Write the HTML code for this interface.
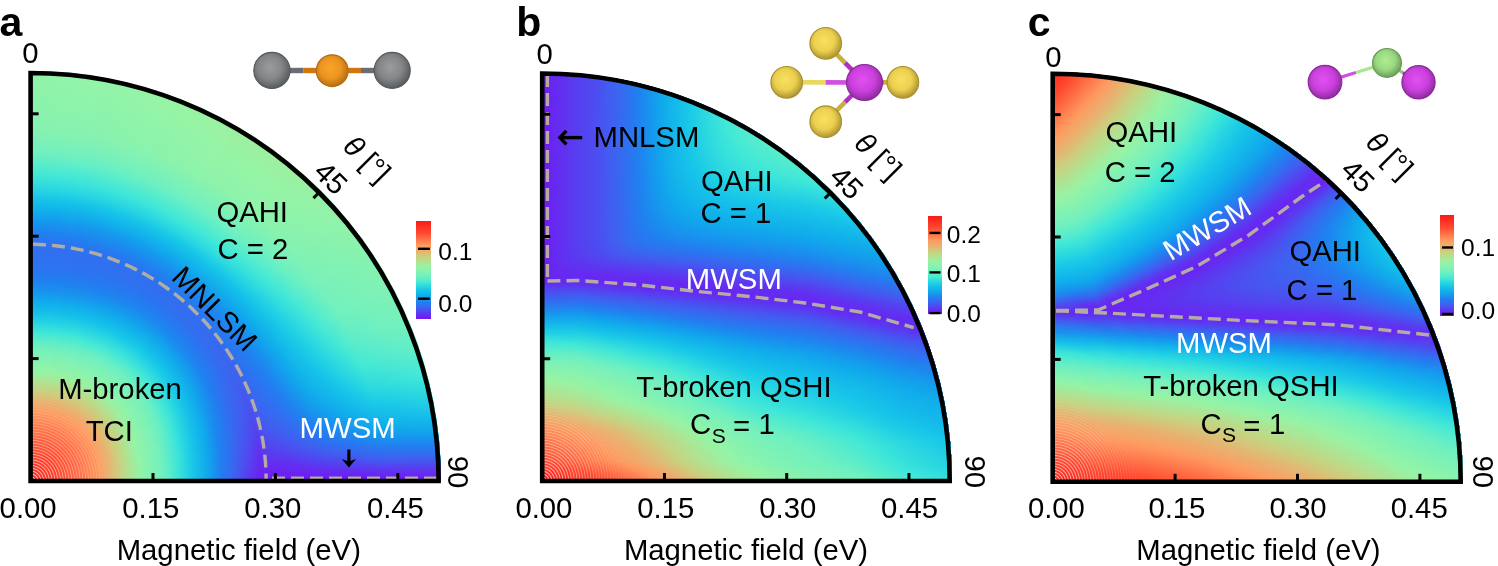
<!DOCTYPE html>
<html><head><meta charset="utf-8"><style>
html,body{margin:0;padding:0;background:#fff;}
body{width:1498px;height:566px;position:relative;overflow:hidden;font-family:"Liberation Sans", sans-serif;}
svg{position:absolute;left:0;top:0;will-change:transform;}
.hm{position:absolute;border-top-right-radius:100%;overflow:hidden;}
.L{position:absolute;left:0;top:0;width:100%;height:100%;}
</style></head><body>
<div class="hm" style="left:30.6px;top:71.0px;width:410.0px;height:410.0px"><div class="L" style="background:radial-gradient(circle 410.0px at 0 100%,#fb261f 0.0px,#fd3326 10.0px,#fe3f2b 20.0px,#ff4b31 30.0px,#ff5f3c 40.0px,#ff7248 50.0px,#ff8855 60.0px,#fc9d62 70.0px,#e7b370 80.0px,#cad07f 90.0px,#afe393 100.0px,#94f4a6 110.0px,#86f2b1 120.0px,#78f1ba 130.0px,#5eedc9 140.0px,#3ce5da 150.0px,#23d1e4 160.0px,#15bde9 170.0px,#11aaec 180.0px,#1991ee 190.0px,#1f81f0 200.0px,#2a76f0 210.0px,#2e72f0 220.0px,#316ff0 230.0px,#2b75f0 240.0px,#1e85ef 250.0px,#1698ee 260.0px,#12aeeb 270.0px,#16c0e9 280.0px,#25d3e3 290.0px,#37e1db 300.0px,#4aead3 310.0px,#60edc8 320.0px,#73f0be 330.0px,#7cf1b7 340.0px,#85f2b1 350.0px,#88f3af 360.0px,#8af3ae 370.0px,#8cf3ac 380.0px,#8ef3ab 390.0px,#90f3a9 400.0px,#92f4a8 410.0px);"></div><div class="L" style="background:radial-gradient(circle 410.0px at 0 100%,#fb261f 0.0px,#fd3326 10.0px,#fe3f2b 20.0px,#ff4b31 30.0px,#ff5e3c 40.0px,#ff7148 50.0px,#ff8755 60.0px,#fd9c62 70.0px,#e8b270 80.0px,#cbcf7f 90.0px,#b0e392 100.0px,#95f4a6 110.0px,#86f2b0 120.0px,#79f1ba 130.0px,#60edc8 140.0px,#3ee6d9 150.0px,#25d2e3 160.0px,#15bee9 170.0px,#11acec 180.0px,#1993ee 190.0px,#1f82f0 200.0px,#2977f0 210.0px,#2e72f0 220.0px,#316ff0 230.0px,#2a76f0 240.0px,#1e86ef 250.0px,#1699ee 260.0px,#12afeb 270.0px,#16c1e9 280.0px,#27d4e2 290.0px,#39e2db 300.0px,#4cead2 310.0px,#63eec7 320.0px,#74f0bd 330.0px,#7df1b6 340.0px,#87f2b0 350.0px,#89f3ae 360.0px,#8bf3ac 370.0px,#8ef3ab 380.0px,#90f3a9 390.0px,#92f4a8 400.0px,#93f4a7 410.0px);-webkit-mask-image:conic-gradient(from 0deg at 0 100%,transparent 0.00deg,#000 10.00deg);mask-image:conic-gradient(from 0deg at 0 100%,transparent 0.00deg,#000 10.00deg);"></div><div class="L" style="background:radial-gradient(circle 410.0px at 0 100%,#fb261f 0.0px,#fd3326 10.0px,#fe3f2b 20.0px,#ff4a30 30.0px,#ff5d3c 40.0px,#ff7047 50.0px,#ff8654 60.0px,#fe9b61 70.0px,#eab06e 80.0px,#cecc7d 90.0px,#b3e090 100.0px,#98f2a3 110.0px,#88f3af 120.0px,#7bf1b8 130.0px,#66eec5 140.0px,#43e9d6 150.0px,#2ad6e1 160.0px,#17c2e9 170.0px,#12b0eb 180.0px,#1699ee 190.0px,#1e85ef 200.0px,#2779f0 210.0px,#2e72f0 220.0px,#316ff0 230.0px,#2977f0 240.0px,#1d88ef 250.0px,#159bed 260.0px,#12b1eb 270.0px,#17c4e9 280.0px,#2ad6e1 290.0px,#3de5d9 300.0px,#52ebcf 310.0px,#69efc4 320.0px,#77f1bb 330.0px,#81f2b4 340.0px,#8af3ad 350.0px,#8df3ab 360.0px,#8ff3aa 370.0px,#91f4a8 380.0px,#94f4a7 390.0px,#96f4a5 400.0px,#98f3a4 410.0px);-webkit-mask-image:conic-gradient(from 0deg at 0 100%,transparent 10.00deg,#000 20.00deg);mask-image:conic-gradient(from 0deg at 0 100%,transparent 10.00deg,#000 20.00deg);"></div><div class="L" style="background:radial-gradient(circle 410.0px at 0 100%,#fb261f 0.0px,#fd3325 10.0px,#fe3f2b 20.0px,#ff4a30 30.0px,#ff5c3b 40.0px,#ff6f46 50.0px,#ff8453 60.0px,#ff9a60 70.0px,#edad6d 80.0px,#d2c87b 90.0px,#b7de8d 100.0px,#9cf0a0 110.0px,#8bf3ad 120.0px,#7ef1b6 130.0px,#6df0c1 140.0px,#4bead3 150.0px,#2fdbdf 160.0px,#18c7e8 170.0px,#13b4ea 180.0px,#13a0ed 190.0px,#1d89ef 200.0px,#247cf0 210.0px,#2e72f0 220.0px,#316ff0 230.0px,#2779f0 240.0px,#1c8aef 250.0px,#149eed 260.0px,#13b3eb 270.0px,#17c6e8 280.0px,#2dd9e0 290.0px,#40e8d8 300.0px,#57eccc 310.0px,#6ff0c1 320.0px,#7af1b9 330.0px,#84f2b2 340.0px,#8ef3ab 350.0px,#91f3a9 360.0px,#93f4a7 370.0px,#95f4a5 380.0px,#98f3a3 390.0px,#9bf1a1 400.0px,#9defa0 410.0px);-webkit-mask-image:conic-gradient(from 0deg at 0 100%,transparent 20.00deg,#000 30.00deg);mask-image:conic-gradient(from 0deg at 0 100%,transparent 20.00deg,#000 30.00deg);"></div><div class="L" style="background:radial-gradient(circle 410.0px at 0 100%,#fb261f 0.0px,#fd3325 10.0px,#fe3e2b 20.0px,#ff4930 30.0px,#ff5c3b 40.0px,#ff6e46 50.0px,#ff8352 60.0px,#ff985f 70.0px,#eeac6c 80.0px,#d4c67a 90.0px,#b9dc8b 100.0px,#9fee9e 110.0px,#8cf3ac 120.0px,#7ff2b5 130.0px,#71f0c0 140.0px,#4febd0 150.0px,#33dddd 160.0px,#1acae7 170.0px,#14b7ea 180.0px,#12a3ec 190.0px,#1c8aef 200.0px,#237df0 210.0px,#2f71f0 220.0px,#336df0 230.0px,#2779f0 240.0px,#1c8aef 250.0px,#149eed 260.0px,#13b3eb 270.0px,#17c5e8 280.0px,#2cd8e0 290.0px,#3fe7d8 300.0px,#56eccd 310.0px,#6ef0c1 320.0px,#7af1b9 330.0px,#84f2b2 340.0px,#8ef3ab 350.0px,#91f3a9 360.0px,#93f4a7 370.0px,#95f4a5 380.0px,#98f2a3 390.0px,#9bf0a1 400.0px,#9eef9f 410.0px);-webkit-mask-image:conic-gradient(from 0deg at 0 100%,transparent 30.00deg,#000 40.00deg);mask-image:conic-gradient(from 0deg at 0 100%,transparent 30.00deg,#000 40.00deg);"></div><div class="L" style="background:radial-gradient(circle 410.0px at 0 100%,#fb261f 0.0px,#fd3325 10.0px,#fe3e2b 20.0px,#ff4a30 30.0px,#ff5c3b 40.0px,#ff6e46 50.0px,#ff8352 60.0px,#ff995f 70.0px,#eeac6c 80.0px,#d4c67a 90.0px,#b9dc8b 100.0px,#9eee9f 110.0px,#8cf3ac 120.0px,#7ff2b6 130.0px,#70f0c0 140.0px,#4eead1 150.0px,#32ddde 160.0px,#1ac9e7 170.0px,#13b6ea 180.0px,#12a2ed 190.0px,#1d88ef 200.0px,#257bf0 210.0px,#316ff0 220.0px,#366af0 230.0px,#2977f0 240.0px,#1e86ef 250.0px,#1797ee 260.0px,#11adeb 270.0px,#15bee9 280.0px,#21cfe4 290.0px,#33dddd 300.0px,#43e9d6 310.0px,#59eccb 320.0px,#6ff0c1 330.0px,#79f1ba 340.0px,#82f2b3 350.0px,#85f2b1 360.0px,#88f2af 370.0px,#8af3ad 380.0px,#8df3ac 390.0px,#8ff3aa 400.0px,#91f3a9 410.0px);-webkit-mask-image:conic-gradient(from 0deg at 0 100%,transparent 40.00deg,#000 50.00deg);mask-image:conic-gradient(from 0deg at 0 100%,transparent 40.00deg,#000 50.00deg);"></div><div class="L" style="background:radial-gradient(circle 410.0px at 0 100%,#fb261f 0.0px,#fd3325 10.0px,#fe3f2b 20.0px,#ff4a30 30.0px,#ff5c3b 40.0px,#ff6f46 50.0px,#ff8453 60.0px,#ff9a60 70.0px,#edad6d 80.0px,#d2c87b 90.0px,#b7de8d 100.0px,#9df0a0 110.0px,#8bf3ad 120.0px,#7ef1b6 130.0px,#6df0c1 140.0px,#4bead2 150.0px,#2fdbdf 160.0px,#18c7e8 170.0px,#13b4eb 180.0px,#149eed 190.0px,#1e86ef 200.0px,#2878f0 210.0px,#346cf0 220.0px,#3a66f0 230.0px,#2c74f0 240.0px,#2081f0 250.0px,#1991ee 260.0px,#10a7ec 270.0px,#14b8ea 280.0px,#18c8e8 290.0px,#28d5e1 300.0px,#37e1dc 310.0px,#49e9d4 320.0px,#5dedca 330.0px,#70f0c0 340.0px,#79f1ba 350.0px,#7cf1b7 360.0px,#7ff2b6 370.0px,#81f2b4 380.0px,#84f2b2 390.0px,#86f2b0 400.0px,#88f3af 410.0px);-webkit-mask-image:conic-gradient(from 0deg at 0 100%,transparent 50.00deg,#000 56.00deg);mask-image:conic-gradient(from 0deg at 0 100%,transparent 50.00deg,#000 56.00deg);"></div><div class="L" style="background:radial-gradient(circle 410.0px at 0 100%,#fb261f 0.0px,#fd3326 10.0px,#fe3f2b 20.0px,#ff4a30 30.0px,#ff5d3b 40.0px,#ff7047 50.0px,#ff8553 60.0px,#fe9b60 70.0px,#ebaf6e 80.0px,#d0ca7c 90.0px,#b4df8e 100.0px,#9af1a2 110.0px,#89f3ae 120.0px,#7cf1b7 130.0px,#69efc4 140.0px,#46e9d5 150.0px,#2cd8e0 160.0px,#17c4e9 170.0px,#12b0eb 180.0px,#1699ee 190.0px,#1f81f0 200.0px,#2c74f0 210.0px,#3868f0 220.0px,#3e62f0 230.0px,#2f71f0 240.0px,#247cf0 250.0px,#1c8aef 260.0px,#149fed 270.0px,#12b0eb 280.0px,#16c0e9 290.0px,#1dcce6 300.0px,#2bd7e0 310.0px,#3ae3db 320.0px,#4bead3 330.0px,#5dedca 340.0px,#70f0c0 350.0px,#73f0be 360.0px,#76f1bc 370.0px,#78f1ba 380.0px,#7bf1b8 390.0px,#7df1b6 400.0px,#80f2b5 410.0px);-webkit-mask-image:conic-gradient(from 0deg at 0 100%,transparent 56.00deg,#000 62.00deg);mask-image:conic-gradient(from 0deg at 0 100%,transparent 56.00deg,#000 62.00deg);"></div><div class="L" style="background:radial-gradient(circle 410.0px at 0 100%,#fb261f 0.0px,#fd3326 10.0px,#fe3f2b 20.0px,#ff4b30 30.0px,#ff5e3c 40.0px,#ff7147 50.0px,#ff8654 60.0px,#fe9b61 70.0px,#eab06f 80.0px,#cdcd7d 90.0px,#b2e190 100.0px,#97f3a4 110.0px,#88f3af 120.0px,#7af1b9 130.0px,#64eec6 140.0px,#41e8d7 150.0px,#28d5e2 160.0px,#16c1e9 170.0px,#11adeb 180.0px,#1893ee 190.0px,#227ef0 200.0px,#316ff0 210.0px,#3c64f0 220.0px,#445af0 230.0px,#346cf0 240.0px,#2977f0 250.0px,#1f82f0 260.0px,#1895ee 270.0px,#10a8ec 280.0px,#14b7ea 290.0px,#17c2e9 300.0px,#1ecde6 310.0px,#2cd8e0 320.0px,#39e2db 330.0px,#48e9d4 340.0px,#5aeccb 350.0px,#60edc8 360.0px,#66eec5 370.0px,#6cefc2 380.0px,#71f0bf 390.0px,#74f0bd 400.0px,#76f1bc 410.0px);-webkit-mask-image:conic-gradient(from 0deg at 0 100%,transparent 62.00deg,#000 67.00deg);mask-image:conic-gradient(from 0deg at 0 100%,transparent 62.00deg,#000 67.00deg);"></div><div class="L" style="background:radial-gradient(circle 410.0px at 0 100%,#fb261f 0.0px,#fd3326 10.0px,#fe3f2b 20.0px,#ff4b31 30.0px,#ff5e3c 40.0px,#ff7148 50.0px,#ff8755 60.0px,#fd9c61 70.0px,#e8b270 80.0px,#cbcf7e 90.0px,#b0e292 100.0px,#95f4a6 110.0px,#87f2b0 120.0px,#79f1ba 130.0px,#61edc8 140.0px,#3ee7d9 150.0px,#25d2e3 160.0px,#16bee9 170.0px,#11abec 180.0px,#1a8eef 190.0px,#257bf0 200.0px,#356bf0 210.0px,#4060f0 220.0px,#4953f0 230.0px,#3967f0 240.0px,#2f71f0 250.0px,#267af0 260.0px,#1c8aef 270.0px,#159ced 280.0px,#11adeb 290.0px,#14b8ea 300.0px,#16c1e9 310.0px,#1ccce6 320.0px,#29d6e1 330.0px,#35dfdc 340.0px,#41e8d7 350.0px,#48e9d4 360.0px,#4eead1 370.0px,#54ebce 380.0px,#5aeccb 390.0px,#60edc8 400.0px,#65eec5 410.0px);-webkit-mask-image:conic-gradient(from 0deg at 0 100%,transparent 67.00deg,#000 71.00deg);mask-image:conic-gradient(from 0deg at 0 100%,transparent 67.00deg,#000 71.00deg);"></div><div class="L" style="background:radial-gradient(circle 410.0px at 0 100%,#fb261f 0.0px,#fd3426 10.0px,#fe3f2b 20.0px,#ff4b31 30.0px,#ff5f3c 40.0px,#ff7248 50.0px,#ff8855 60.0px,#fc9d62 70.0px,#e7b371 80.0px,#c9d17f 90.0px,#aee493 100.0px,#93f4a7 110.0px,#85f2b1 120.0px,#78f1ba 130.0px,#5dedc9 140.0px,#3be4da 150.0px,#22d0e4 160.0px,#15bcea 170.0px,#10a8ec 180.0px,#1c8aef 190.0px,#2977f0 200.0px,#3a66f0 210.0px,#4559f0 220.0px,#5049f0 230.0px,#4060f0 240.0px,#3868f0 250.0px,#2f71f0 260.0px,#237df0 270.0px,#1b8cef 280.0px,#159ced 290.0px,#10a9ec 300.0px,#13b2eb 310.0px,#15bbea 320.0px,#17c4e8 330.0px,#1ecde6 340.0px,#29d6e1 350.0px,#2edadf 360.0px,#32dddd 370.0px,#37e1dc 380.0px,#3be4da 390.0px,#3fe7d8 400.0px,#44e9d6 410.0px);-webkit-mask-image:conic-gradient(from 0deg at 0 100%,transparent 71.00deg,#000 75.00deg);mask-image:conic-gradient(from 0deg at 0 100%,transparent 71.00deg,#000 75.00deg);"></div><div class="L" style="background:radial-gradient(circle 410.0px at 0 100%,#fb261f 0.0px,#fd3426 10.0px,#fe3f2b 20.0px,#ff4c31 30.0px,#ff5f3d 40.0px,#ff7248 50.0px,#ff8956 60.0px,#fc9d62 70.0px,#e6b471 80.0px,#c8d280 90.0px,#ade594 100.0px,#92f4a8 110.0px,#85f2b1 120.0px,#77f1bb 130.0px,#5beccb 140.0px,#3ae3db 150.0px,#20cfe5 160.0px,#14baea 170.0px,#11a5ec 180.0px,#1e86ef 190.0px,#2c74f0 200.0px,#3d63f0 210.0px,#4953f0 220.0px,#5640f0 230.0px,#4756f0 240.0px,#4060f0 250.0px,#3967f0 260.0px,#2e72f0 270.0px,#247cf0 280.0px,#1c8aef 290.0px,#1796ee 300.0px,#13a1ed 310.0px,#11acec 320.0px,#13b3eb 330.0px,#15bbea 340.0px,#17c3e9 350.0px,#18c7e8 360.0px,#1bcae7 370.0px,#1fcde5 380.0px,#23d1e4 390.0px,#27d4e2 400.0px,#2bd7e0 410.0px);-webkit-mask-image:conic-gradient(from 0deg at 0 100%,transparent 75.00deg,#000 78.00deg);mask-image:conic-gradient(from 0deg at 0 100%,transparent 75.00deg,#000 78.00deg);"></div><div class="L" style="background:radial-gradient(circle 410.0px at 0 100%,#fb261f 0.0px,#fd3426 10.0px,#fe402b 20.0px,#ff4c31 30.0px,#ff5f3d 40.0px,#ff7349 50.0px,#ff8956 60.0px,#fb9e63 70.0px,#e5b572 80.0px,#c7d381 90.0px,#ace595 100.0px,#92f4a8 110.0px,#84f2b2 120.0px,#76f1bc 130.0px,#59eccc 140.0px,#38e2db 150.0px,#1fcde5 160.0px,#14b9ea 170.0px,#12a3ed 180.0px,#1f83f0 190.0px,#2e72f0 200.0px,#415ef0 210.0px,#4e4cf0 220.0px,#5d36f0 230.0px,#5049f0 240.0px,#4a51f0 250.0px,#4559f0 260.0px,#3c64f0 270.0px,#346cf0 280.0px,#2a76f0 290.0px,#227ef0 300.0px,#1d87ef 310.0px,#1a90ee 320.0px,#169aed 330.0px,#12a3ec 340.0px,#11acec 350.0px,#12afeb 360.0px,#12b2eb 370.0px,#13b5ea 380.0px,#14b8ea 390.0px,#15bbea 400.0px,#15bee9 410.0px);-webkit-mask-image:conic-gradient(from 0deg at 0 100%,transparent 78.00deg,#000 81.00deg);mask-image:conic-gradient(from 0deg at 0 100%,transparent 78.00deg,#000 81.00deg);"></div><div class="L" style="background:radial-gradient(circle 410.0px at 0 100%,#fb261f 0.0px,#fd3426 10.0px,#fe402b 20.0px,#ff4c31 30.0px,#ff603d 40.0px,#ff7349 50.0px,#ff8a56 60.0px,#fb9e63 70.0px,#e4b672 80.0px,#c7d381 90.0px,#abe695 100.0px,#91f4a8 110.0px,#84f2b2 120.0px,#75f1bc 130.0px,#58eccc 140.0px,#37e1dc 150.0px,#1ecde6 160.0px,#14b8ea 170.0px,#13a1ed 180.0px,#1f82f0 190.0px,#3070f0 200.0px,#445bf0 210.0px,#5247f0 220.0px,#6230f0 230.0px,#583ef0 240.0px,#5345f0 250.0px,#4e4cf0 260.0px,#4855f0 270.0px,#4060f0 280.0px,#3967f0 290.0px,#326ef0 300.0px,#2c74f0 310.0px,#267af0 320.0px,#2081f0 330.0px,#1c89ef 340.0px,#1991ee 350.0px,#1895ee 360.0px,#1699ed 370.0px,#149ded 380.0px,#13a1ed 390.0px,#11a5ec 400.0px,#10a8ec 410.0px);-webkit-mask-image:conic-gradient(from 0deg at 0 100%,transparent 81.00deg,#000 83.00deg);mask-image:conic-gradient(from 0deg at 0 100%,transparent 81.00deg,#000 83.00deg);"></div><div class="L" style="background:radial-gradient(circle 410.0px at 0 100%,#fb261f 0.0px,#fd3426 10.0px,#fe402b 20.0px,#ff4c31 30.0px,#ff603d 40.0px,#ff7349 50.0px,#ff8a56 60.0px,#fb9e63 70.0px,#e4b672 80.0px,#c6d381 90.0px,#aae696 100.0px,#91f3a8 110.0px,#83f2b2 120.0px,#75f1bc 130.0px,#57eccd 140.0px,#37e0dc 150.0px,#1dcce6 160.0px,#14b7ea 170.0px,#13a0ed 180.0px,#2080f0 190.0px,#326ef0 200.0px,#4657f0 210.0px,#5641f0 220.0px,#662af1 230.0px,#6032f0 240.0px,#5d36f0 250.0px,#593cf0 260.0px,#5443f0 270.0px,#4f4af0 280.0px,#4952f0 290.0px,#445af0 300.0px,#4060f0 310.0px,#3b65f0 320.0px,#366af0 330.0px,#316ff0 340.0px,#2c74f0 350.0px,#2a76f0 360.0px,#2779f0 370.0px,#257bf0 380.0px,#227ef0 390.0px,#2080f0 400.0px,#1f83f0 410.0px);-webkit-mask-image:conic-gradient(from 0deg at 0 100%,transparent 83.00deg,#000 85.00deg);mask-image:conic-gradient(from 0deg at 0 100%,transparent 83.00deg,#000 85.00deg);"></div><div class="L" style="background:radial-gradient(circle 410.0px at 0 100%,#fb261f 0.0px,#fd3426 10.0px,#fe402b 20.0px,#ff4c31 30.0px,#ff603d 40.0px,#ff7349 50.0px,#ff8a56 60.0px,#fb9f63 70.0px,#e3b772 80.0px,#c6d382 90.0px,#aae696 100.0px,#91f3a9 110.0px,#83f2b2 120.0px,#75f1bd 130.0px,#56eccd 140.0px,#36e0dc 150.0px,#1dcce6 160.0px,#14b7ea 170.0px,#149fed 180.0px,#217ff0 190.0px,#346cf0 200.0px,#4954f0 210.0px,#593df0 220.0px,#6926f2 230.0px,#662af1 240.0px,#642cf1 250.0px,#622ff0 260.0px,#5f33f0 270.0px,#5b39f0 280.0px,#573ef0 290.0px,#5443f0 300.0px,#5048f0 310.0px,#4d4df0 320.0px,#4952f0 330.0px,#4658f0 340.0px,#425df0 350.0px,#4060f0 360.0px,#3e62f0 370.0px,#3d63f0 380.0px,#3b65f0 390.0px,#3967f0 400.0px,#3769f0 410.0px);-webkit-mask-image:conic-gradient(from 0deg at 0 100%,transparent 85.00deg,#000 86.50deg);mask-image:conic-gradient(from 0deg at 0 100%,transparent 85.00deg,#000 86.50deg);"></div><div class="L" style="background:radial-gradient(circle 410.0px at 0 100%,#fb261f 0.0px,#fd3426 10.0px,#fe402b 20.0px,#ff4c31 30.0px,#ff603d 40.0px,#ff7349 50.0px,#ff8a57 60.0px,#fb9f63 70.0px,#e3b772 80.0px,#c6d482 90.0px,#aae696 100.0px,#91f3a9 110.0px,#83f2b3 120.0px,#75f0bd 130.0px,#56eccd 140.0px,#36e0dc 150.0px,#1ccbe6 160.0px,#14b7ea 170.0px,#149eed 180.0px,#227ef0 190.0px,#356bf0 200.0px,#4b51f0 210.0px,#5c38f0 220.0px,#6d21f2 230.0px,#6d21f2 240.0px,#6c23f2 250.0px,#6b24f2 260.0px,#6927f2 270.0px,#6729f1 280.0px,#652bf1 290.0px,#642df1 300.0px,#622ff0 310.0px,#6032f0 320.0px,#5e34f0 330.0px,#5c37f0 340.0px,#5a3af0 350.0px,#593cf0 360.0px,#583ef0 370.0px,#573ff0 380.0px,#5641f0 390.0px,#5542f0 400.0px,#5344f0 410.0px);-webkit-mask-image:conic-gradient(from 0deg at 0 100%,transparent 86.50deg,#000 88.00deg);mask-image:conic-gradient(from 0deg at 0 100%,transparent 86.50deg,#000 88.00deg);"></div><div class="L" style="background:radial-gradient(circle 410.0px at 0 100%,#fb261f 0.0px,#fd3426 10.0px,#fe402b 20.0px,#ff4c31 30.0px,#ff603d 40.0px,#ff7349 50.0px,#ff8a57 60.0px,#fb9f63 70.0px,#e3b772 80.0px,#c6d482 90.0px,#aae796 100.0px,#91f3a9 110.0px,#83f2b3 120.0px,#74f0bd 130.0px,#56eccd 140.0px,#36e0dc 150.0px,#1ccbe6 160.0px,#14b6ea 170.0px,#149eed 180.0px,#227ef0 190.0px,#366af0 200.0px,#4c4ff0 210.0px,#5e35f0 220.0px,#6f1ef3 230.0px,#721cf3 240.0px,#711cf3 250.0px,#701df3 260.0px,#701ef3 270.0px,#6f1ff3 280.0px,#6e20f3 290.0px,#6d21f2 300.0px,#6c22f2 310.0px,#6c23f2 320.0px,#6b24f2 330.0px,#6a25f2 340.0px,#6927f2 350.0px,#6927f2 360.0px,#6828f1 370.0px,#6828f1 380.0px,#6729f1 390.0px,#672af1 400.0px,#662af1 410.0px);-webkit-mask-image:conic-gradient(from 0deg at 0 100%,transparent 88.00deg,#000 89.00deg);mask-image:conic-gradient(from 0deg at 0 100%,transparent 88.00deg,#000 89.00deg);"></div><div class="L" style="background:radial-gradient(circle 410.0px at 0 100%,#fb261f 0.0px,#fd3426 10.0px,#fe402b 20.0px,#ff4c31 30.0px,#ff603d 40.0px,#ff7349 50.0px,#ff8a57 60.0px,#fa9f63 70.0px,#e3b773 80.0px,#c6d482 90.0px,#aae796 100.0px,#91f3a9 110.0px,#83f2b3 120.0px,#74f0bd 130.0px,#55eccd 140.0px,#36e0dc 150.0px,#1ccbe6 160.0px,#14b6ea 170.0px,#149eed 180.0px,#237df0 190.0px,#3769f0 200.0px,#4d4df0 210.0px,#6032f0 220.0px,#721cf3 230.0px,#7616f4 240.0px,#7616f4 250.0px,#7616f4 260.0px,#7616f4 270.0px,#7616f4 280.0px,#7616f4 290.0px,#7616f4 300.0px,#7616f4 310.0px,#7616f4 320.0px,#7616f4 330.0px,#7616f4 340.0px,#7616f4 350.0px,#7616f4 360.0px,#7616f4 370.0px,#7616f4 380.0px,#7616f4 390.0px,#7616f4 400.0px,#7616f4 410.0px);-webkit-mask-image:conic-gradient(from 0deg at 0 100%,transparent 89.00deg,#000 90.00deg);mask-image:conic-gradient(from 0deg at 0 100%,transparent 89.00deg,#000 90.00deg);"></div><div class="L" style="background:repeating-radial-gradient(circle at 0 100%,rgba(255,255,255,0) 0px,rgba(255,255,255,0) 0.5px,rgba(255,255,255,0.8) 1.4px,rgba(255,255,255,0) 2.3px,rgba(255,255,255,0) 2.8px);-webkit-mask-image:radial-gradient(circle 95px at 0 100%,rgba(0,0,0,0.95) 0px,rgba(0,0,0,0.55) 35px,rgba(0,0,0,0.2) 65px,rgba(0,0,0,0) 95px);mask-image:radial-gradient(circle 95px at 0 100%,rgba(0,0,0,0.95) 0px,rgba(0,0,0,0.55) 35px,rgba(0,0,0,0.2) 65px,rgba(0,0,0,0) 95px)"></div></div><div class="hm" style="left:542.2px;top:71.5px;width:409.5px;height:409.5px"><div class="L" style="background:radial-gradient(circle 409.5px at 0 100%,#fa1e1c 0.0px,#fd3325 10.0px,#ff4b31 20.0px,#ff5e3c 30.0px,#ff7248 40.0px,#ff8855 49.9px,#f5a567 59.9px,#ddbd76 69.9px,#c0d886 79.9px,#ade494 89.9px,#9cf0a1 99.9px,#8df3ab 109.9px,#7bf1b8 119.9px,#61eec7 129.8px,#3ce5da 139.8px,#1bcae7 149.8px,#12b0eb 159.8px,#1b8def 169.8px,#356bf0 179.8px,#4f4af0 189.8px,#6b24f2 199.8px,#721cf3 209.7px,#721cf3 219.7px,#721cf3 229.7px,#721cf3 239.7px,#721cf3 249.7px,#721cf3 259.7px,#721cf3 269.7px,#721cf3 279.7px,#721cf3 289.6px,#721cf3 299.6px,#721cf3 309.6px,#721cf3 319.6px,#721cf3 329.6px,#721cf3 339.6px,#721cf3 349.6px,#721cf3 359.6px,#721cf3 369.5px,#721cf3 379.5px,#721cf3 389.5px,#721cf3 399.5px,#721cf3 409.5px);"></div><div class="L" style="background:radial-gradient(circle 409.5px at 0 100%,#fa1e1c 0.0px,#fd3325 10.0px,#ff4b31 20.0px,#ff5e3c 30.0px,#ff7348 40.0px,#ff8855 49.9px,#f5a567 59.9px,#dcbe76 69.9px,#c0d886 79.9px,#ade494 89.9px,#9cf0a1 99.9px,#8df3ab 109.9px,#7bf1b8 119.9px,#61edc8 129.8px,#3ce5da 139.8px,#1bcae7 149.8px,#12b0eb 159.8px,#1b8def 169.8px,#356bf0 179.8px,#4f4bf0 189.8px,#6b24f2 199.8px,#721cf3 209.7px,#721cf3 219.7px,#721cf3 229.7px,#721cf3 239.7px,#721cf3 249.7px,#721cf3 259.7px,#721cf3 269.7px,#721cf3 279.7px,#721cf3 289.6px,#721cf3 299.6px,#721cf3 309.6px,#721cf3 319.6px,#721cf3 329.6px,#721cf3 339.6px,#721cf3 349.6px,#721cf3 359.6px,#721cf3 369.5px,#721cf3 379.5px,#721cf3 389.5px,#721cf3 399.5px,#721cf3 409.5px);-webkit-mask-image:conic-gradient(from 0deg at 0 100%,transparent 0.00deg,#000 0.50deg);mask-image:conic-gradient(from 0deg at 0 100%,transparent 0.00deg,#000 0.50deg);"></div><div class="L" style="background:radial-gradient(circle 409.5px at 0 100%,#fa1e1c 0.0px,#fd3325 10.0px,#ff4b31 20.0px,#ff5f3c 30.0px,#ff7348 40.0px,#ff8956 49.9px,#f5a567 59.9px,#dcbe76 69.9px,#bfd886 79.9px,#ade494 89.9px,#9bf0a1 99.9px,#8df3ab 109.9px,#7bf1b8 119.9px,#61edc8 129.8px,#3ce5da 139.8px,#1bcae7 149.8px,#12b0eb 159.8px,#1b8def 169.8px,#356bf0 179.8px,#4f4bf0 189.8px,#6b24f2 199.8px,#721cf3 209.7px,#721cf3 219.7px,#721cf3 229.7px,#721cf3 239.7px,#721cf3 249.7px,#721cf3 259.7px,#721cf3 269.7px,#721cf3 279.7px,#721cf3 289.6px,#721cf3 299.6px,#711cf3 309.6px,#711cf3 319.6px,#711df3 329.6px,#701df3 339.6px,#701df3 349.6px,#701ef3 359.6px,#701ef3 369.5px,#6f1ef3 379.5px,#6f1ff3 389.5px,#6f1ff3 399.5px,#6f1ff3 409.5px);-webkit-mask-image:conic-gradient(from 0deg at 0 100%,transparent 0.50deg,#000 1.00deg);mask-image:conic-gradient(from 0deg at 0 100%,transparent 0.50deg,#000 1.00deg);"></div><div class="L" style="background:radial-gradient(circle 409.5px at 0 100%,#fa1e1c 0.0px,#fd3325 10.0px,#ff4b31 20.0px,#ff5f3c 30.0px,#ff7349 40.0px,#ff8956 49.9px,#f4a567 59.9px,#dcbe76 69.9px,#bfd887 79.9px,#ade494 89.9px,#9bf1a1 99.9px,#8df3ab 109.9px,#7bf1b8 119.9px,#60edc8 129.8px,#3ce5da 139.8px,#1bcae7 149.8px,#12b0eb 159.8px,#1b8def 169.8px,#346cf0 179.8px,#4e4bf0 189.8px,#6b24f2 199.8px,#711cf3 209.7px,#711df3 219.7px,#701df3 229.7px,#701ef3 239.7px,#701ef3 249.7px,#6f1ff3 259.7px,#6f1ff3 269.7px,#6e20f3 279.7px,#6e20f3 289.6px,#6d21f2 299.6px,#6d21f2 309.6px,#6d22f2 319.6px,#6c22f2 329.6px,#6c23f2 339.6px,#6b23f2 349.6px,#6b24f2 359.6px,#6b25f2 369.5px,#6a25f2 379.5px,#6a26f2 389.5px,#6926f2 399.5px,#6927f2 409.5px);-webkit-mask-image:conic-gradient(from 0deg at 0 100%,transparent 1.00deg,#000 1.50deg);mask-image:conic-gradient(from 0deg at 0 100%,transparent 1.00deg,#000 1.50deg);"></div><div class="L" style="background:radial-gradient(circle 409.5px at 0 100%,#fa1e1c 0.0px,#fd3325 10.0px,#ff4b31 20.0px,#ff5f3d 30.0px,#ff7349 40.0px,#ff8956 49.9px,#f4a567 59.9px,#dcbe76 69.9px,#bfd887 79.9px,#ade594 89.9px,#9bf1a1 99.9px,#8df3ac 109.9px,#7bf1b8 119.9px,#60edc8 129.8px,#3ce5da 139.8px,#1bcae7 149.8px,#12b0eb 159.8px,#1b8def 169.8px,#346cf0 179.8px,#4e4cf0 189.8px,#6b25f2 199.8px,#6e20f3 209.7px,#6e20f3 219.7px,#6d21f2 229.7px,#6d22f2 239.7px,#6c23f2 249.7px,#6c23f2 259.7px,#6b24f2 269.7px,#6a25f2 279.7px,#6a25f2 289.6px,#6926f2 299.6px,#6927f2 309.6px,#6827f2 319.6px,#6828f1 329.6px,#6729f1 339.6px,#672af1 349.6px,#662af1 359.6px,#662af1 369.5px,#662af1 379.5px,#662bf1 389.5px,#652bf1 399.5px,#652bf1 409.5px);-webkit-mask-image:conic-gradient(from 0deg at 0 100%,transparent 1.50deg,#000 2.00deg);mask-image:conic-gradient(from 0deg at 0 100%,transparent 1.50deg,#000 2.00deg);"></div><div class="L" style="background:radial-gradient(circle 409.5px at 0 100%,#fa1e1c 0.0px,#fd3325 10.0px,#ff4c31 20.0px,#ff5f3d 30.0px,#ff7449 40.0px,#ff8a56 49.9px,#f4a668 59.9px,#dbbf76 69.9px,#bfd887 79.9px,#ace595 89.9px,#9bf1a2 99.9px,#8df3ac 109.9px,#7bf1b8 119.9px,#60edc8 129.8px,#3ce5da 139.8px,#1bcbe7 149.8px,#12b0eb 159.8px,#1a8eef 169.8px,#336df0 179.8px,#4e4cf0 189.8px,#6a25f2 199.8px,#6926f2 209.7px,#6828f1 219.7px,#6729f1 229.7px,#662af1 239.7px,#662af1 249.7px,#662bf1 259.7px,#652bf1 269.7px,#652cf1 279.7px,#652cf1 289.6px,#642df1 299.6px,#642df1 309.6px,#642df1 319.6px,#632ef1 329.6px,#632ef1 339.6px,#632ff0 349.6px,#622ff0 359.6px,#6230f0 369.5px,#6130f0 379.5px,#6131f0 389.5px,#6131f0 399.5px,#6032f0 409.5px);-webkit-mask-image:conic-gradient(from 0deg at 0 100%,transparent 2.00deg,#000 3.00deg);mask-image:conic-gradient(from 0deg at 0 100%,transparent 2.00deg,#000 3.00deg);"></div><div class="L" style="background:radial-gradient(circle 409.5px at 0 100%,#fa1e1c 0.0px,#fd3325 10.0px,#ff4c31 20.0px,#ff603d 30.0px,#ff7449 40.0px,#ff8a57 49.9px,#f4a668 59.9px,#dbbf76 69.9px,#bed987 79.9px,#ace595 89.9px,#9af1a2 99.9px,#8cf3ac 109.9px,#7bf1b8 119.9px,#60edc8 129.8px,#3ce5da 139.8px,#1ccbe7 149.8px,#12b1eb 159.8px,#1a8fef 169.8px,#336df0 179.8px,#4d4ef0 189.8px,#6926f2 199.8px,#6729f1 209.7px,#652cf1 219.7px,#642df1 229.7px,#642df1 239.7px,#632ef1 249.7px,#632ff0 259.7px,#622ff0 269.7px,#6230f0 279.7px,#6130f0 289.6px,#6131f0 299.6px,#6032f0 309.6px,#6032f0 319.6px,#5f33f0 329.6px,#5f34f0 339.6px,#5e35f0 349.6px,#5d36f0 359.6px,#5d36f0 369.5px,#5c37f0 379.5px,#5c38f0 389.5px,#5b39f0 399.5px,#5b3af0 409.5px);-webkit-mask-image:conic-gradient(from 0deg at 0 100%,transparent 3.00deg,#000 4.00deg);mask-image:conic-gradient(from 0deg at 0 100%,transparent 3.00deg,#000 4.00deg);"></div><div class="L" style="background:radial-gradient(circle 409.5px at 0 100%,#fa1e1c 0.0px,#fd3325 10.0px,#ff4c31 20.0px,#ff603d 30.0px,#ff754a 40.0px,#ff8b57 49.9px,#f3a668 59.9px,#dbbf77 69.9px,#bed987 79.9px,#ace595 89.9px,#9af1a2 99.9px,#8cf3ac 109.9px,#7bf1b8 119.9px,#60edc8 129.8px,#3ce5da 139.8px,#1ccbe6 149.8px,#12b1eb 159.8px,#1a90ee 169.8px,#326ef0 179.8px,#4c4ff0 189.8px,#6828f1 199.8px,#672af1 209.7px,#632ff0 219.7px,#6230f0 229.7px,#6131f0 239.7px,#6032f0 249.7px,#6033f0 259.7px,#5f34f0 269.7px,#5e35f0 279.7px,#5d36f0 289.6px,#5d37f0 299.6px,#5c38f0 309.6px,#5b39f0 319.6px,#5b3af0 329.6px,#5a3bf0 339.6px,#5a3bf0 349.6px,#593cf0 359.6px,#593df0 369.5px,#583df0 379.5px,#583ef0 389.5px,#573ff0 399.5px,#573ff0 409.5px);-webkit-mask-image:conic-gradient(from 0deg at 0 100%,transparent 4.00deg,#000 5.00deg);mask-image:conic-gradient(from 0deg at 0 100%,transparent 4.00deg,#000 5.00deg);"></div><div class="L" style="background:radial-gradient(circle 409.5px at 0 100%,#fa1e1c 0.0px,#fd3325 10.0px,#ff4c31 20.0px,#ff603d 30.0px,#ff754a 40.0px,#ff8b57 49.9px,#f3a668 59.9px,#dbbf77 69.9px,#bed987 79.9px,#abe595 89.9px,#9af1a2 99.9px,#8cf3ac 109.9px,#7bf1b8 119.9px,#61edc8 129.8px,#3ce5d9 139.8px,#1dcce6 149.8px,#13b2eb 159.8px,#1991ee 169.8px,#316ff0 179.8px,#4b50f0 189.8px,#6729f1 199.8px,#662af1 209.7px,#6131f0 219.7px,#5f34f0 229.7px,#5e35f0 239.7px,#5d37f0 249.7px,#5c38f0 259.7px,#5b39f0 269.7px,#5a3af0 279.7px,#5a3bf0 289.6px,#593cf0 299.6px,#593df0 309.6px,#583df0 319.6px,#573ef0 329.6px,#573ff0 339.6px,#5640f0 349.6px,#5641f0 359.6px,#5542f0 369.5px,#5542f0 379.5px,#5443f0 389.5px,#5344f0 399.5px,#5345f0 409.5px);-webkit-mask-image:conic-gradient(from 0deg at 0 100%,transparent 5.00deg,#000 6.00deg);mask-image:conic-gradient(from 0deg at 0 100%,transparent 5.00deg,#000 6.00deg);"></div><div class="L" style="background:radial-gradient(circle 409.5px at 0 100%,#fa1e1c 0.0px,#fd3325 10.0px,#ff4c31 20.0px,#ff613e 30.0px,#ff754a 40.0px,#ff8c57 49.9px,#f3a668 59.9px,#dbbf77 69.9px,#bed987 79.9px,#abe695 89.9px,#9af2a2 99.9px,#8cf3ac 109.9px,#7bf1b8 119.9px,#61eec7 129.8px,#3de5d9 139.8px,#1ecde6 149.8px,#13b3eb 159.8px,#1993ee 169.8px,#2f71f0 179.8px,#4a52f0 189.8px,#662bf1 199.8px,#662af1 209.7px,#5f33f0 219.7px,#5c38f0 229.7px,#5b3af0 239.7px,#5a3bf0 249.7px,#593cf0 259.7px,#583df0 269.7px,#583ef0 279.7px,#573ff0 289.6px,#5640f0 299.6px,#5641f0 309.6px,#5542f0 319.6px,#5443f0 329.6px,#5444f0 339.6px,#5345f0 349.6px,#5246f0 359.6px,#5247f0 369.5px,#5148f0 379.5px,#5049f0 389.5px,#5049f0 399.5px,#4f4af0 409.5px);-webkit-mask-image:conic-gradient(from 0deg at 0 100%,transparent 6.00deg,#000 7.00deg);mask-image:conic-gradient(from 0deg at 0 100%,transparent 6.00deg,#000 7.00deg);"></div><div class="L" style="background:radial-gradient(circle 409.5px at 0 100%,#fa1e1c 0.0px,#fd3326 10.0px,#ff4c31 20.0px,#ff613e 30.0px,#ff764a 40.0px,#ff8c58 49.9px,#f3a668 59.9px,#dac077 69.9px,#bed987 79.9px,#abe695 89.9px,#9af2a2 99.9px,#8cf3ac 109.9px,#7bf1b8 119.9px,#62eec7 129.8px,#3de6d9 139.8px,#1fcde5 149.8px,#13b4eb 159.8px,#1894ee 169.8px,#2e72f0 179.8px,#4854f0 189.8px,#642cf1 199.8px,#672af1 209.7px,#5e35f0 219.7px,#5a3bf0 229.7px,#583df0 239.7px,#573ef0 249.7px,#573ff0 259.7px,#5641f0 269.7px,#5542f0 279.7px,#5443f0 289.6px,#5444f0 299.6px,#5345f0 309.6px,#5246f0 319.6px,#5147f0 329.6px,#5048f0 339.6px,#5049f0 349.6px,#4f4bf0 359.6px,#4e4cf0 369.5px,#4d4df0 379.5px,#4d4ef0 389.5px,#4c4ff0 399.5px,#4b50f0 409.5px);-webkit-mask-image:conic-gradient(from 0deg at 0 100%,transparent 7.00deg,#000 8.00deg);mask-image:conic-gradient(from 0deg at 0 100%,transparent 7.00deg,#000 8.00deg);"></div><div class="L" style="background:radial-gradient(circle 409.5px at 0 100%,#fa1e1c 0.0px,#fd3326 10.0px,#ff4d32 20.0px,#ff613e 30.0px,#ff764b 40.0px,#ff8d58 49.9px,#f3a768 59.9px,#dac077 69.9px,#bed987 79.9px,#abe696 89.9px,#99f2a2 99.9px,#8cf3ac 109.9px,#7bf1b8 119.9px,#63eec6 129.8px,#3fe7d8 139.8px,#21cfe4 149.8px,#14b6ea 159.8px,#1698ee 169.8px,#2a76f0 179.8px,#4559f0 189.8px,#6131f0 199.8px,#6828f1 209.7px,#5d36f0 219.7px,#573ff0 229.7px,#5443f0 239.7px,#5345f0 249.7px,#5246f0 259.7px,#5148f0 269.7px,#5049f0 279.7px,#4f4bf0 289.6px,#4e4cf0 299.6px,#4d4df0 309.6px,#4c4ff0 319.6px,#4b50f0 329.6px,#4a52f0 339.6px,#4854f0 349.6px,#4757f0 359.6px,#4559f0 369.5px,#435bf0 379.5px,#425ef0 389.5px,#4060f0 399.5px,#3f61f0 409.5px);-webkit-mask-image:conic-gradient(from 0deg at 0 100%,transparent 8.00deg,#000 10.00deg);mask-image:conic-gradient(from 0deg at 0 100%,transparent 8.00deg,#000 10.00deg);"></div><div class="L" style="background:radial-gradient(circle 409.5px at 0 100%,#fa1e1c 0.0px,#fd3326 10.0px,#ff4d32 20.0px,#ff623e 30.0px,#ff774b 40.0px,#ff8d58 49.9px,#f3a768 59.9px,#dbbf77 69.9px,#bfd887 79.9px,#abe696 89.9px,#9af2a2 99.9px,#8cf3ac 109.9px,#7cf1b7 119.9px,#65eec5 129.8px,#41e8d8 139.8px,#24d1e3 149.8px,#14b9ea 159.8px,#159ced 169.8px,#2779f0 179.8px,#435cf0 189.8px,#5f34f0 199.8px,#6827f2 209.7px,#5d36f0 219.7px,#5443f0 229.7px,#5048f0 239.7px,#4e4bf0 249.7px,#4d4df0 259.7px,#4c4ff0 269.7px,#4b51f0 279.7px,#4954f0 289.6px,#4756f0 299.6px,#4559f0 309.6px,#435cf0 319.6px,#415ff0 329.6px,#3f61f0 339.6px,#3d63f0 349.6px,#3b65f0 359.6px,#3967f0 369.5px,#3769f0 379.5px,#346cf0 389.5px,#326ef0 399.5px,#2f71f0 409.5px);-webkit-mask-image:conic-gradient(from 0deg at 0 100%,transparent 10.00deg,#000 12.00deg);mask-image:conic-gradient(from 0deg at 0 100%,transparent 10.00deg,#000 12.00deg);"></div><div class="L" style="background:radial-gradient(circle 409.5px at 0 100%,#fa1e1c 0.0px,#fd3326 10.0px,#ff4d32 20.0px,#ff623f 30.0px,#ff774b 40.0px,#ff8e59 49.9px,#f3a668 59.9px,#dbbf76 69.9px,#bfd886 79.9px,#abe695 89.9px,#9af1a2 99.9px,#8cf3ac 109.9px,#7df1b7 119.9px,#68efc4 129.8px,#44e9d6 139.8px,#27d4e2 149.8px,#15bbea 159.8px,#149fed 169.8px,#257bf0 179.8px,#405ff0 189.8px,#5c38f0 199.8px,#6926f2 209.7px,#5e35f0 219.7px,#5345f0 229.7px,#4d4df0 239.7px,#4952f0 249.7px,#4756f0 259.7px,#445af0 269.7px,#425df0 279.7px,#4060f0 289.6px,#3e62f0 299.6px,#3b65f0 309.6px,#3967f0 319.6px,#366af0 329.6px,#336df0 339.6px,#3070f0 349.6px,#2c74f0 359.6px,#2977f0 369.5px,#267af0 379.5px,#227ef0 389.5px,#2081f0 399.5px,#1e85ef 409.5px);-webkit-mask-image:conic-gradient(from 0deg at 0 100%,transparent 12.00deg,#000 14.00deg);mask-image:conic-gradient(from 0deg at 0 100%,transparent 12.00deg,#000 14.00deg);"></div><div class="L" style="background:radial-gradient(circle 409.5px at 0 100%,#fa1e1c 0.0px,#fd3326 10.0px,#ff4d32 20.0px,#ff633f 30.0px,#ff774b 40.0px,#ff8e59 49.9px,#f4a668 59.9px,#dcbe76 69.9px,#c0d786 79.9px,#abe595 89.9px,#9af1a2 99.9px,#8df3ab 109.9px,#7ef2b6 119.9px,#6befc3 129.8px,#46e9d5 139.8px,#29d5e1 149.8px,#15bde9 159.8px,#12a2ed 169.8px,#227ef0 179.8px,#3e62f0 189.8px,#583ef0 199.8px,#6b25f2 209.7px,#5f33f0 219.7px,#5147f0 229.7px,#4854f0 239.7px,#435cf0 249.7px,#4060f0 259.7px,#3d63f0 269.7px,#3a66f0 279.7px,#3769f0 289.6px,#336df0 299.6px,#2f71f0 309.6px,#2b75f0 319.6px,#2779f0 329.6px,#247cf0 339.6px,#2080f0 349.6px,#1e85ef 359.6px,#1c8aef 369.5px,#1a8fef 379.5px,#1894ee 389.5px,#1699ee 399.5px,#149eed 409.5px);-webkit-mask-image:conic-gradient(from 0deg at 0 100%,transparent 14.00deg,#000 16.00deg);mask-image:conic-gradient(from 0deg at 0 100%,transparent 14.00deg,#000 16.00deg);"></div><div class="L" style="background:radial-gradient(circle 409.5px at 0 100%,#fa1e1c 0.0px,#fd3326 10.0px,#ff4c31 20.0px,#ff633f 30.0px,#ff774b 40.0px,#ff8e59 49.9px,#f4a568 59.9px,#ddbd76 69.9px,#c1d785 79.9px,#ace595 89.9px,#9bf1a1 99.9px,#8df3ab 109.9px,#80f2b5 119.9px,#6cefc2 129.8px,#48e9d4 139.8px,#2bd7e0 149.8px,#16bfe9 159.8px,#11a6ec 169.8px,#1f82f0 179.8px,#3b65f0 189.8px,#5444f0 199.8px,#6c23f2 209.7px,#6131f0 219.7px,#5246f0 229.7px,#4658f0 239.7px,#3e62f0 249.7px,#3868f0 259.7px,#346cf0 269.7px,#2f71f0 279.7px,#2b75f0 289.6px,#267af0 299.6px,#227ef0 309.6px,#1f83f0 319.6px,#1c89ef 329.6px,#1a8fef 339.6px,#1894ee 349.6px,#169aed 359.6px,#139fed 369.5px,#11a5ec 379.5px,#10aaec 389.5px,#11aeeb 399.5px,#12b2eb 409.5px);-webkit-mask-image:conic-gradient(from 0deg at 0 100%,transparent 16.00deg,#000 18.00deg);mask-image:conic-gradient(from 0deg at 0 100%,transparent 16.00deg,#000 18.00deg);"></div><div class="L" style="background:radial-gradient(circle 409.5px at 0 100%,#fa1e1c 0.0px,#fd3325 10.0px,#ff4c31 20.0px,#ff633f 30.0px,#ff784b 40.0px,#ff8e59 49.9px,#f5a567 59.9px,#debc75 69.9px,#c3d684 79.9px,#ade594 89.9px,#9cf0a1 99.9px,#8ef3ab 109.9px,#80f2b4 119.9px,#6ef0c1 129.8px,#4bead3 139.8px,#2ed9df 149.8px,#16c1e9 159.8px,#10a9ec 169.8px,#1d87ef 179.8px,#3769f0 189.8px,#4f4bf0 199.8px,#6b24f2 209.7px,#632ef1 219.7px,#5443f0 229.7px,#4559f0 239.7px,#3967f0 249.7px,#316ff0 259.7px,#2b75f0 269.7px,#257bf0 279.7px,#2080f0 289.6px,#1d87ef 299.6px,#1b8def 309.6px,#1894ee 319.6px,#159bed 329.6px,#13a1ed 339.6px,#10a8ec 349.6px,#11aceb 359.6px,#12b1eb 369.5px,#13b5ea 379.5px,#14baea 389.5px,#16bee9 399.5px,#17c2e9 409.5px);-webkit-mask-image:conic-gradient(from 0deg at 0 100%,transparent 18.00deg,#000 20.00deg);mask-image:conic-gradient(from 0deg at 0 100%,transparent 18.00deg,#000 20.00deg);"></div><div class="L" style="background:radial-gradient(circle 409.5px at 0 100%,#fa1e1c 0.0px,#fd3325 10.0px,#ff4c31 20.0px,#ff633f 30.0px,#ff774b 40.0px,#ff8e59 49.9px,#f5a467 59.9px,#dfbb74 69.9px,#c4d583 79.9px,#aee494 89.9px,#9df0a0 99.9px,#8ef3ab 109.9px,#81f2b4 119.9px,#70f0c0 129.8px,#4dead1 139.8px,#31dcde 149.8px,#17c4e8 159.8px,#11adeb 169.8px,#1b8def 179.8px,#326ef0 189.8px,#4a51f0 199.8px,#662bf1 209.7px,#662bf1 219.7px,#583ef0 229.7px,#4756f0 239.7px,#3769f0 249.7px,#2c74f0 259.7px,#247cf0 269.7px,#1f83f0 279.7px,#1c8bef 289.6px,#1893ee 299.6px,#159bed 309.6px,#12a3ed 319.6px,#11aaec 329.6px,#12b0eb 339.6px,#13b5ea 349.6px,#14baea 359.6px,#16bfe9 369.5px,#17c3e9 379.5px,#18c8e8 389.5px,#1dcce6 399.5px,#22d0e4 409.5px);-webkit-mask-image:conic-gradient(from 0deg at 0 100%,transparent 20.00deg,#000 22.00deg);mask-image:conic-gradient(from 0deg at 0 100%,transparent 20.00deg,#000 22.00deg);"></div><div class="L" style="background:radial-gradient(circle 409.5px at 0 100%,#fa1e1c 0.0px,#fd3325 10.0px,#ff4b31 20.0px,#ff633f 30.0px,#ff774b 40.0px,#ff8d58 49.9px,#f6a366 59.9px,#e1b974 69.9px,#c6d382 79.9px,#aee393 89.9px,#9defa0 99.9px,#8ef3aa 109.9px,#82f2b3 119.9px,#72f0bf 129.8px,#51ebd0 139.8px,#33dedd 149.8px,#18c8e8 159.8px,#12b1eb 169.8px,#1893ee 179.8px,#2c74f0 189.8px,#4559f0 199.8px,#6033f0 209.7px,#6828f1 219.7px,#5c38f0 229.7px,#4a51f0 239.7px,#3967f0 249.7px,#2a76f0 259.7px,#2080f0 269.7px,#1c8aef 279.7px,#1893ee 289.6px,#159ced 299.6px,#11a6ec 309.6px,#11adeb 319.6px,#13b4eb 329.6px,#15baea 339.6px,#16c0e9 349.6px,#17c5e8 359.6px,#1acae7 369.5px,#20cfe5 379.5px,#26d3e2 389.5px,#2cd8e0 399.5px,#31dcde 409.5px);-webkit-mask-image:conic-gradient(from 0deg at 0 100%,transparent 22.00deg,#000 24.00deg);mask-image:conic-gradient(from 0deg at 0 100%,transparent 22.00deg,#000 24.00deg);"></div><div class="L" style="background:radial-gradient(circle 409.5px at 0 100%,#fa1e1c 0.0px,#fd3325 10.0px,#ff4a30 20.0px,#ff633f 30.0px,#ff774b 40.0px,#ff8d58 49.9px,#f7a265 59.9px,#e2b873 69.9px,#c8d280 79.9px,#afe393 89.9px,#9eef9f 99.9px,#8ff3aa 109.9px,#83f2b3 119.9px,#73f0be 129.8px,#55ebce 139.8px,#37e0dc 149.8px,#1ccbe6 159.8px,#13b5ea 169.8px,#169aed 179.8px,#267af0 189.8px,#3f61f0 199.8px,#583ef0 209.7px,#6b24f2 219.7px,#6032f0 229.7px,#4f4af0 239.7px,#3e62f0 249.7px,#2c74f0 259.7px,#1f82f0 269.7px,#1b8def 279.7px,#1698ee 289.6px,#12a3ed 299.6px,#11acec 309.6px,#13b3eb 319.6px,#14baea 329.6px,#16c1e9 339.6px,#18c8e8 349.6px,#1fcde5 359.6px,#26d3e3 369.5px,#2dd8e0 379.5px,#33dedd 389.5px,#39e2db 399.5px,#3ee7d9 409.5px);-webkit-mask-image:conic-gradient(from 0deg at 0 100%,transparent 24.00deg,#000 26.00deg);mask-image:conic-gradient(from 0deg at 0 100%,transparent 24.00deg,#000 26.00deg);"></div><div class="L" style="background:radial-gradient(circle 409.5px at 0 100%,#fa1e1c 0.0px,#fd3225 10.0px,#ff4a30 20.0px,#ff633f 30.0px,#ff774b 40.0px,#ff8d58 49.9px,#f8a165 59.9px,#e4b672 69.9px,#cad07f 79.9px,#b0e292 89.9px,#9eee9f 99.9px,#8ff3aa 109.9px,#83f2b2 119.9px,#75f1bc 129.8px,#59eccc 139.8px,#3ae3da 149.8px,#21cfe4 159.8px,#14b9ea 169.8px,#13a1ed 179.8px,#2081f0 189.8px,#3a66f0 199.8px,#5049f0 209.7px,#6b24f2 219.7px,#642df1 229.7px,#5542f0 239.7px,#435bf0 249.7px,#316ff0 259.7px,#217ff0 269.7px,#1b8eef 279.7px,#169aed 289.6px,#11a5ec 299.6px,#11aeeb 309.6px,#13b6ea 319.6px,#15bde9 329.6px,#17c5e8 339.6px,#1fcee5 349.6px,#27d4e2 359.6px,#2fdadf 369.5px,#36e0dc 379.5px,#3de5d9 389.5px,#43e9d6 399.5px,#4aead3 409.5px);-webkit-mask-image:conic-gradient(from 0deg at 0 100%,transparent 26.00deg,#000 28.00deg);mask-image:conic-gradient(from 0deg at 0 100%,transparent 26.00deg,#000 28.00deg);"></div><div class="L" style="background:radial-gradient(circle 409.5px at 0 100%,#fa1e1c 0.0px,#fd3225 10.0px,#ff4930 20.0px,#ff633f 30.0px,#ff774b 40.0px,#ff8c58 49.9px,#f9a064 59.9px,#e6b471 69.9px,#ccce7e 79.9px,#b2e190 89.9px,#9fee9e 99.9px,#90f3a9 109.9px,#84f2b2 119.9px,#77f1bb 129.8px,#5dedc9 139.8px,#3ee6d9 149.8px,#26d4e2 159.8px,#15bee9 169.8px,#10a8ec 179.8px,#1c89ef 189.8px,#326ef0 199.8px,#4953f0 209.7px,#622ff0 219.7px,#6729f1 229.7px,#5b39f0 239.7px,#4a52f0 249.7px,#3769f0 259.7px,#257bf0 269.7px,#1b8bef 279.7px,#1698ee 289.6px,#12a4ec 299.6px,#11adeb 309.6px,#14b6ea 319.6px,#16bfe9 329.6px,#18c7e8 339.6px,#22d0e4 349.6px,#2dd9e0 359.6px,#34dfdd 369.5px,#3be4da 379.5px,#44e9d6 389.5px,#4dead1 399.5px,#55ebce 409.5px);-webkit-mask-image:conic-gradient(from 0deg at 0 100%,transparent 28.00deg,#000 30.00deg);mask-image:conic-gradient(from 0deg at 0 100%,transparent 28.00deg,#000 30.00deg);"></div><div class="L" style="background:radial-gradient(circle 409.5px at 0 100%,#fa1e1c 0.0px,#fc3225 10.0px,#ff492f 20.0px,#ff633f 30.0px,#ff764b 40.0px,#ff8b57 49.9px,#fb9e63 59.9px,#e8b270 69.9px,#cecc7d 79.9px,#b4df8f 89.9px,#a0ed9d 99.9px,#91f3a8 109.9px,#85f2b1 119.9px,#79f1ba 129.8px,#62eec7 139.8px,#42e8d7 149.8px,#2bd7e0 159.8px,#17c3e9 169.8px,#11aeeb 179.8px,#1992ee 189.8px,#2a76f0 199.8px,#415ef0 209.7px,#583df0 219.7px,#6b24f2 229.7px,#6131f0 239.7px,#5148f0 249.7px,#3f61f0 259.7px,#2d73f0 269.7px,#1e85ef 279.7px,#1894ee 289.6px,#13a1ed 299.6px,#11acec 309.6px,#13b4ea 319.6px,#15bee9 329.6px,#18c6e8 339.6px,#21d0e4 349.6px,#2dd9df 359.6px,#37e0dc 369.5px,#3fe7d9 379.5px,#49e9d4 389.5px,#53ebcf 399.5px,#5bedca 409.5px);-webkit-mask-image:conic-gradient(from 0deg at 0 100%,transparent 30.00deg,#000 32.00deg);mask-image:conic-gradient(from 0deg at 0 100%,transparent 30.00deg,#000 32.00deg);"></div><div class="L" style="background:radial-gradient(circle 409.5px at 0 100%,#fa1e1c 0.0px,#fc3225 10.0px,#ff482f 20.0px,#ff623f 30.0px,#ff764a 40.0px,#ff8a57 49.9px,#fc9d62 59.9px,#eab06f 69.9px,#d0ca7c 79.9px,#b7de8d 89.9px,#a1ec9d 99.9px,#92f4a8 109.9px,#86f2b0 119.9px,#7bf1b8 129.8px,#68efc4 139.8px,#48e9d4 149.8px,#30dbde 159.8px,#18c8e8 169.8px,#13b4eb 179.8px,#159ced 189.8px,#227ef0 199.8px,#3a66f0 209.7px,#4f4bf0 219.7px,#6828f1 229.7px,#662bf1 239.7px,#593df0 249.7px,#4755f0 259.7px,#356bf0 269.7px,#237df0 279.7px,#1a8eef 289.6px,#159ced 299.6px,#10a8ec 309.6px,#12b1eb 319.6px,#15baea 329.6px,#17c4e9 339.6px,#1ecce6 349.6px,#2bd7e1 359.6px,#37e1dc 369.5px,#3fe7d8 379.5px,#49ead3 389.5px,#53ebce 399.5px,#5dedc9 409.5px);-webkit-mask-image:conic-gradient(from 0deg at 0 100%,transparent 32.00deg,#000 34.00deg);mask-image:conic-gradient(from 0deg at 0 100%,transparent 32.00deg,#000 34.00deg);"></div><div class="L" style="background:radial-gradient(circle 409.5px at 0 100%,#fa1e1c 0.0px,#fc3125 10.0px,#ff482f 20.0px,#ff623e 30.0px,#ff754a 40.0px,#ff8956 49.9px,#fd9d62 59.9px,#ebaf6e 69.9px,#d2c87b 79.9px,#b9dc8b 89.9px,#a3eb9c 99.9px,#93f4a7 109.9px,#87f2af 119.9px,#7cf1b7 129.8px,#6df0c1 139.8px,#4fead1 149.8px,#35dfdc 159.8px,#1fcee5 169.8px,#14baea 179.8px,#11a5ec 189.8px,#1d89ef 199.8px,#3070f0 209.7px,#4658f0 219.7px,#5d37f0 229.7px,#6a25f2 239.7px,#6033f0 249.7px,#5049f0 259.7px,#3f61f0 269.7px,#2c74f0 279.7px,#1e86ef 289.6px,#1895ee 299.6px,#12a2ed 309.6px,#11adeb 319.6px,#13b5ea 329.6px,#16bfe9 339.6px,#19c9e8 349.6px,#24d2e3 359.6px,#32dcde 369.5px,#3de5d9 379.5px,#47e9d5 389.5px,#52ebcf 399.5px,#5cedca 409.5px);-webkit-mask-image:conic-gradient(from 0deg at 0 100%,transparent 34.00deg,#000 36.00deg);mask-image:conic-gradient(from 0deg at 0 100%,transparent 34.00deg,#000 36.00deg);"></div><div class="L" style="background:radial-gradient(circle 409.5px at 0 100%,#fa1e1c 0.0px,#fc3125 10.0px,#ff472f 20.0px,#ff613e 30.0px,#ff754a 40.0px,#ff8855 49.9px,#fd9c61 59.9px,#edad6d 69.9px,#d5c57a 79.9px,#bcda89 89.9px,#a5ea9a 99.9px,#95f4a6 109.9px,#89f3ae 119.9px,#7ef1b6 129.8px,#72f0bf 139.8px,#55eccd 149.8px,#3ae3da 159.8px,#25d3e3 169.8px,#16c0e9 179.8px,#11adeb 189.8px,#1893ee 199.8px,#2779f0 209.7px,#3d63f0 219.7px,#5148f0 229.7px,#6827f2 239.7px,#662bf1 249.7px,#593cf0 259.7px,#4954f0 269.7px,#3769f0 279.7px,#257bf0 289.6px,#1b8def 299.6px,#159aed 309.6px,#10a8ec 319.6px,#12b0eb 329.6px,#14b9ea 339.6px,#17c3e9 349.6px,#1dcce6 359.6px,#2ad6e1 369.5px,#37e1dc 379.5px,#42e8d7 389.5px,#4eead1 399.5px,#58eccc 409.5px);-webkit-mask-image:conic-gradient(from 0deg at 0 100%,transparent 36.00deg,#000 38.00deg);mask-image:conic-gradient(from 0deg at 0 100%,transparent 36.00deg,#000 38.00deg);"></div><div class="L" style="background:radial-gradient(circle 409.5px at 0 100%,#fa1e1c 0.0px,#fc3124 10.0px,#ff462e 20.0px,#ff613e 30.0px,#ff7449 40.0px,#ff8755 49.9px,#fe9b61 59.9px,#eeac6c 69.9px,#d7c378 79.9px,#bfd887 89.9px,#a8e897 99.9px,#96f4a5 109.9px,#8af3ad 119.9px,#7ff2b5 129.8px,#74f0bd 139.8px,#5cedca 149.8px,#3fe8d8 159.8px,#2bd7e0 169.8px,#18c7e8 179.8px,#13b4eb 189.8px,#149eed 199.8px,#1f83f0 209.7px,#336df0 219.7px,#4756f0 229.7px,#5c38f0 239.7px,#6b24f2 249.7px,#6131f0 259.7px,#5345f0 269.7px,#425df0 279.7px,#3070f0 289.6px,#2081f0 299.6px,#1992ee 309.6px,#149fed 319.6px,#11abec 329.6px,#13b3eb 339.6px,#15bce9 349.6px,#17c6e8 359.6px,#21cfe4 369.5px,#2ed9df 379.5px,#3be4da 389.5px,#46e9d5 399.5px,#51ebd0 409.5px);-webkit-mask-image:conic-gradient(from 0deg at 0 100%,transparent 38.00deg,#000 40.00deg);mask-image:conic-gradient(from 0deg at 0 100%,transparent 38.00deg,#000 40.00deg);"></div><div class="L" style="background:radial-gradient(circle 409.5px at 0 100%,#fa1e1c 0.0px,#fc3024 10.0px,#ff452e 20.0px,#ff603d 30.0px,#ff7349 40.0px,#ff8654 49.9px,#fe9b60 59.9px,#f0aa6a 69.9px,#dac077 79.9px,#c2d684 89.9px,#ace595 99.9px,#98f3a3 109.9px,#8cf3ac 119.9px,#81f2b4 129.8px,#76f1bc 139.8px,#63eec6 149.8px,#47e9d4 159.8px,#31dcde 169.8px,#1ecde6 179.8px,#15bbea 189.8px,#10a9ec 199.8px,#1a8fee 209.7px,#2878f0 219.7px,#3d63f0 229.7px,#4f4bf0 239.7px,#652cf1 249.7px,#6729f1 259.7px,#5c37f0 269.7px,#4d4df0 279.7px,#3d63f0 289.6px,#2b75f0 299.6px,#1e86ef 309.6px,#1895ee 319.6px,#12a2ed 329.6px,#11aceb 339.6px,#13b5ea 349.6px,#16bee9 359.6px,#18c8e8 369.5px,#23d1e4 379.5px,#30dbdf 389.5px,#3de6d9 399.5px,#4aead3 409.5px);-webkit-mask-image:conic-gradient(from 0deg at 0 100%,transparent 40.00deg,#000 42.00deg);mask-image:conic-gradient(from 0deg at 0 100%,transparent 40.00deg,#000 42.00deg);"></div><div class="L" style="background:radial-gradient(circle 409.5px at 0 100%,#fa1e1c 0.0px,#fc3024 10.0px,#fe452e 20.0px,#ff603d 30.0px,#ff7248 40.0px,#ff8553 49.9px,#ff9a60 59.9px,#f2a869 69.9px,#ddbd75 79.9px,#c6d482 89.9px,#b0e392 99.9px,#9af1a2 109.9px,#8ef3ab 119.9px,#83f2b3 129.8px,#78f1ba 139.8px,#6befc3 149.8px,#4febd0 159.8px,#38e1db 169.8px,#24d2e3 179.8px,#16c2e9 189.8px,#12b1eb 199.8px,#159ced 209.7px,#1f83f0 219.7px,#326ef0 229.7px,#445af0 239.7px,#5640f0 249.7px,#6d21f2 259.7px,#652cf1 269.7px,#593df0 279.7px,#4953f0 289.6px,#3967f0 299.6px,#2878f0 309.6px,#1c8aef 319.6px,#1797ee 329.6px,#12a4ec 339.6px,#11aeeb 349.6px,#13b6ea 359.6px,#16bfe9 369.5px,#18c8e8 379.5px,#25d2e3 389.5px,#33dddd 399.5px,#41e8d8 409.5px);-webkit-mask-image:conic-gradient(from 0deg at 0 100%,transparent 42.00deg,#000 44.00deg);mask-image:conic-gradient(from 0deg at 0 100%,transparent 42.00deg,#000 44.00deg);"></div><div class="L" style="background:radial-gradient(circle 409.5px at 0 100%,#fa1e1c 0.0px,#fc2f24 10.0px,#fe442d 20.0px,#ff5f3d 30.0px,#ff7148 40.0px,#ff8352 49.9px,#ff995f 59.9px,#f3a768 69.9px,#e1b974 79.9px,#c9d17f 89.9px,#b4e08f 99.9px,#9fee9f 109.9px,#90f3a9 119.9px,#85f2b1 129.8px,#7af1b9 139.8px,#70f0c0 149.8px,#58eccc 159.8px,#3ee6d9 169.8px,#2bd7e0 179.8px,#18c8e8 189.8px,#14b8ea 199.8px,#10a8ec 209.7px,#1a90ee 219.7px,#267af0 229.7px,#3967f0 239.7px,#4a52f0 249.7px,#5d37f0 259.7px,#6b24f2 269.7px,#622ff0 279.7px,#5641f0 289.6px,#4657f0 299.6px,#366af0 309.6px,#267af0 319.6px,#1b8cef 329.6px,#1698ee 339.6px,#11a4ec 349.6px,#11aeeb 359.6px,#14b6ea 369.5px,#16c0e9 379.5px,#1bcae7 389.5px,#27d4e2 399.5px,#35dfdc 409.5px);-webkit-mask-image:conic-gradient(from 0deg at 0 100%,transparent 44.00deg,#000 46.00deg);mask-image:conic-gradient(from 0deg at 0 100%,transparent 44.00deg,#000 46.00deg);"></div><div class="L" style="background:radial-gradient(circle 409.5px at 0 100%,#fa1e1c 0.0px,#fc2f24 10.0px,#fe432d 20.0px,#ff5e3c 30.0px,#ff7047 40.0px,#ff8252 49.9px,#ff975e 59.9px,#f4a568 69.9px,#e4b672 79.9px,#cdcd7d 89.9px,#b8dd8c 99.9px,#a3eb9b 109.9px,#92f4a8 119.9px,#87f2b0 129.8px,#7cf1b7 139.8px,#72f0be 149.8px,#60edc8 159.8px,#46e9d5 169.8px,#31dcde 179.8px,#20cee5 189.8px,#16c0e9 199.8px,#12b0eb 209.7px,#149ded 219.7px,#1d87ef 229.7px,#2c74f0 239.7px,#3e62f0 249.7px,#4e4cf0 259.7px,#6131f0 269.7px,#6a26f2 279.7px,#6131f0 289.6px,#5443f0 299.6px,#4559f0 309.6px,#356bf0 319.6px,#257bf0 329.6px,#1b8cef 339.6px,#1698ee 349.6px,#11a5ec 359.6px,#12afeb 369.5px,#14b7ea 379.5px,#16c1e9 389.5px,#1ccbe7 399.5px,#27d4e2 409.5px);-webkit-mask-image:conic-gradient(from 0deg at 0 100%,transparent 46.00deg,#000 48.00deg);mask-image:conic-gradient(from 0deg at 0 100%,transparent 46.00deg,#000 48.00deg);"></div><div class="L" style="background:radial-gradient(circle 409.5px at 0 100%,#fa1e1c 0.0px,#fc2f23 10.0px,#fe422c 20.0px,#ff5c3b 30.0px,#ff6f46 40.0px,#ff8151 49.9px,#ff965d 59.9px,#f5a467 69.9px,#e8b270 79.9px,#d1c97b 89.9px,#bcda89 99.9px,#a8e898 109.9px,#95f4a6 119.9px,#89f3ae 129.8px,#7ff2b5 139.8px,#75f1bd 149.8px,#66eec5 159.8px,#4eead1 169.8px,#38e2db 179.8px,#27d4e2 189.8px,#18c6e8 199.8px,#14b8ea 209.7px,#10aaec 219.7px,#1895ee 229.7px,#2080f0 239.7px,#316ff0 249.7px,#425ef0 259.7px,#5049f0 269.7px,#632ef1 279.7px,#6927f2 289.6px,#6032f0 299.6px,#5444f0 309.6px,#4558f0 319.6px,#366af0 329.6px,#267af0 339.6px,#1c8bef 349.6px,#1699ee 359.6px,#11a6ec 369.5px,#12afeb 379.5px,#14b8ea 389.5px,#16c1e9 399.5px,#1ccbe7 409.5px);-webkit-mask-image:conic-gradient(from 0deg at 0 100%,transparent 48.00deg,#000 50.00deg);mask-image:conic-gradient(from 0deg at 0 100%,transparent 48.00deg,#000 50.00deg);"></div><div class="L" style="background:radial-gradient(circle 409.5px at 0 100%,#fa1e1c 0.0px,#fc2e23 10.0px,#fe412c 20.0px,#ff5939 30.0px,#ff6e46 40.0px,#ff8051 49.9px,#ff945c 59.9px,#f6a366 69.9px,#eab06e 79.9px,#d5c579 89.9px,#c0d786 99.9px,#ade594 109.9px,#99f2a2 119.9px,#8cf3ac 129.8px,#81f2b4 139.8px,#77f1bb 149.8px,#6befc3 159.8px,#57eccd 169.8px,#3fe7d8 179.8px,#2edadf 189.8px,#1dcce6 199.8px,#16c0e9 209.7px,#13b3eb 219.7px,#12a3ec 229.7px,#1a8fee 239.7px,#247cf0 249.7px,#336df0 259.7px,#435cf0 269.7px,#5148f0 279.7px,#632ef1 289.6px,#6927f2 299.6px,#6131f0 309.6px,#5542f0 319.6px,#4756f0 329.6px,#3769f0 339.6px,#267af0 349.6px,#1b8cef 359.6px,#1699ee 369.5px,#11a5ec 379.5px,#12afeb 389.5px,#14b7ea 399.5px,#16c0e9 409.5px);-webkit-mask-image:conic-gradient(from 0deg at 0 100%,transparent 50.00deg,#000 52.00deg);mask-image:conic-gradient(from 0deg at 0 100%,transparent 50.00deg,#000 52.00deg);"></div><div class="L" style="background:radial-gradient(circle 409.5px at 0 100%,#fa1e1c 0.0px,#fc2e23 10.0px,#fe402b 20.0px,#ff5738 30.0px,#ff6d45 40.0px,#ff7f50 49.9px,#ff925b 59.9px,#f7a265 69.9px,#ecae6e 79.9px,#dac077 89.9px,#c5d482 99.9px,#b2e190 109.9px,#9fee9e 119.9px,#8ff3aa 129.8px,#84f2b2 139.8px,#7af1b9 149.8px,#70f0c0 159.8px,#5cedca 169.8px,#48e9d4 179.8px,#35dfdc 189.8px,#25d3e3 199.8px,#18c7e8 209.7px,#15bbea 219.7px,#12aeeb 229.7px,#149eed 239.7px,#1b8bef 249.7px,#257bf0 259.7px,#346cf0 269.7px,#435cf0 279.7px,#5049f0 289.6px,#6131f0 299.6px,#6a25f2 309.6px,#622ff0 319.6px,#573ff0 329.6px,#4855f0 339.6px,#3868f0 349.6px,#2779f0 359.6px,#1c8aef 369.5px,#1797ee 379.5px,#12a3ec 389.5px,#11adeb 399.5px,#13b5ea 409.5px);-webkit-mask-image:conic-gradient(from 0deg at 0 100%,transparent 52.00deg,#000 54.00deg);mask-image:conic-gradient(from 0deg at 0 100%,transparent 52.00deg,#000 54.00deg);"></div><div class="L" style="background:radial-gradient(circle 409.5px at 0 100%,#fa1e1c 0.0px,#fc2d23 10.0px,#fe3f2b 20.0px,#ff5436 30.0px,#ff6c44 40.0px,#ff7e4f 49.9px,#ff915b 59.9px,#f9a164 69.9px,#edad6c 79.9px,#debc75 89.9px,#cad07f 99.9px,#b7de8d 109.9px,#a4ea9a 119.9px,#93f4a7 129.8px,#87f2b0 139.8px,#7df1b7 149.8px,#73f0be 159.8px,#62eec7 169.8px,#4fead1 179.8px,#3ce5d9 189.8px,#2dd9df 199.8px,#1fcde5 209.7px,#17c2e9 219.7px,#14b7ea 229.7px,#11abec 239.7px,#159bed 249.7px,#1c8aef 259.7px,#257bf0 269.7px,#336df0 279.7px,#415ff0 289.6px,#4d4df0 299.6px,#5d37f0 309.6px,#6b23f2 319.6px,#632ef1 329.6px,#583ef0 339.6px,#4953f0 349.6px,#3a66f0 359.6px,#2a76f0 369.5px,#1d86ef 379.5px,#1895ee 389.5px,#13a0ed 399.5px,#11abec 409.5px);-webkit-mask-image:conic-gradient(from 0deg at 0 100%,transparent 54.00deg,#000 56.00deg);mask-image:conic-gradient(from 0deg at 0 100%,transparent 54.00deg,#000 56.00deg);"></div><div class="L" style="background:radial-gradient(circle 409.5px at 0 100%,#fa1e1c 0.0px,#fc2d23 10.0px,#fe3e2a 20.0px,#ff5134 30.0px,#ff6a43 40.0px,#ff7d4e 49.9px,#ff8f5a 59.9px,#fa9f63 69.9px,#efab6b 79.9px,#e1b973 89.9px,#cfcb7d 99.9px,#bcda89 109.9px,#aae696 119.9px,#99f2a3 129.8px,#8bf3ad 139.8px,#7ff2b5 149.8px,#76f1bc 159.8px,#68efc4 169.8px,#55eccd 179.8px,#43e9d6 189.8px,#35e0dc 199.8px,#27d4e2 209.7px,#1ac9e7 219.7px,#16bee9 229.7px,#13b4ea 239.7px,#11aaec 249.7px,#159bed 259.7px,#1b8bef 269.7px,#247cf0 279.7px,#3070f0 289.6px,#3d63f0 299.6px,#4953f0 309.6px,#593cf0 319.6px,#6c22f2 329.6px,#652cf1 339.6px,#5a3bf0 349.6px,#4c4ff0 359.6px,#3e62f0 369.5px,#2e72f0 379.5px,#2081f0 389.5px,#1990ee 399.5px,#159ced 409.5px);-webkit-mask-image:conic-gradient(from 0deg at 0 100%,transparent 56.00deg,#000 58.00deg);mask-image:conic-gradient(from 0deg at 0 100%,transparent 56.00deg,#000 58.00deg);"></div><div class="L" style="background:radial-gradient(circle 409.5px at 0 100%,#fa1e1c 0.0px,#fc2c22 10.0px,#fe3c2a 20.0px,#ff4e33 30.0px,#ff6842 40.0px,#ff7b4d 49.9px,#ff8e59 59.9px,#fc9e62 69.9px,#f0a96a 79.9px,#e4b672 89.9px,#d4c67a 99.9px,#c1d685 109.9px,#b0e292 119.9px,#9fee9e 129.8px,#90f3a9 139.8px,#83f2b2 149.8px,#79f1ba 159.8px,#6ef0c1 169.8px,#5bedca 179.8px,#4aead3 189.8px,#3ce5da 199.8px,#30dbde 209.7px,#22d0e4 219.7px,#17c6e8 229.7px,#15bde9 239.7px,#13b4eb 249.7px,#11aaec 259.7px,#159ced 269.7px,#1a8eef 279.7px,#2080f0 289.6px,#2c74f0 299.6px,#3967f0 309.6px,#4756f0 319.6px,#5542f0 329.6px,#6926f2 339.6px,#672af1 349.6px,#5d36f0 359.6px,#5148f0 369.5px,#435bf0 379.5px,#346cf0 389.5px,#257bf0 399.5px,#1c8aef 409.5px);-webkit-mask-image:conic-gradient(from 0deg at 0 100%,transparent 58.00deg,#000 60.00deg);mask-image:conic-gradient(from 0deg at 0 100%,transparent 58.00deg,#000 60.00deg);"></div><div class="L" style="background:radial-gradient(circle 409.5px at 0 100%,#fa1e1c 0.0px,#fc2c22 10.0px,#fd3b29 20.0px,#ff4b31 30.0px,#ff6540 40.0px,#ff794c 49.9px,#ff8c57 59.9px,#fd9c62 69.9px,#f2a869 79.9px,#e7b371 89.9px,#d8c278 99.9px,#c7d381 109.9px,#b6de8d 119.9px,#a5ea9a 129.8px,#95f4a6 139.8px,#88f3af 149.8px,#7cf1b7 159.8px,#72f0be 169.8px,#62eec7 179.8px,#51ebcf 189.8px,#42e8d7 199.8px,#36e0dc 209.7px,#2bd7e0 219.7px,#1fcee5 229.7px,#17c5e8 239.7px,#15bce9 249.7px,#13b4eb 259.7px,#11acec 269.7px,#13a0ed 279.7px,#1893ee 289.6px,#1e85ef 299.6px,#2878f0 309.6px,#356bf0 319.6px,#435cf0 329.6px,#4f4af0 339.6px,#6131f0 349.6px,#6926f2 359.6px,#6230f0 369.5px,#573ff0 379.5px,#4a52f0 389.5px,#3d63f0 399.5px,#2e72f0 409.5px);-webkit-mask-image:conic-gradient(from 0deg at 0 100%,transparent 60.00deg,#000 62.00deg);mask-image:conic-gradient(from 0deg at 0 100%,transparent 60.00deg,#000 62.00deg);"></div><div class="L" style="background:radial-gradient(circle 409.5px at 0 100%,#fa1e1c 0.0px,#fc2b22 10.0px,#fd3a29 20.0px,#ff4930 30.0px,#ff613e 40.0px,#ff784b 49.9px,#ff8a56 59.9px,#fe9b61 69.9px,#f4a668 79.9px,#e9b16f 89.9px,#dbbf77 99.9px,#ccce7e 109.9px,#bcda89 119.9px,#ace595 129.8px,#9bf0a1 139.8px,#8ef3ab 149.8px,#82f2b3 159.8px,#76f1bc 169.8px,#69efc3 179.8px,#59eccb 189.8px,#49ead3 199.8px,#3ce5da 209.7px,#31dcde 219.7px,#28d5e1 229.7px,#1ecde6 239.7px,#17c5e8 249.7px,#15bce9 259.7px,#13b5ea 269.7px,#11aeeb 279.7px,#11a5ec 289.6px,#1698ee 299.6px,#1c8aef 309.6px,#247cf0 319.6px,#3070f0 329.6px,#3d63f0 339.6px,#4953f0 349.6px,#573ff0 359.6px,#6c22f2 369.5px,#662af1 379.5px,#5e35f0 389.5px,#5345f0 399.5px,#4657f0 409.5px);-webkit-mask-image:conic-gradient(from 0deg at 0 100%,transparent 62.00deg,#000 64.00deg);mask-image:conic-gradient(from 0deg at 0 100%,transparent 62.00deg,#000 64.00deg);"></div><div class="L" style="background:radial-gradient(circle 409.5px at 0 100%,#fa1e1c 0.0px,#fc2b22 10.0px,#fd3928 20.0px,#ff472f 30.0px,#ff5d3b 40.0px,#ff764a 49.9px,#ff8855 59.9px,#ff995f 69.9px,#f5a467 79.9px,#ebaf6e 89.9px,#debc75 99.9px,#d0ca7c 109.9px,#c2d684 119.9px,#b2e190 129.8px,#a2ec9c 139.8px,#93f4a7 149.8px,#87f2af 159.8px,#7cf1b7 169.8px,#72f0bf 179.8px,#61eec7 189.8px,#52ebcf 199.8px,#42e8d7 209.7px,#37e1db 219.7px,#2fdadf 229.7px,#27d4e2 239.7px,#1ecde6 249.7px,#17c5e8 259.7px,#16bee9 269.7px,#14b7ea 279.7px,#12b1eb 289.6px,#10a9ec 299.6px,#149ded 309.6px,#1a90ee 319.6px,#1f82f0 329.6px,#2977f0 339.6px,#356bf0 349.6px,#425ef0 359.6px,#4d4df0 369.5px,#5c37f0 379.5px,#6b24f2 389.5px,#652cf1 399.5px,#5c38f0 409.5px);-webkit-mask-image:conic-gradient(from 0deg at 0 100%,transparent 64.00deg,#000 66.00deg);mask-image:conic-gradient(from 0deg at 0 100%,transparent 64.00deg,#000 66.00deg);"></div><div class="L" style="background:radial-gradient(circle 409.5px at 0 100%,#fa1e1c 0.0px,#fc2a22 10.0px,#fd3727 20.0px,#ff452e 30.0px,#ff5939 40.0px,#ff7248 49.9px,#ff8654 59.9px,#ff975e 69.9px,#f7a266 79.9px,#edad6c 89.9px,#e1b973 99.9px,#d3c77a 109.9px,#c6d482 119.9px,#b9dc8b 129.8px,#a9e797 139.8px,#99f2a3 149.8px,#8df3ab 159.8px,#82f2b3 169.8px,#78f1ba 179.8px,#6defc2 189.8px,#5aeccb 199.8px,#4bead3 209.7px,#3ee6d9 219.7px,#36e0dc 229.7px,#2ed9df 239.7px,#26d3e3 249.7px,#1fcde5 259.7px,#18c7e8 269.7px,#16c1e9 279.7px,#15baea 289.6px,#13b3eb 299.6px,#11acec 309.6px,#12a3ec 319.6px,#1797ee 329.6px,#1c8bef 339.6px,#227ef0 349.6px,#2d73f0 359.6px,#3868f0 369.5px,#445af0 379.5px,#4f4af0 389.5px,#5e35f0 399.5px,#6b24f2 409.5px);-webkit-mask-image:conic-gradient(from 0deg at 0 100%,transparent 66.00deg,#000 68.00deg);mask-image:conic-gradient(from 0deg at 0 100%,transparent 66.00deg,#000 68.00deg);"></div><div class="L" style="background:radial-gradient(circle 409.5px at 0 100%,#fa1e1c 0.0px,#fc2a21 10.0px,#fd3627 20.0px,#fe432d 30.0px,#ff5436 40.0px,#ff6d45 49.9px,#ff8352 59.9px,#ff945c 69.9px,#f9a164 79.9px,#efab6b 89.9px,#e4b672 99.9px,#d7c379 109.9px,#c9d17f 119.9px,#bdda88 129.8px,#afe392 139.8px,#a0ed9d 149.8px,#93f4a7 159.8px,#88f2af 169.8px,#7ef1b6 179.8px,#75f1bc 189.8px,#67efc4 199.8px,#55eccd 209.7px,#47e9d5 219.7px,#3de5d9 229.7px,#35dfdd 239.7px,#2dd9e0 249.7px,#26d3e2 259.7px,#20cee5 269.7px,#1ac9e7 279.7px,#17c3e9 289.6px,#15bde9 299.6px,#14b6ea 309.6px,#12afeb 319.6px,#10a9ec 329.6px,#149fed 339.6px,#1893ee 349.6px,#1d87ef 359.6px,#247cf0 369.5px,#2e72f0 379.5px,#3868f0 389.5px,#435cf0 399.5px,#4d4df0 409.5px);-webkit-mask-image:conic-gradient(from 0deg at 0 100%,transparent 68.00deg,#000 70.00deg);mask-image:conic-gradient(from 0deg at 0 100%,transparent 68.00deg,#000 70.00deg);"></div><div class="L" style="background:radial-gradient(circle 409.5px at 0 100%,#fa1e1c 0.0px,#fc2921 10.0px,#fd3526 20.0px,#fe412c 30.0px,#ff5034 40.0px,#ff6842 49.9px,#ff7e4f 59.9px,#ff915b 69.9px,#fa9f63 79.9px,#f1a96a 89.9px,#e7b370 99.9px,#dac077 109.9px,#cdcd7d 119.9px,#c0d786 129.8px,#b3e08f 139.8px,#a7e999 149.8px,#99f2a3 159.8px,#8ef3ab 169.8px,#84f2b1 179.8px,#7bf1b8 189.8px,#73f0be 199.8px,#63eec6 209.7px,#55ebce 219.7px,#47e9d5 229.7px,#3ce5da 239.7px,#34dedd 249.7px,#2ed9df 259.7px,#28d5e2 269.7px,#22d0e4 279.7px,#1bcbe7 289.6px,#17c6e8 299.6px,#16c0e9 309.6px,#14baea 319.6px,#13b3eb 329.6px,#11adeb 339.6px,#11a5ec 349.6px,#159ced 359.6px,#1991ee 369.5px,#1e86ef 379.5px,#247cf0 389.5px,#2c74f0 399.5px,#356bf0 409.5px);-webkit-mask-image:conic-gradient(from 0deg at 0 100%,transparent 70.00deg,#000 72.00deg);mask-image:conic-gradient(from 0deg at 0 100%,transparent 70.00deg,#000 72.00deg);"></div><div class="L" style="background:radial-gradient(circle 409.5px at 0 100%,#fa1e1c 0.0px,#fc2921 10.0px,#fd3426 20.0px,#fe3f2b 30.0px,#ff4c31 40.0px,#ff623f 49.9px,#ff784c 59.9px,#ff8d58 69.9px,#fc9d62 79.9px,#f3a768 89.9px,#eab06f 99.9px,#debc75 109.9px,#d1c97b 119.9px,#c4d583 129.8px,#b7dd8c 139.8px,#abe696 149.8px,#9eee9f 159.8px,#94f4a7 169.8px,#8bf3ad 179.8px,#82f2b3 189.8px,#79f1b9 199.8px,#71f0bf 209.7px,#64eec6 219.7px,#57eccd 229.7px,#49ead3 239.7px,#3ee6d9 249.7px,#36e0dc 259.7px,#30dbdf 269.7px,#2ad6e1 279.7px,#23d1e4 289.6px,#1dcce6 299.6px,#18c7e8 309.6px,#17c2e9 319.6px,#15bee9 329.6px,#14b7ea 339.6px,#12b1eb 349.6px,#11abec 359.6px,#12a3ed 369.5px,#159aed 379.5px,#1992ee 389.5px,#1c89ef 399.5px,#2080f0 409.5px);-webkit-mask-image:conic-gradient(from 0deg at 0 100%,transparent 72.00deg,#000 74.00deg);mask-image:conic-gradient(from 0deg at 0 100%,transparent 72.00deg,#000 74.00deg);"></div><div class="L" style="background:radial-gradient(circle 409.5px at 0 100%,#fa1e1c 0.0px,#fb2821 10.0px,#fd3325 20.0px,#fe3d2a 30.0px,#ff492f 40.0px,#ff5d3b 49.9px,#ff7248 59.9px,#ff8654 69.9px,#ff9a60 79.9px,#f5a467 89.9px,#ecae6d 99.9px,#e1b974 109.9px,#d5c57a 119.9px,#c8d280 129.8px,#bbdb89 139.8px,#afe393 149.8px,#a3eb9c 159.8px,#98f3a4 169.8px,#90f3aa 179.8px,#88f3af 189.8px,#80f2b5 199.8px,#78f1ba 209.7px,#72f0bf 219.7px,#66eec5 229.7px,#59eccb 239.7px,#4eead1 249.7px,#43e9d6 259.7px,#3be4da 269.7px,#33dedd 279.7px,#2cd8e0 289.6px,#25d3e3 299.6px,#20cee5 309.6px,#1ac9e7 319.6px,#17c4e8 329.6px,#16bfe9 339.6px,#15baea 349.6px,#13b5ea 359.6px,#12afeb 369.5px,#11aaec 379.5px,#12a4ec 389.5px,#159ded 399.5px,#1795ee 409.5px);-webkit-mask-image:conic-gradient(from 0deg at 0 100%,transparent 74.00deg,#000 76.00deg);mask-image:conic-gradient(from 0deg at 0 100%,transparent 74.00deg,#000 76.00deg);"></div><div class="L" style="background:radial-gradient(circle 409.5px at 0 100%,#fa1e1c 0.0px,#fb2820 10.0px,#fc3125 20.0px,#fd3b29 30.0px,#ff462e 40.0px,#ff5838 49.9px,#ff6c44 59.9px,#ff7f50 69.9px,#ff925b 79.9px,#f8a165 89.9px,#eeab6c 99.9px,#e4b672 109.9px,#d8c278 119.9px,#cbcf7e 129.8px,#bfd887 139.8px,#b3e090 149.8px,#a7e998 159.8px,#9cf0a0 169.8px,#93f4a7 179.8px,#8cf3ac 189.8px,#85f2b1 199.8px,#7ef2b6 209.7px,#79f1ba 219.7px,#73f0be 229.7px,#69efc3 239.7px,#5eedc9 249.7px,#54ebce 259.7px,#4aead3 269.7px,#40e8d8 279.7px,#38e2db 289.6px,#31dcde 299.6px,#2ad6e1 309.6px,#22d0e4 319.6px,#1ccbe6 329.6px,#18c6e8 339.6px,#16c1e9 349.6px,#15bcea 359.6px,#14b7ea 369.5px,#13b3eb 379.5px,#12b0eb 389.5px,#11acec 399.5px,#10a7ec 409.5px);-webkit-mask-image:conic-gradient(from 0deg at 0 100%,transparent 76.00deg,#000 78.00deg);mask-image:conic-gradient(from 0deg at 0 100%,transparent 76.00deg,#000 78.00deg);"></div><div class="L" style="background:radial-gradient(circle 409.5px at 0 100%,#fa1e1c 0.0px,#fb2720 10.0px,#fc3024 20.0px,#fd3928 30.0px,#fe432d 40.0px,#ff5235 49.9px,#ff6540 59.9px,#ff784c 69.9px,#ff8a57 79.9px,#fe9c61 89.9px,#f3a768 99.9px,#e8b270 109.9px,#dcbe76 119.9px,#cfcb7c 129.8px,#c3d684 139.8px,#b7de8d 149.8px,#abe696 159.8px,#a1ed9d 169.8px,#97f3a4 179.8px,#90f3a9 189.8px,#88f3af 199.8px,#83f2b3 209.7px,#7df1b7 219.7px,#78f1ba 229.7px,#73f0be 239.7px,#6ef0c1 249.7px,#65eec5 259.7px,#5bedca 269.7px,#51ebcf 279.7px,#47e9d4 289.6px,#3ee7d9 299.6px,#37e1db 309.6px,#30dcde 319.6px,#29d6e1 329.6px,#21cfe4 339.6px,#19c9e7 349.6px,#17c3e9 359.6px,#16bfe9 369.5px,#15bbea 379.5px,#14b7ea 389.5px,#13b4eb 399.5px,#12b0eb 409.5px);-webkit-mask-image:conic-gradient(from 0deg at 0 100%,transparent 78.00deg,#000 80.00deg);mask-image:conic-gradient(from 0deg at 0 100%,transparent 78.00deg,#000 80.00deg);"></div><div class="L" style="background:radial-gradient(circle 409.5px at 0 100%,#fa1e1c 0.0px,#fb2720 10.0px,#fc2f24 20.0px,#fd3828 30.0px,#fe412c 40.0px,#ff4c31 49.9px,#ff5f3c 59.9px,#ff7047 69.9px,#ff8252 79.9px,#ff935c 89.9px,#f9a164 99.9px,#efab6b 109.9px,#e3b772 119.9px,#d5c57a 129.8px,#c6d381 139.8px,#bbdb8a 149.8px,#afe393 159.8px,#a5ea9a 169.8px,#9cf0a1 179.8px,#93f4a7 189.8px,#8cf3ac 199.8px,#86f2b0 209.7px,#81f2b4 219.7px,#7cf1b7 229.7px,#77f1bb 239.7px,#74f0bd 249.7px,#70f0c0 259.7px,#68efc4 269.7px,#5fedc8 279.7px,#57eccc 289.6px,#4febd0 299.6px,#46e9d5 309.6px,#3ee6d9 319.6px,#36e0dc 329.6px,#2fdadf 339.6px,#27d4e2 349.6px,#20cee5 359.6px,#1acae7 369.5px,#17c5e8 379.5px,#16c1e9 389.5px,#15bce9 399.5px,#14b8ea 409.5px);-webkit-mask-image:conic-gradient(from 0deg at 0 100%,transparent 80.00deg,#000 82.00deg);mask-image:conic-gradient(from 0deg at 0 100%,transparent 80.00deg,#000 82.00deg);"></div><div class="L" style="background:radial-gradient(circle 409.5px at 0 100%,#fa1e1c 0.0px,#fb261f 10.0px,#fc2e23 20.0px,#fd3627 30.0px,#fe3e2b 40.0px,#ff482f 49.9px,#ff5838 59.9px,#ff6943 69.9px,#ff7a4d 79.9px,#ff8a57 89.9px,#ff9a60 99.9px,#f5a567 109.9px,#ebaf6e 119.9px,#debc75 129.8px,#d0ca7c 139.8px,#c2d684 149.8px,#b5df8e 159.8px,#abe696 169.8px,#a0ed9e 179.8px,#97f4a4 189.8px,#8ff3aa 199.8px,#8af3ad 209.7px,#85f2b1 219.7px,#80f2b4 229.7px,#7cf1b8 239.7px,#78f1ba 249.7px,#74f0bd 259.7px,#71f0c0 269.7px,#6aefc3 279.7px,#62eec7 289.6px,#5aeccb 299.6px,#52ebcf 309.6px,#4aead3 319.6px,#41e8d8 329.6px,#3ae3da 339.6px,#33dedd 349.6px,#2dd9e0 359.6px,#28d5e2 369.5px,#23d0e4 379.5px,#1dcce6 389.5px,#18c8e8 399.5px,#17c4e9 409.5px);-webkit-mask-image:conic-gradient(from 0deg at 0 100%,transparent 82.00deg,#000 84.00deg);mask-image:conic-gradient(from 0deg at 0 100%,transparent 82.00deg,#000 84.00deg);"></div><div class="L" style="background:radial-gradient(circle 409.5px at 0 100%,#fa1e1c 0.0px,#fb251f 10.0px,#fc2d23 20.0px,#fd3426 30.0px,#fe3c2a 40.0px,#ff462e 49.9px,#ff5235 59.9px,#ff623e 69.9px,#ff7148 79.9px,#ff8151 89.9px,#ff915a 99.9px,#fb9e63 109.9px,#f2a869 119.9px,#e8b270 129.8px,#dac077 139.8px,#ccce7e 149.8px,#bfd887 159.8px,#b5df8e 169.8px,#aae696 179.8px,#a0ed9d 189.8px,#96f4a5 199.8px,#90f3a9 209.7px,#8bf3ad 219.7px,#85f2b1 229.7px,#80f2b4 239.7px,#7cf1b7 249.7px,#78f1ba 259.7px,#75f1bd 269.7px,#71f0bf 279.7px,#6befc2 289.6px,#63eec6 299.6px,#5cedca 309.6px,#54ebce 319.6px,#4bead2 329.6px,#42e8d7 339.6px,#3be4da 349.6px,#34dfdd 359.6px,#30dbde 369.5px,#2bd7e0 379.5px,#27d4e2 389.5px,#22d0e4 399.5px,#1ecde5 409.5px);-webkit-mask-image:conic-gradient(from 0deg at 0 100%,transparent 84.00deg,#000 86.00deg);mask-image:conic-gradient(from 0deg at 0 100%,transparent 84.00deg,#000 86.00deg);"></div><div class="L" style="background:radial-gradient(circle 409.5px at 0 100%,#fa1e1c 0.0px,#fb251f 10.0px,#fc2c22 20.0px,#fd3225 30.0px,#fd3a29 40.0px,#fe432d 49.9px,#ff4d32 59.9px,#ff5c3b 69.9px,#ff6b44 79.9px,#ff794c 89.9px,#ff8855 99.9px,#ff975e 109.9px,#f8a165 119.9px,#eeab6b 129.8px,#e4b672 139.8px,#d6c479 149.8px,#c9d17f 159.8px,#bfd887 169.8px,#b5df8e 179.8px,#abe695 189.8px,#a1ed9d 199.8px,#9af1a2 209.7px,#94f4a7 219.7px,#8ef3ab 229.7px,#89f3ae 239.7px,#85f2b1 249.7px,#82f2b4 259.7px,#7ef1b6 269.7px,#7af1b9 279.7px,#76f1bc 289.6px,#72f0bf 299.6px,#6cefc2 309.6px,#63eec6 319.6px,#59eccb 329.6px,#50ebd0 339.6px,#46e9d5 349.6px,#3de6d9 359.6px,#38e2db 369.5px,#34dedd 379.5px,#2fdadf 389.5px,#2ad6e1 399.5px,#26d3e2 409.5px);-webkit-mask-image:conic-gradient(from 0deg at 0 100%,transparent 86.00deg,#000 88.00deg);mask-image:conic-gradient(from 0deg at 0 100%,transparent 86.00deg,#000 88.00deg);"></div><div class="L" style="background:radial-gradient(circle 409.5px at 0 100%,#fa1e1c 0.0px,#fb241f 10.0px,#fc2b22 20.0px,#fc3225 30.0px,#fd3928 40.0px,#fe422c 49.9px,#ff4a30 59.9px,#ff5939 69.9px,#ff6742 79.9px,#ff764a 89.9px,#ff8453 99.9px,#ff935c 109.9px,#fb9e63 119.9px,#f1a86a 129.8px,#e8b270 139.8px,#dac077 149.8px,#cecc7d 159.8px,#c3d583 169.8px,#b9dc8b 179.8px,#b0e392 189.8px,#a6e999 199.8px,#9fee9e 209.7px,#98f3a4 219.7px,#92f4a8 229.7px,#8ef3ab 239.7px,#8af3ae 249.7px,#86f2b0 259.7px,#82f2b3 269.7px,#7ef2b6 279.7px,#7bf1b8 289.6px,#77f1bb 299.6px,#73f0be 309.6px,#6ef0c1 319.6px,#64eec6 329.6px,#5aeccb 339.6px,#50ebd0 349.6px,#47e9d5 359.6px,#40e8d8 369.5px,#3be4da 379.5px,#37e0dc 389.5px,#32ddde 399.5px,#2edadf 409.5px);-webkit-mask-image:conic-gradient(from 0deg at 0 100%,transparent 88.00deg,#000 89.00deg);mask-image:conic-gradient(from 0deg at 0 100%,transparent 88.00deg,#000 89.00deg);"></div><div class="L" style="background:radial-gradient(circle 409.5px at 0 100%,#fa1e1c 0.0px,#fb241f 10.0px,#fc2a22 20.0px,#fc3124 30.0px,#fd3828 40.0px,#fe402b 49.9px,#ff492f 59.9px,#ff5637 69.9px,#ff6440 79.9px,#ff7248 89.9px,#ff8050 99.9px,#ff8e59 109.9px,#fd9c61 119.9px,#f4a568 129.8px,#ebaf6e 139.8px,#dfbb75 149.8px,#d2c87b 159.8px,#c7d280 169.8px,#bed988 179.8px,#b4e08f 189.8px,#aae696 199.8px,#a3eb9b 209.7px,#9cf0a0 219.7px,#96f4a5 229.7px,#91f3a9 239.7px,#8df3ab 249.7px,#89f3ae 259.7px,#86f2b1 269.7px,#82f2b3 279.7px,#7ef2b6 289.6px,#7bf1b8 299.6px,#77f1bb 309.6px,#73f0be 319.6px,#6cefc2 329.6px,#63eec7 339.6px,#59eccc 349.6px,#4febd0 359.6px,#49e9d4 369.5px,#42e8d7 379.5px,#3de6d9 389.5px,#38e2db 399.5px,#35dfdd 409.5px);-webkit-mask-image:conic-gradient(from 0deg at 0 100%,transparent 89.00deg,#000 90.00deg);mask-image:conic-gradient(from 0deg at 0 100%,transparent 89.00deg,#000 90.00deg);"></div><div class="L" style="background:repeating-radial-gradient(circle at 0 100%,rgba(255,255,255,0) 0px,rgba(255,255,255,0) 0.5px,rgba(255,255,255,0.8) 1.4px,rgba(255,255,255,0) 2.3px,rgba(255,255,255,0) 2.8px);-webkit-mask-image:radial-gradient(circle 95px at 0 100%,rgba(0,0,0,0.95) 0px,rgba(0,0,0,0.55) 35px,rgba(0,0,0,0.2) 65px,rgba(0,0,0,0) 95px);mask-image:radial-gradient(circle 95px at 0 100%,rgba(0,0,0,0.95) 0px,rgba(0,0,0,0.55) 35px,rgba(0,0,0,0.2) 65px,rgba(0,0,0,0) 95px)"></div></div><div class="hm" style="left:1052.7px;top:71.8px;width:410.0px;height:410.0px"><div class="L" style="background:radial-gradient(circle 410.0px at 0 100%,#fb261f 0.0px,#fd3527 10.0px,#fe452e 20.0px,#ff5b3a 30.0px,#ff7449 40.0px,#ff8c58 50.0px,#f9a164 60.0px,#e4b672 70.0px,#c8d280 80.0px,#ade494 90.0px,#92f4a8 100.0px,#7df1b7 110.0px,#63eec7 120.0px,#3ce5da 130.0px,#16bfe9 140.0px,#1991ee 150.0px,#3d63f0 160.0px,#6a25f2 170.0px,#3d63f0 180.0px,#1895ee 190.0px,#12b0eb 200.0px,#16c0e9 210.0px,#21cfe4 220.0px,#35dfdc 230.0px,#4cead2 240.0px,#67efc4 250.0px,#79f1ba 260.0px,#86f2b0 270.0px,#93f4a7 280.0px,#a3eb9b 290.0px,#b4e08f 300.0px,#c5d482 310.0px,#d7c378 320.0px,#e9b16f 330.0px,#f6a366 340.0px,#ff935c 350.0px,#ff7d4e 360.0px,#ff6741 370.0px,#ff5134 380.0px,#fe422c 390.0px,#fd3627 400.0px,#fc2a21 410.0px);"></div><div class="L" style="background:radial-gradient(circle 410.0px at 0 100%,#fb261f 0.0px,#fd3527 10.0px,#fe452e 20.0px,#ff5b3a 30.0px,#ff7449 40.0px,#ff8c58 50.0px,#f8a165 60.0px,#e3b772 70.0px,#c8d280 80.0px,#ade494 90.0px,#92f4a8 100.0px,#7df1b7 110.0px,#63eec7 120.0px,#3ce4da 130.0px,#16bfe9 140.0px,#1991ee 150.0px,#3d63f0 160.0px,#6a25f2 170.0px,#3e62f0 180.0px,#1894ee 190.0px,#12afeb 200.0px,#16bfe9 210.0px,#21cfe4 220.0px,#34dfdd 230.0px,#4bead3 240.0px,#66eec5 250.0px,#78f1ba 260.0px,#85f2b1 270.0px,#92f4a8 280.0px,#a2ec9c 290.0px,#b3e190 300.0px,#c3d583 310.0px,#d5c579 320.0px,#e7b370 330.0px,#f4a567 340.0px,#ff965e 350.0px,#ff8051 360.0px,#ff6c45 370.0px,#ff5839 380.0px,#ff472e 390.0px,#fd3b29 400.0px,#fc2f24 410.0px);-webkit-mask-image:conic-gradient(from 0deg at 0 100%,transparent 0.00deg,#000 0.50deg);mask-image:conic-gradient(from 0deg at 0 100%,transparent 0.00deg,#000 0.50deg);"></div><div class="L" style="background:radial-gradient(circle 410.0px at 0 100%,#fb261f 0.0px,#fd3527 10.0px,#fe452e 20.0px,#ff5c3b 30.0px,#ff7449 40.0px,#ff8d58 50.0px,#f8a165 60.0px,#e3b772 70.0px,#c7d280 80.0px,#ade594 90.0px,#92f4a8 100.0px,#7df1b7 110.0px,#62eec7 120.0px,#3be4da 130.0px,#16bfe9 140.0px,#1991ee 150.0px,#3d63f0 160.0px,#6a25f2 170.0px,#3f61f0 180.0px,#1893ee 190.0px,#12afeb 200.0px,#16bfe9 210.0px,#20cfe5 220.0px,#34dedd 230.0px,#4aead3 240.0px,#65eec6 250.0px,#77f1bb 260.0px,#84f2b2 270.0px,#91f3a9 280.0px,#a0ed9e 290.0px,#b1e291 300.0px,#c2d685 310.0px,#d3c77b 320.0px,#e5b572 330.0px,#f2a769 340.0px,#ff9a60 350.0px,#ff8654 360.0px,#ff7348 370.0px,#ff5f3d 380.0px,#ff4c31 390.0px,#fe402b 400.0px,#fd3426 410.0px);-webkit-mask-image:conic-gradient(from 0deg at 0 100%,transparent 0.50deg,#000 1.00deg);mask-image:conic-gradient(from 0deg at 0 100%,transparent 0.50deg,#000 1.00deg);"></div><div class="L" style="background:radial-gradient(circle 410.0px at 0 100%,#fb261f 0.0px,#fd3527 10.0px,#fe452e 20.0px,#ff5c3b 30.0px,#ff754a 40.0px,#ff8d58 50.0px,#f8a165 60.0px,#e3b773 70.0px,#c7d381 80.0px,#ace594 90.0px,#92f4a8 100.0px,#7df1b7 110.0px,#62eec7 120.0px,#3be4da 130.0px,#16bfe9 140.0px,#1991ee 150.0px,#3d63f0 160.0px,#6a26f2 170.0px,#4060f0 180.0px,#1992ee 190.0px,#12afeb 200.0px,#16bfe9 210.0px,#20cee5 220.0px,#33dddd 230.0px,#48e9d4 240.0px,#63eec6 250.0px,#77f1bb 260.0px,#83f2b2 270.0px,#90f3a9 280.0px,#9eee9f 290.0px,#afe393 300.0px,#c0d886 310.0px,#d1c97c 320.0px,#e2b873 330.0px,#f0aa6a 340.0px,#fc9e62 350.0px,#ff8d58 360.0px,#ff794c 370.0px,#ff6641 380.0px,#ff5336 390.0px,#fe442d 400.0px,#fd3928 410.0px);-webkit-mask-image:conic-gradient(from 0deg at 0 100%,transparent 1.00deg,#000 1.50deg);mask-image:conic-gradient(from 0deg at 0 100%,transparent 1.00deg,#000 1.50deg);"></div><div class="L" style="background:radial-gradient(circle 410.0px at 0 100%,#fb261f 0.0px,#fd3527 10.0px,#fe452e 20.0px,#ff5c3b 30.0px,#ff754a 40.0px,#ff8d58 50.0px,#f8a165 60.0px,#e3b773 70.0px,#c7d381 80.0px,#ace595 90.0px,#92f4a8 100.0px,#7df1b7 110.0px,#62eec7 120.0px,#3be4da 130.0px,#16bfe9 140.0px,#1991ee 150.0px,#3d63f0 160.0px,#6a26f2 170.0px,#415ff0 180.0px,#1991ee 190.0px,#12aeeb 200.0px,#16bee9 210.0px,#1fcee5 220.0px,#32ddde 230.0px,#47e9d5 240.0px,#61eec7 250.0px,#76f1bc 260.0px,#82f2b3 270.0px,#8ff3aa 280.0px,#9defa0 290.0px,#ade494 300.0px,#bdd988 310.0px,#cecc7d 320.0px,#dfbb75 330.0px,#edad6d 340.0px,#f8a165 350.0px,#ff935c 360.0px,#ff8050 370.0px,#ff6d45 380.0px,#ff5b3a 390.0px,#ff4930 400.0px,#fe3e2a 410.0px);-webkit-mask-image:conic-gradient(from 0deg at 0 100%,transparent 1.50deg,#000 2.00deg);mask-image:conic-gradient(from 0deg at 0 100%,transparent 1.50deg,#000 2.00deg);"></div><div class="L" style="background:radial-gradient(circle 410.0px at 0 100%,#fb261f 0.0px,#fd3527 10.0px,#fe452e 20.0px,#ff5c3b 30.0px,#ff754a 40.0px,#ff8d58 50.0px,#f8a165 60.0px,#e2b873 70.0px,#c7d381 80.0px,#ace595 90.0px,#92f4a8 100.0px,#7df1b7 110.0px,#61eec7 120.0px,#3be4da 130.0px,#16bfe9 140.0px,#1991ee 150.0px,#3d63f0 160.0px,#6926f2 170.0px,#445bf0 180.0px,#1a8eef 190.0px,#11adeb 200.0px,#15bde9 210.0px,#1dcce6 220.0px,#30dbde 230.0px,#44e9d6 240.0px,#5eedc9 250.0px,#74f0bd 260.0px,#80f2b5 270.0px,#8cf3ac 280.0px,#99f2a3 290.0px,#a9e797 300.0px,#b8dd8c 310.0px,#c7d381 320.0px,#d6c479 330.0px,#e5b571 340.0px,#f1a96a 350.0px,#fc9d62 360.0px,#ff8d58 370.0px,#ff7c4e 380.0px,#ff6a43 390.0px,#ff5838 400.0px,#ff482f 410.0px);-webkit-mask-image:conic-gradient(from 0deg at 0 100%,transparent 2.00deg,#000 3.00deg);mask-image:conic-gradient(from 0deg at 0 100%,transparent 2.00deg,#000 3.00deg);"></div><div class="L" style="background:radial-gradient(circle 410.0px at 0 100%,#fb261f 0.0px,#fd3627 10.0px,#ff452e 20.0px,#ff5c3b 30.0px,#ff754a 40.0px,#ff8e59 50.0px,#f8a265 60.0px,#e2b873 70.0px,#c6d381 80.0px,#ace595 90.0px,#91f4a8 100.0px,#7cf1b7 110.0px,#61eec7 120.0px,#3be4da 130.0px,#16bfe9 140.0px,#1991ee 150.0px,#3d63f0 160.0px,#6926f2 170.0px,#4756f0 180.0px,#1c8bef 190.0px,#11abec 200.0px,#15bcea 210.0px,#1ccbe7 220.0px,#2edadf 230.0px,#40e8d8 240.0px,#5aeccb 250.0px,#72f0bf 260.0px,#7ef1b6 270.0px,#8af3ae 280.0px,#95f4a6 290.0px,#a3eb9b 300.0px,#b1e291 310.0px,#bfd887 320.0px,#cdcd7d 330.0px,#dcbe76 340.0px,#eab06f 350.0px,#f4a568 360.0px,#fe9b60 370.0px,#ff8a56 380.0px,#ff794c 390.0px,#ff6842 400.0px,#ff5738 410.0px);-webkit-mask-image:conic-gradient(from 0deg at 0 100%,transparent 3.00deg,#000 4.00deg);mask-image:conic-gradient(from 0deg at 0 100%,transparent 3.00deg,#000 4.00deg);"></div><div class="L" style="background:radial-gradient(circle 410.0px at 0 100%,#fb261f 0.0px,#fd3627 10.0px,#ff452e 20.0px,#ff5d3b 30.0px,#ff764a 40.0px,#ff8e59 50.0px,#f7a265 60.0px,#e2b873 70.0px,#c6d381 80.0px,#ace595 90.0px,#91f4a8 100.0px,#7cf1b7 110.0px,#61edc8 120.0px,#3ae4da 130.0px,#16bfe9 140.0px,#1992ee 150.0px,#3d63f0 160.0px,#6927f2 170.0px,#4b51f0 180.0px,#1d87ef 190.0px,#10aaec 200.0px,#15baea 210.0px,#1ac9e7 220.0px,#2cd8e0 230.0px,#3ee6d9 240.0px,#56eccd 250.0px,#6ff0c1 260.0px,#7bf1b8 270.0px,#86f2b0 280.0px,#90f3a9 290.0px,#9cf0a0 300.0px,#aae796 310.0px,#b7dd8c 320.0px,#c5d482 330.0px,#d3c77b 340.0px,#e0ba74 350.0px,#edad6d 360.0px,#f6a366 370.0px,#ff985f 380.0px,#ff8755 390.0px,#ff774b 400.0px,#ff6741 410.0px);-webkit-mask-image:conic-gradient(from 0deg at 0 100%,transparent 4.00deg,#000 5.00deg);mask-image:conic-gradient(from 0deg at 0 100%,transparent 4.00deg,#000 5.00deg);"></div><div class="L" style="background:radial-gradient(circle 410.0px at 0 100%,#fb261f 0.0px,#fd3627 10.0px,#ff452e 20.0px,#ff5d3b 30.0px,#ff764a 40.0px,#ff8e59 50.0px,#f7a265 60.0px,#e2b873 70.0px,#c6d381 80.0px,#abe595 90.0px,#91f3a8 100.0px,#7cf1b7 110.0px,#61edc8 120.0px,#3ae4da 130.0px,#16bfe9 140.0px,#1992ee 150.0px,#3c64f0 160.0px,#6828f1 170.0px,#4e4bf0 180.0px,#1f83f0 190.0px,#10a8ec 200.0px,#14b9ea 210.0px,#18c8e8 220.0px,#29d6e1 230.0px,#3be4da 240.0px,#52ebcf 250.0px,#69efc3 260.0px,#77f1bb 270.0px,#81f2b4 280.0px,#8bf3ad 290.0px,#95f4a5 300.0px,#a2ec9c 310.0px,#afe392 320.0px,#bcda89 330.0px,#c9d17f 340.0px,#d6c479 350.0px,#e4b672 360.0px,#eeab6c 370.0px,#f8a165 380.0px,#ff965e 390.0px,#ff8754 400.0px,#ff774b 410.0px);-webkit-mask-image:conic-gradient(from 0deg at 0 100%,transparent 5.00deg,#000 6.00deg);mask-image:conic-gradient(from 0deg at 0 100%,transparent 5.00deg,#000 6.00deg);"></div><div class="L" style="background:radial-gradient(circle 410.0px at 0 100%,#fb261f 0.0px,#fd3627 10.0px,#ff462e 20.0px,#ff5d3b 30.0px,#ff764a 40.0px,#ff8f59 50.0px,#f7a265 60.0px,#e2b873 70.0px,#c6d381 80.0px,#abe595 90.0px,#91f3a8 100.0px,#7cf1b7 110.0px,#61edc8 120.0px,#3ae4da 130.0px,#16c0e9 140.0px,#1993ee 150.0px,#3b65f0 160.0px,#6729f1 170.0px,#5246f0 180.0px,#217ff0 190.0px,#11a5ec 200.0px,#14b7ea 210.0px,#18c6e8 220.0px,#27d4e2 230.0px,#39e2db 240.0px,#4cead2 250.0px,#61eec7 260.0px,#73f0be 270.0px,#7df1b7 280.0px,#87f2b0 290.0px,#90f3a9 300.0px,#9bf0a1 310.0px,#a8e898 320.0px,#b4e08f 330.0px,#c0d786 340.0px,#ccce7e 350.0px,#d9c177 360.0px,#e6b471 370.0px,#f0aa6b 380.0px,#f8a165 390.0px,#ff965e 400.0px,#ff8956 410.0px);-webkit-mask-image:conic-gradient(from 0deg at 0 100%,transparent 6.00deg,#000 7.00deg);mask-image:conic-gradient(from 0deg at 0 100%,transparent 6.00deg,#000 7.00deg);"></div><div class="L" style="background:radial-gradient(circle 410.0px at 0 100%,#fb261f 0.0px,#fd3627 10.0px,#ff462e 20.0px,#ff5d3b 30.0px,#ff764a 40.0px,#ff8f59 50.0px,#f7a266 60.0px,#e1b973 70.0px,#c6d382 80.0px,#abe595 90.0px,#91f3a8 100.0px,#7cf1b7 110.0px,#61edc8 120.0px,#3be4da 130.0px,#16c0e9 140.0px,#1894ee 150.0px,#3b65f0 160.0px,#662af1 170.0px,#5640f0 180.0px,#257bf0 190.0px,#12a2ed 200.0px,#13b6ea 210.0px,#17c4e8 220.0px,#25d2e3 230.0px,#34dfdd 240.0px,#44e9d6 250.0px,#59eccc 260.0px,#6df0c1 270.0px,#78f1ba 280.0px,#82f2b3 290.0px,#8bf3ad 300.0px,#94f4a6 310.0px,#a0ed9e 320.0px,#ace595 330.0px,#b7dd8c 340.0px,#c3d684 350.0px,#cfcb7d 360.0px,#dbbf77 370.0px,#e7b371 380.0px,#f0aa6b 390.0px,#f7a265 400.0px,#ff9a60 410.0px);-webkit-mask-image:conic-gradient(from 0deg at 0 100%,transparent 7.00deg,#000 8.00deg);mask-image:conic-gradient(from 0deg at 0 100%,transparent 7.00deg,#000 8.00deg);"></div><div class="L" style="background:radial-gradient(circle 410.0px at 0 100%,#fb261f 0.0px,#fd3627 10.0px,#ff462e 20.0px,#ff5d3c 30.0px,#ff764b 40.0px,#ff8f59 50.0px,#f7a366 60.0px,#e1b973 70.0px,#c6d382 80.0px,#ace595 90.0px,#91f4a8 100.0px,#7df1b7 110.0px,#61eec7 120.0px,#3be4da 130.0px,#17c2e9 140.0px,#1796ee 150.0px,#3868f0 160.0px,#642df1 170.0px,#5e35f0 180.0px,#2e72f0 190.0px,#169aed 200.0px,#12b2eb 210.0px,#16bfe9 220.0px,#1bcbe7 230.0px,#2ad6e1 240.0px,#38e1db 250.0px,#48e9d4 260.0px,#5beccb 270.0px,#6ef0c1 280.0px,#78f1ba 290.0px,#81f2b4 300.0px,#89f3ae 310.0px,#91f4a8 320.0px,#9bf1a1 330.0px,#a6e999 340.0px,#b0e292 350.0px,#bbdb8a 360.0px,#c5d482 370.0px,#cfcb7c 380.0px,#d9c178 390.0px,#e2b873 400.0px,#ebaf6e 410.0px);-webkit-mask-image:conic-gradient(from 0deg at 0 100%,transparent 8.00deg,#000 10.00deg);mask-image:conic-gradient(from 0deg at 0 100%,transparent 8.00deg,#000 10.00deg);"></div><div class="L" style="background:radial-gradient(circle 410.0px at 0 100%,#fb261f 0.0px,#fd3627 10.0px,#ff462e 20.0px,#ff5d3c 30.0px,#ff774b 40.0px,#ff8f5a 50.0px,#f7a366 60.0px,#e2b873 70.0px,#c6d381 80.0px,#ace595 90.0px,#92f4a8 100.0px,#7df1b7 110.0px,#62eec7 120.0px,#3ce5da 130.0px,#17c4e8 140.0px,#169aed 150.0px,#356bf0 160.0px,#6131f0 170.0px,#652cf1 180.0px,#3868f0 190.0px,#1a8fef 200.0px,#10a9ec 210.0px,#14b7ea 220.0px,#17c3e9 230.0px,#1fcee5 240.0px,#2dd8e0 250.0px,#3ae3db 260.0px,#49ead3 270.0px,#5beccb 280.0px,#6cefc2 290.0px,#76f1bc 300.0px,#7ef1b6 310.0px,#86f2b1 320.0px,#8df3ab 330.0px,#95f4a6 340.0px,#9eee9f 350.0px,#a7e898 360.0px,#b0e292 370.0px,#b8dd8c 380.0px,#c0d786 390.0px,#c8d280 400.0px,#d1c97c 410.0px);-webkit-mask-image:conic-gradient(from 0deg at 0 100%,transparent 10.00deg,#000 12.00deg);mask-image:conic-gradient(from 0deg at 0 100%,transparent 10.00deg,#000 12.00deg);"></div><div class="L" style="background:radial-gradient(circle 410.0px at 0 100%,#fb261f 0.0px,#fd3627 10.0px,#ff462e 20.0px,#ff5d3c 30.0px,#ff774b 40.0px,#ff8f5a 50.0px,#f7a366 60.0px,#e2b873 70.0px,#c7d381 80.0px,#ade594 90.0px,#93f4a7 100.0px,#7ef1b6 110.0px,#64eec6 120.0px,#3ee6d9 130.0px,#18c7e8 140.0px,#149eed 150.0px,#316ff0 160.0px,#5c38f0 170.0px,#6a25f2 180.0px,#4854f0 190.0px,#257bf0 200.0px,#1699ed 210.0px,#11aeeb 220.0px,#15baea 230.0px,#17c5e8 240.0px,#21cfe4 250.0px,#2ed9df 260.0px,#39e3db 270.0px,#47e9d4 280.0px,#57eccc 290.0px,#67eec5 300.0px,#73f0be 310.0px,#7af1b9 320.0px,#81f2b4 330.0px,#88f3af 340.0px,#8ef3ab 350.0px,#94f4a6 360.0px,#9bf1a1 370.0px,#a2ec9c 380.0px,#a9e797 390.0px,#b0e291 400.0px,#b7dd8c 410.0px);-webkit-mask-image:conic-gradient(from 0deg at 0 100%,transparent 12.00deg,#000 14.00deg);mask-image:conic-gradient(from 0deg at 0 100%,transparent 12.00deg,#000 14.00deg);"></div><div class="L" style="background:radial-gradient(circle 410.0px at 0 100%,#fb261f 0.0px,#fd3627 10.0px,#ff462e 20.0px,#ff5d3c 30.0px,#ff774b 40.0px,#ff8f59 50.0px,#f7a366 60.0px,#e3b773 70.0px,#c8d280 80.0px,#aee493 90.0px,#94f4a7 100.0px,#7ff2b5 110.0px,#67eec5 120.0px,#40e8d8 130.0px,#1bcbe7 140.0px,#12a4ec 150.0px,#2c74f0 160.0px,#5640f0 170.0px,#6c23f2 180.0px,#5c37f0 190.0px,#3a66f0 200.0px,#1e85f0 210.0px,#13a0ed 220.0px,#12b1eb 230.0px,#15bce9 240.0px,#18c6e8 250.0px,#21d0e4 260.0px,#2dd8e0 270.0px,#37e1db 280.0px,#43e8d7 290.0px,#51ebcf 300.0px,#5fedc8 310.0px,#6df0c1 320.0px,#75f1bc 330.0px,#7bf1b9 340.0px,#80f2b5 350.0px,#85f2b1 360.0px,#8af3ad 370.0px,#8ff3aa 380.0px,#94f4a6 390.0px,#99f2a3 400.0px,#9eee9f 410.0px);-webkit-mask-image:conic-gradient(from 0deg at 0 100%,transparent 14.00deg,#000 16.00deg);mask-image:conic-gradient(from 0deg at 0 100%,transparent 14.00deg,#000 16.00deg);"></div><div class="L" style="background:radial-gradient(circle 410.0px at 0 100%,#fb261f 0.0px,#fd3627 10.0px,#ff462e 20.0px,#ff5d3b 30.0px,#ff764b 40.0px,#ff8f59 50.0px,#f7a266 60.0px,#e4b672 70.0px,#c9d180 80.0px,#afe392 90.0px,#95f4a6 100.0px,#80f2b4 110.0px,#69efc3 120.0px,#43e8d7 130.0px,#21cfe5 140.0px,#10aaec 150.0px,#2779f0 160.0px,#4f4af0 170.0px,#6a25f2 180.0px,#6a25f2 190.0px,#504af0 200.0px,#3070f0 210.0px,#1b8cef 220.0px,#12a4ec 230.0px,#13b2eb 240.0px,#15bce9 250.0px,#17c6e8 260.0px,#20cee5 270.0px,#2ad6e1 280.0px,#34dedd 290.0px,#3de6d9 300.0px,#49ead3 310.0px,#56eccd 320.0px,#60edc8 330.0px,#6befc3 340.0px,#72f0be 350.0px,#77f1bb 360.0px,#7bf1b8 370.0px,#80f2b5 380.0px,#84f2b2 390.0px,#87f2b0 400.0px,#8bf3ad 410.0px);-webkit-mask-image:conic-gradient(from 0deg at 0 100%,transparent 16.00deg,#000 18.00deg);mask-image:conic-gradient(from 0deg at 0 100%,transparent 16.00deg,#000 18.00deg);"></div><div class="L" style="background:radial-gradient(circle 410.0px at 0 100%,#fb261f 0.0px,#fd3627 10.0px,#ff462e 20.0px,#ff5d3b 30.0px,#ff764a 40.0px,#ff8e59 50.0px,#f7a265 60.0px,#e5b572 70.0px,#cad07f 80.0px,#b1e291 90.0px,#96f4a5 100.0px,#82f2b3 110.0px,#6defc2 120.0px,#46e9d5 130.0px,#27d4e2 140.0px,#12afeb 150.0px,#217ff0 160.0px,#4854f0 170.0px,#6c23f2 180.0px,#6a25f2 190.0px,#632ff0 200.0px,#4657f0 210.0px,#2a76f0 220.0px,#1a8fee 230.0px,#11a5ec 240.0px,#12b1eb 250.0px,#15bbea 260.0px,#17c4e9 270.0px,#1ccce6 280.0px,#26d3e3 290.0px,#2fdadf 300.0px,#37e1dc 310.0px,#3ee6d9 320.0px,#47e9d5 330.0px,#50ebd0 340.0px,#59eccb 350.0px,#62eec7 360.0px,#6aefc3 370.0px,#71f0bf 380.0px,#74f0bd 390.0px,#77f1bb 400.0px,#7af1b9 410.0px);-webkit-mask-image:conic-gradient(from 0deg at 0 100%,transparent 18.00deg,#000 20.00deg);mask-image:conic-gradient(from 0deg at 0 100%,transparent 18.00deg,#000 20.00deg);"></div><div class="L" style="background:radial-gradient(circle 410.0px at 0 100%,#fb261f 0.0px,#fd3627 10.0px,#ff452e 20.0px,#ff5c3b 30.0px,#ff764a 40.0px,#ff8e59 50.0px,#f8a265 60.0px,#e6b471 70.0px,#cbcf7e 80.0px,#b2e190 90.0px,#98f2a3 100.0px,#84f2b2 110.0px,#70f0c0 120.0px,#4bead3 130.0px,#2dd9e0 140.0px,#13b5ea 150.0px,#1d88ef 160.0px,#415ff0 170.0px,#6927f2 180.0px,#6729f1 190.0px,#6d22f2 200.0px,#5c37f0 210.0px,#415ef0 220.0px,#2878f0 230.0px,#1a8fef 240.0px,#12a3ed 250.0px,#12afeb 260.0px,#14b8ea 270.0px,#16c0e9 280.0px,#18c8e8 290.0px,#20cee5 300.0px,#27d4e2 310.0px,#2dd9df 320.0px,#34dedd 330.0px,#3ae3db 340.0px,#3fe7d8 350.0px,#47e9d5 360.0px,#4dead1 370.0px,#53ebce 380.0px,#59eccc 390.0px,#5eedc9 400.0px,#63eec7 410.0px);-webkit-mask-image:conic-gradient(from 0deg at 0 100%,transparent 20.00deg,#000 22.00deg);mask-image:conic-gradient(from 0deg at 0 100%,transparent 20.00deg,#000 22.00deg);"></div><div class="L" style="background:radial-gradient(circle 410.0px at 0 100%,#fb261f 0.0px,#fd3627 10.0px,#ff452e 20.0px,#ff5c3b 30.0px,#ff754a 40.0px,#ff8d58 50.0px,#f8a165 60.0px,#e8b270 70.0px,#cdcd7d 80.0px,#b4df8e 90.0px,#9bf1a1 100.0px,#86f2b0 110.0px,#73f0be 120.0px,#50ebd0 130.0px,#31dcde 140.0px,#15bbea 150.0px,#1991ee 160.0px,#3967f0 170.0px,#6131f0 180.0px,#6729f1 190.0px,#6828f1 200.0px,#6a25f2 210.0px,#583df0 220.0px,#4060f0 230.0px,#2a76f0 240.0px,#1c8bef 250.0px,#149eed 260.0px,#11acec 270.0px,#13b5ea 280.0px,#15bce9 290.0px,#16c2e9 300.0px,#18c7e8 310.0px,#1dcce6 320.0px,#23d1e4 330.0px,#28d5e2 340.0px,#2dd9df 350.0px,#32ddde 360.0px,#36e0dc 370.0px,#39e2db 380.0px,#3ce5d9 390.0px,#3fe8d8 400.0px,#43e9d6 410.0px);-webkit-mask-image:conic-gradient(from 0deg at 0 100%,transparent 22.00deg,#000 24.00deg);mask-image:conic-gradient(from 0deg at 0 100%,transparent 22.00deg,#000 24.00deg);"></div><div class="L" style="background:radial-gradient(circle 410.0px at 0 100%,#fb261f 0.0px,#fd3527 10.0px,#fe452e 20.0px,#ff5b3a 30.0px,#ff7449 40.0px,#ff8c58 50.0px,#f9a064 60.0px,#e9b16f 70.0px,#cfcb7c 80.0px,#b7de8d 90.0px,#9eef9f 100.0px,#88f3af 110.0px,#75f1bc 120.0px,#56eccd 130.0px,#36e0dc 140.0px,#17c2e9 150.0px,#159bed 160.0px,#3070f0 170.0px,#573ff0 180.0px,#6827f2 190.0px,#642df1 200.0px,#6927f2 210.0px,#6927f2 220.0px,#583df0 230.0px,#425df0 240.0px,#2e72f0 250.0px,#1e85f0 260.0px,#1797ee 270.0px,#11a6ec 280.0px,#12aeeb 290.0px,#13b4ea 300.0px,#14baea 310.0px,#16bfe9 320.0px,#17c3e9 330.0px,#18c7e8 340.0px,#1ccbe6 350.0px,#1fcee5 360.0px,#23d1e4 370.0px,#26d3e3 380.0px,#28d5e1 390.0px,#2bd7e0 400.0px,#2dd9df 410.0px);-webkit-mask-image:conic-gradient(from 0deg at 0 100%,transparent 24.00deg,#000 26.00deg);mask-image:conic-gradient(from 0deg at 0 100%,transparent 24.00deg,#000 26.00deg);"></div><div class="L" style="background:radial-gradient(circle 410.0px at 0 100%,#fb261f 0.0px,#fd3527 10.0px,#fe452e 20.0px,#ff5b3a 30.0px,#ff7449 40.0px,#ff8b57 50.0px,#faa064 60.0px,#eaaf6e 70.0px,#d2c87b 80.0px,#b9dc8b 90.0px,#a1ed9d 100.0px,#8bf3ad 110.0px,#78f1ba 120.0px,#5cedca 130.0px,#3ae4da 140.0px,#1bcae7 150.0px,#10a7ec 160.0px,#267af0 170.0px,#4b4ff0 180.0px,#6c23f2 190.0px,#642ef1 200.0px,#642df1 210.0px,#6926f2 220.0px,#6927f2 230.0px,#5a3af0 240.0px,#4756f0 250.0px,#346cf0 260.0px,#237df0 270.0px,#1b8cef 280.0px,#1699ee 290.0px,#12a3ec 300.0px,#11abec 310.0px,#12b1eb 320.0px,#13b5ea 330.0px,#14baea 340.0px,#15bde9 350.0px,#16c0e9 360.0px,#16c2e9 370.0px,#17c4e8 380.0px,#18c6e8 390.0px,#18c8e8 400.0px,#1ac9e7 410.0px);-webkit-mask-image:conic-gradient(from 0deg at 0 100%,transparent 26.00deg,#000 28.00deg);mask-image:conic-gradient(from 0deg at 0 100%,transparent 26.00deg,#000 28.00deg);"></div><div class="L" style="background:radial-gradient(circle 410.0px at 0 100%,#fb261f 0.0px,#fd3526 10.0px,#fe442d 20.0px,#ff5a3a 30.0px,#ff7348 40.0px,#ff8a57 50.0px,#fa9f63 60.0px,#ecae6d 70.0px,#d4c67a 80.0px,#bcda89 90.0px,#a4ea9a 100.0px,#8ef3ab 110.0px,#7cf1b8 120.0px,#63eec6 130.0px,#40e8d8 140.0px,#25d2e3 150.0px,#12b1eb 160.0px,#1e85f0 170.0px,#405ff0 180.0px,#662af1 190.0px,#652cf1 200.0px,#6131f0 210.0px,#632ef1 220.0px,#6927f2 230.0px,#6a25f2 240.0px,#5e34f0 250.0px,#4d4df0 260.0px,#3d63f0 270.0px,#3070f0 280.0px,#247cf0 290.0px,#1d88ef 300.0px,#1893ee 310.0px,#159ced 320.0px,#11a5ec 330.0px,#11aaec 340.0px,#11adeb 350.0px,#12b0eb 360.0px,#13b3eb 370.0px,#13b5ea 380.0px,#14b7ea 390.0px,#14b9ea 400.0px,#15baea 410.0px);-webkit-mask-image:conic-gradient(from 0deg at 0 100%,transparent 28.00deg,#000 30.00deg);mask-image:conic-gradient(from 0deg at 0 100%,transparent 28.00deg,#000 30.00deg);"></div><div class="L" style="background:radial-gradient(circle 410.0px at 0 100%,#fb261f 0.0px,#fd3526 10.0px,#fe442d 20.0px,#ff5939 30.0px,#ff7248 40.0px,#ff8956 50.0px,#fb9e63 60.0px,#eeac6c 70.0px,#d7c379 80.0px,#bfd887 90.0px,#a8e898 100.0px,#91f4a8 110.0px,#7ff2b5 120.0px,#6aefc3 130.0px,#48e9d4 140.0px,#2dd9e0 150.0px,#14baea 160.0px,#1992ee 170.0px,#356bf0 180.0px,#5a3bf0 190.0px,#6828f1 200.0px,#6131f0 210.0px,#5f34f0 220.0px,#6230f0 230.0px,#6828f1 240.0px,#6c23f2 250.0px,#632ef1 260.0px,#583ef0 270.0px,#4b50f0 280.0px,#3f61f0 290.0px,#346cf0 300.0px,#2a76f0 310.0px,#217ff0 320.0px,#1c89ef 330.0px,#1a90ee 340.0px,#1796ee 350.0px,#159bed 360.0px,#13a0ed 370.0px,#12a4ec 380.0px,#10a7ec 390.0px,#10a9ec 400.0px,#11abec 410.0px);-webkit-mask-image:conic-gradient(from 0deg at 0 100%,transparent 30.00deg,#000 32.00deg);mask-image:conic-gradient(from 0deg at 0 100%,transparent 30.00deg,#000 32.00deg);"></div><div class="L" style="background:radial-gradient(circle 410.0px at 0 100%,#fb261f 0.0px,#fd3526 10.0px,#fe442d 20.0px,#ff5839 30.0px,#ff7147 40.0px,#ff8855 50.0px,#fc9d62 60.0px,#efab6b 70.0px,#dac077 80.0px,#c2d684 90.0px,#ace595 100.0px,#95f4a6 110.0px,#83f2b2 120.0px,#71f0bf 130.0px,#50ebd0 140.0px,#33dedd 150.0px,#17c4e8 160.0px,#12a2ed 170.0px,#2878f0 180.0px,#4b50f0 190.0px,#6d22f2 200.0px,#622ff0 210.0px,#5d36f0 220.0px,#5c37f0 230.0px,#6032f0 240.0px,#652bf1 250.0px,#6c22f2 260.0px,#6a25f2 270.0px,#632ef1 280.0px,#5a3bf0 290.0px,#504af0 300.0px,#4558f0 310.0px,#3c64f0 320.0px,#346cf0 330.0px,#2d73f0 340.0px,#2878f0 350.0px,#227ef0 360.0px,#1f83f0 370.0px,#1d88ef 380.0px,#1b8cef 390.0px,#1990ee 400.0px,#1894ee 410.0px);-webkit-mask-image:conic-gradient(from 0deg at 0 100%,transparent 32.00deg,#000 34.00deg);mask-image:conic-gradient(from 0deg at 0 100%,transparent 32.00deg,#000 34.00deg);"></div><div class="L" style="background:radial-gradient(circle 410.0px at 0 100%,#fb261f 0.0px,#fd3526 10.0px,#fe432d 20.0px,#ff5738 30.0px,#ff6f46 40.0px,#ff8654 50.0px,#fe9c61 60.0px,#f0a96a 70.0px,#ddbd75 80.0px,#c6d382 90.0px,#b0e292 100.0px,#99f2a2 110.0px,#87f2b0 120.0px,#76f1bc 130.0px,#59eccb 140.0px,#3ae3da 150.0px,#20cfe5 160.0px,#12afeb 170.0px,#1e86ef 180.0px,#3d63f0 190.0px,#6131f0 200.0px,#662af1 210.0px,#5e35f0 220.0px,#5a3bf0 230.0px,#5a3bf0 240.0px,#5d37f0 250.0px,#6131f0 260.0px,#662bf1 270.0px,#6c23f2 280.0px,#6b24f2 290.0px,#662af1 300.0px,#6033f0 310.0px,#573ff0 320.0px,#5048f0 330.0px,#4a51f0 340.0px,#445af0 350.0px,#3e62f0 360.0px,#3967f0 370.0px,#346cf0 380.0px,#3070f0 390.0px,#2b75f0 400.0px,#2779f0 410.0px);-webkit-mask-image:conic-gradient(from 0deg at 0 100%,transparent 34.00deg,#000 36.00deg);mask-image:conic-gradient(from 0deg at 0 100%,transparent 34.00deg,#000 36.00deg);"></div><div class="L" style="background:radial-gradient(circle 410.0px at 0 100%,#fb261f 0.0px,#fd3426 10.0px,#fe432d 20.0px,#ff5637 30.0px,#ff6e46 40.0px,#ff8453 50.0px,#ff9a60 60.0px,#f2a869 70.0px,#e1b974 80.0px,#cad07f 90.0px,#b4df8f 100.0px,#9fee9f 110.0px,#8bf3ad 120.0px,#7af1b9 130.0px,#63eec7 140.0px,#42e8d7 150.0px,#2bd7e1 160.0px,#15bbea 170.0px,#1797ee 180.0px,#2f71f0 190.0px,#5049f0 200.0px,#6c23f2 210.0px,#6230f0 220.0px,#5a3af0 230.0px,#573ff0 240.0px,#573ff0 250.0px,#583ef0 260.0px,#5b39f0 270.0px,#5f33f0 280.0px,#642df1 290.0px,#6927f2 300.0px,#6d21f2 310.0px,#6a25f2 320.0px,#6729f1 330.0px,#632ef1 340.0px,#5f33f0 350.0px,#5a3af0 360.0px,#5541f0 370.0px,#5148f0 380.0px,#4c4ff0 390.0px,#4657f0 400.0px,#425ef0 410.0px);-webkit-mask-image:conic-gradient(from 0deg at 0 100%,transparent 36.00deg,#000 38.00deg);mask-image:conic-gradient(from 0deg at 0 100%,transparent 36.00deg,#000 38.00deg);"></div><div class="L" style="background:radial-gradient(circle 410.0px at 0 100%,#fb261f 0.0px,#fd3426 10.0px,#fe422d 20.0px,#ff5537 30.0px,#ff6c45 40.0px,#ff8352 50.0px,#ff985f 60.0px,#f3a668 70.0px,#e5b572 80.0px,#cecc7d 90.0px,#b9dc8b 100.0px,#a4ea9b 110.0px,#90f3a9 120.0px,#7ff2b5 130.0px,#6df0c1 140.0px,#4dead1 150.0px,#33dddd 160.0px,#18c8e8 170.0px,#10aaec 180.0px,#2081f0 190.0px,#3f61f0 200.0px,#6131f0 210.0px,#672af1 220.0px,#5e36f0 230.0px,#573ff0 240.0px,#5444f0 250.0px,#5246f0 260.0px,#5345f0 270.0px,#5443f0 280.0px,#573ff0 290.0px,#5b39f0 300.0px,#5f33f0 310.0px,#632ef1 320.0px,#662af1 330.0px,#6a26f2 340.0px,#6d21f2 350.0px,#6c23f2 360.0px,#6a26f2 370.0px,#6729f1 380.0px,#642df1 390.0px,#6031f0 400.0px,#5c37f0 410.0px);-webkit-mask-image:conic-gradient(from 0deg at 0 100%,transparent 38.00deg,#000 40.00deg);mask-image:conic-gradient(from 0deg at 0 100%,transparent 38.00deg,#000 40.00deg);"></div><div class="L" style="background:radial-gradient(circle 410.0px at 0 100%,#fb261f 0.0px,#fd3426 10.0px,#fe422c 20.0px,#ff5436 30.0px,#ff6b44 40.0px,#ff8151 50.0px,#ff965e 60.0px,#f5a567 70.0px,#e9b170 80.0px,#d3c77b 90.0px,#bed988 100.0px,#a9e797 110.0px,#95f4a6 120.0px,#84f2b2 130.0px,#74f0bd 140.0px,#58eccc 150.0px,#3be4da 160.0px,#26d3e3 170.0px,#14b7ea 180.0px,#1894ee 190.0px,#2f71f0 200.0px,#4e4cf0 210.0px,#6d22f2 220.0px,#632ff0 230.0px,#5a3bf0 240.0px,#5443f0 250.0px,#5049f0 260.0px,#4e4cf0 270.0px,#4d4df0 280.0px,#4e4cf0 290.0px,#4f4af0 300.0px,#5247f0 310.0px,#5444f0 320.0px,#5542f0 330.0px,#5641f0 340.0px,#573ff0 350.0px,#5a3bf0 360.0px,#5d36f0 370.0px,#6131f0 380.0px,#662af1 390.0px,#6d22f2 400.0px,#6c22f2 410.0px);-webkit-mask-image:conic-gradient(from 0deg at 0 100%,transparent 40.00deg,#000 42.00deg);mask-image:conic-gradient(from 0deg at 0 100%,transparent 40.00deg,#000 42.00deg);"></div><div class="L" style="background:radial-gradient(circle 410.0px at 0 100%,#fb261f 0.0px,#fd3426 10.0px,#fe412c 20.0px,#ff5235 30.0px,#ff6943 40.0px,#ff7f50 50.0px,#ff945c 60.0px,#f7a366 70.0px,#ebaf6e 80.0px,#d8c278 90.0px,#c3d684 100.0px,#afe393 110.0px,#9bf1a2 120.0px,#8af3ae 130.0px,#7af1b9 140.0px,#64eec6 150.0px,#46e9d5 160.0px,#2fdbdf 170.0px,#17c6e8 180.0px,#10aaec 190.0px,#1f83f0 200.0px,#3b65f0 210.0px,#5a3af0 220.0px,#6926f2 230.0px,#6033f0 240.0px,#573ff0 250.0px,#5148f0 260.0px,#4c4ef0 270.0px,#4a52f0 280.0px,#4854f0 290.0px,#4855f0 300.0px,#4855f0 310.0px,#4855f0 320.0px,#4756f0 330.0px,#4559f0 340.0px,#435cf0 350.0px,#425df0 360.0px,#415ef0 370.0px,#425df0 380.0px,#445af0 390.0px,#4756f0 400.0px,#4a51f0 410.0px);-webkit-mask-image:conic-gradient(from 0deg at 0 100%,transparent 42.00deg,#000 44.00deg);mask-image:conic-gradient(from 0deg at 0 100%,transparent 42.00deg,#000 44.00deg);"></div><div class="L" style="background:radial-gradient(circle 410.0px at 0 100%,#fb261f 0.0px,#fd3326 10.0px,#fe412c 20.0px,#ff5134 30.0px,#ff6741 40.0px,#ff7d4e 50.0px,#ff915b 60.0px,#f9a165 70.0px,#edad6c 80.0px,#ddbd76 90.0px,#c8d280 100.0px,#b5df8e 110.0px,#a1ec9d 120.0px,#8ff3aa 130.0px,#80f2b5 140.0px,#71f0bf 150.0px,#53ebce 160.0px,#39e3db 170.0px,#25d2e3 180.0px,#14baea 190.0px,#159aed 200.0px,#2977f0 210.0px,#4558f0 220.0px,#632ef1 230.0px,#662af1 240.0px,#5d36f0 250.0px,#5542f0 260.0px,#4e4cf0 270.0px,#4953f0 280.0px,#4658f0 290.0px,#435bf0 300.0px,#425ef0 310.0px,#4060f0 320.0px,#3e62f0 330.0px,#3967f0 340.0px,#346cf0 350.0px,#3070f0 360.0px,#2c74f0 370.0px,#2977f0 380.0px,#2779f0 390.0px,#267af0 400.0px,#257bf0 410.0px);-webkit-mask-image:conic-gradient(from 0deg at 0 100%,transparent 44.00deg,#000 46.00deg);mask-image:conic-gradient(from 0deg at 0 100%,transparent 44.00deg,#000 46.00deg);"></div><div class="L" style="background:radial-gradient(circle 410.0px at 0 100%,#fb261f 0.0px,#fd3326 10.0px,#fe402c 20.0px,#ff5033 30.0px,#ff6540 40.0px,#ff7a4d 50.0px,#ff8e59 60.0px,#fb9f63 70.0px,#efaa6b 80.0px,#e2b873 90.0px,#cecc7d 100.0px,#bbdb8a 110.0px,#a8e898 120.0px,#95f4a6 130.0px,#86f2b0 140.0px,#78f1bb 150.0px,#61eec7 160.0px,#45e9d6 170.0px,#30dbdf 180.0px,#1acae7 190.0px,#12b0eb 200.0px,#1b8def 210.0px,#316ff0 220.0px,#4d4ef0 230.0px,#6927f2 240.0px,#652cf1 250.0px,#5b39f0 260.0px,#5345f0 270.0px,#4c4ff0 280.0px,#4756f0 290.0px,#435cf0 300.0px,#3f61f0 310.0px,#3c64f0 320.0px,#3868f0 330.0px,#316ff0 340.0px,#2a76f0 350.0px,#237df0 360.0px,#1e84f0 370.0px,#1b8cef 380.0px,#1992ee 390.0px,#1698ee 400.0px,#149eed 410.0px);-webkit-mask-image:conic-gradient(from 0deg at 0 100%,transparent 46.00deg,#000 48.00deg);mask-image:conic-gradient(from 0deg at 0 100%,transparent 46.00deg,#000 48.00deg);"></div><div class="L" style="background:radial-gradient(circle 410.0px at 0 100%,#fb261f 0.0px,#fd3325 10.0px,#fe402b 20.0px,#ff4e32 30.0px,#ff633f 40.0px,#ff784c 50.0px,#ff8b57 60.0px,#fd9c62 70.0px,#f2a869 80.0px,#e7b371 90.0px,#d4c67a 100.0px,#c1d785 110.0px,#afe393 120.0px,#9defa0 130.0px,#8df3ac 140.0px,#7ef2b6 150.0px,#70f0c0 160.0px,#54ebce 170.0px,#3be4da 180.0px,#28d5e2 190.0px,#16c1e9 200.0px,#10a8ec 210.0px,#1e84f0 220.0px,#3769f0 230.0px,#5247f0 240.0px,#6b23f2 250.0px,#642df1 260.0px,#5b3af0 270.0px,#5246f0 280.0px,#4b50f0 290.0px,#4559f0 300.0px,#4060f0 310.0px,#3c64f0 320.0px,#366af0 330.0px,#2d73f0 340.0px,#247cf0 350.0px,#1e86ef 360.0px,#1991ee 370.0px,#159bed 380.0px,#11a5ec 390.0px,#11adeb 400.0px,#13b4ea 410.0px);-webkit-mask-image:conic-gradient(from 0deg at 0 100%,transparent 48.00deg,#000 50.00deg);mask-image:conic-gradient(from 0deg at 0 100%,transparent 48.00deg,#000 50.00deg);"></div><div class="L" style="background:radial-gradient(circle 410.0px at 0 100%,#fb261f 0.0px,#fd3225 10.0px,#fe3f2b 20.0px,#ff4c31 30.0px,#ff613e 40.0px,#ff754a 50.0px,#ff8855 60.0px,#ff9a60 70.0px,#f4a567 80.0px,#eab06f 90.0px,#dac077 100.0px,#c7d281 110.0px,#b6de8d 120.0px,#a4ea9a 130.0px,#93f4a7 140.0px,#86f2b1 150.0px,#78f1ba 160.0px,#64eec6 170.0px,#49ead3 180.0px,#34dedd 190.0px,#21cfe4 200.0px,#15baea 210.0px,#13a0ed 220.0px,#217ff0 230.0px,#3b65f0 240.0px,#5344f0 250.0px,#6b23f2 260.0px,#642df1 270.0px,#5b39f0 280.0px,#5246f0 290.0px,#4b51f0 300.0px,#445af0 310.0px,#3e62f0 320.0px,#3769f0 330.0px,#2d73f0 340.0px,#237df0 350.0px,#1c8aef 360.0px,#1797ee 370.0px,#12a4ec 380.0px,#12aeeb 390.0px,#14b8ea 400.0px,#16c1e9 410.0px);-webkit-mask-image:conic-gradient(from 0deg at 0 100%,transparent 50.00deg,#000 52.00deg);mask-image:conic-gradient(from 0deg at 0 100%,transparent 50.00deg,#000 52.00deg);"></div><div class="L" style="background:radial-gradient(circle 410.0px at 0 100%,#fb261f 0.0px,#fd3225 10.0px,#fe3e2b 20.0px,#ff4b30 30.0px,#ff5f3c 40.0px,#ff7248 50.0px,#ff8553 60.0px,#ff965e 70.0px,#f7a266 80.0px,#edad6d 90.0px,#e0ba74 100.0px,#cecc7d 110.0px,#bdd988 120.0px,#ace595 130.0px,#9cf0a1 140.0px,#8df3ab 150.0px,#80f2b5 160.0px,#73f0be 170.0px,#5aeccb 180.0px,#40e8d8 190.0px,#2ed9df 200.0px,#1ccbe7 210.0px,#14b6ea 220.0px,#159bed 230.0px,#237df0 240.0px,#3b65f0 250.0px,#5246f0 260.0px,#6926f2 270.0px,#662bf1 280.0px,#5d37f0 290.0px,#5444f0 300.0px,#4c4ff0 310.0px,#4559f0 320.0px,#3c64f0 330.0px,#316ff0 340.0px,#267af0 350.0px,#1d87ef 360.0px,#1797ee 370.0px,#11a6ec 380.0px,#12b2eb 390.0px,#15bde9 400.0px,#18c8e8 410.0px);-webkit-mask-image:conic-gradient(from 0deg at 0 100%,transparent 52.00deg,#000 54.00deg);mask-image:conic-gradient(from 0deg at 0 100%,transparent 52.00deg,#000 54.00deg);"></div><div class="L" style="background:radial-gradient(circle 410.0px at 0 100%,#fb261f 0.0px,#fc3225 10.0px,#fe3e2a 20.0px,#ff4930 30.0px,#ff5c3b 40.0px,#ff6f46 50.0px,#ff8251 60.0px,#ff925b 70.0px,#faa064 80.0px,#f0aa6b 90.0px,#e5b571 100.0px,#d6c479 110.0px,#c5d483 120.0px,#b4df8f 130.0px,#a4ea9a 140.0px,#95f4a6 150.0px,#88f3af 160.0px,#7bf1b8 170.0px,#6defc2 180.0px,#52ebcf 190.0px,#3be4da 200.0px,#29d6e1 210.0px,#18c8e8 220.0px,#13b5ea 230.0px,#159bed 240.0px,#227ef0 250.0px,#3868f0 260.0px,#4e4cf0 270.0px,#642cf1 280.0px,#6828f1 290.0px,#6033f0 300.0px,#5640f0 310.0px,#4e4cf0 320.0px,#4559f0 330.0px,#3a66f0 340.0px,#2d73f0 350.0px,#2080f0 360.0px,#1991ee 370.0px,#12a2ed 380.0px,#12b0eb 390.0px,#15bce9 400.0px,#19c9e7 410.0px);-webkit-mask-image:conic-gradient(from 0deg at 0 100%,transparent 54.00deg,#000 56.00deg);mask-image:conic-gradient(from 0deg at 0 100%,transparent 54.00deg,#000 56.00deg);"></div><div class="L" style="background:radial-gradient(circle 410.0px at 0 100%,#fb261f 0.0px,#fc3125 10.0px,#fe3d2a 20.0px,#ff482f 30.0px,#ff5a39 40.0px,#ff6c45 50.0px,#ff7e4f 60.0px,#ff8e59 70.0px,#fd9d62 80.0px,#f3a768 90.0px,#eab06f 100.0px,#ddbd75 110.0px,#ccce7e 120.0px,#bdda88 130.0px,#ade494 140.0px,#9eef9f 150.0px,#90f3a9 160.0px,#84f2b2 170.0px,#77f1bb 180.0px,#65eec5 190.0px,#4cead2 200.0px,#37e1db 210.0px,#27d4e2 220.0px,#18c7e8 230.0px,#13b6ea 240.0px,#149eed 250.0px,#1f82f0 260.0px,#336df0 270.0px,#4855f0 280.0px,#5d36f0 290.0px,#6c23f2 300.0px,#642ef1 310.0px,#5b39f0 320.0px,#5147f0 330.0px,#4558f0 340.0px,#3868f0 350.0px,#2b75f0 360.0px,#1e85f0 370.0px,#1797ee 380.0px,#10aaec 390.0px,#14b7ea 400.0px,#17c5e8 410.0px);-webkit-mask-image:conic-gradient(from 0deg at 0 100%,transparent 56.00deg,#000 58.00deg);mask-image:conic-gradient(from 0deg at 0 100%,transparent 56.00deg,#000 58.00deg);"></div><div class="L" style="background:radial-gradient(circle 410.0px at 0 100%,#fb261f 0.0px,#fc3125 10.0px,#fe3c2a 20.0px,#ff472f 30.0px,#ff5738 40.0px,#ff6943 50.0px,#ff7a4d 60.0px,#ff8a56 70.0px,#ff9960 80.0px,#f6a366 90.0px,#edad6c 100.0px,#e3b773 110.0px,#d5c57a 120.0px,#c5d482 130.0px,#b6de8d 140.0px,#a8e898 150.0px,#99f2a3 160.0px,#8df3ab 170.0px,#81f2b4 180.0px,#75f0bd 190.0px,#61edc8 200.0px,#48e9d4 210.0px,#36e0dc 220.0px,#26d3e2 230.0px,#18c7e8 240.0px,#14b9ea 250.0px,#11a5ec 260.0px,#1c8aef 270.0px,#2c74f0 280.0px,#3f61f0 290.0px,#5246f0 300.0px,#652bf1 310.0px,#6927f2 320.0px,#6031f0 330.0px,#5443f0 340.0px,#4756f0 350.0px,#3967f0 360.0px,#2a76f0 370.0px,#1e86ef 380.0px,#169aed 390.0px,#11aceb 400.0px,#15bbea 410.0px);-webkit-mask-image:conic-gradient(from 0deg at 0 100%,transparent 58.00deg,#000 60.00deg);mask-image:conic-gradient(from 0deg at 0 100%,transparent 58.00deg,#000 60.00deg);"></div><div class="L" style="background:radial-gradient(circle 410.0px at 0 100%,#fb261f 0.0px,#fc3124 10.0px,#fd3b29 20.0px,#ff462e 30.0px,#ff5536 40.0px,#ff6641 50.0px,#ff764a 60.0px,#ff8654 70.0px,#ff945d 80.0px,#faa064 90.0px,#f1a96a 100.0px,#e8b270 110.0px,#dcbe76 120.0px,#cecc7d 130.0px,#c0d886 140.0px,#b2e191 150.0px,#a4eb9b 160.0px,#96f4a5 170.0px,#8af3ae 180.0px,#7ef2b6 190.0px,#73f0be 200.0px,#5fedc9 210.0px,#47e9d4 220.0px,#36e0dc 230.0px,#27d4e2 240.0px,#19c9e8 250.0px,#15bde9 260.0px,#11adeb 270.0px,#1795ee 280.0px,#237df0 290.0px,#356bf0 300.0px,#4657f0 310.0px,#583ef0 320.0px,#6926f2 330.0px,#662bf1 340.0px,#5a3bf0 350.0px,#4c4ff0 360.0px,#3d63f0 370.0px,#2e72f0 380.0px,#1f83f0 390.0px,#1798ee 400.0px,#11acec 410.0px);-webkit-mask-image:conic-gradient(from 0deg at 0 100%,transparent 60.00deg,#000 62.00deg);mask-image:conic-gradient(from 0deg at 0 100%,transparent 60.00deg,#000 62.00deg);"></div><div class="L" style="background:radial-gradient(circle 410.0px at 0 100%,#fb261f 0.0px,#fc3024 10.0px,#fd3a29 20.0px,#fe452e 30.0px,#ff5235 40.0px,#ff623f 50.0px,#ff7248 60.0px,#ff8151 70.0px,#ff8f5a 80.0px,#fd9c61 90.0px,#f5a567 100.0px,#ecad6d 110.0px,#e3b773 120.0px,#d7c378 130.0px,#c9d17f 140.0px,#bcda89 150.0px,#aee393 160.0px,#a0ed9d 170.0px,#93f4a7 180.0px,#88f3af 190.0px,#7df1b7 200.0px,#73f0be 210.0px,#5fedc8 220.0px,#49ead3 230.0px,#38e1db 240.0px,#2ad6e1 250.0px,#1ccbe6 260.0px,#16c1e9 270.0px,#13b5ea 280.0px,#12a3ec 290.0px,#1b8cef 300.0px,#2977f0 310.0px,#3967f0 320.0px,#4b51f0 330.0px,#5d37f0 340.0px,#6c22f2 350.0px,#632ff0 360.0px,#5542f0 370.0px,#4658f0 380.0px,#366af0 390.0px,#257bf0 400.0px,#1a8fee 410.0px);-webkit-mask-image:conic-gradient(from 0deg at 0 100%,transparent 62.00deg,#000 64.00deg);mask-image:conic-gradient(from 0deg at 0 100%,transparent 62.00deg,#000 64.00deg);"></div><div class="L" style="background:radial-gradient(circle 410.0px at 0 100%,#fb261f 0.0px,#fc3024 10.0px,#fd3a28 20.0px,#fe432d 30.0px,#ff4f33 40.0px,#ff5f3d 50.0px,#ff6e45 60.0px,#ff7c4e 70.0px,#ff8a56 80.0px,#ff975e 90.0px,#f9a164 100.0px,#f1a96a 110.0px,#e9b170 120.0px,#debc75 130.0px,#d3c77a 140.0px,#c6d381 150.0px,#b9dc8b 160.0px,#ace595 170.0px,#9eee9f 180.0px,#92f4a8 190.0px,#88f3af 200.0px,#7ef1b6 210.0px,#73f0be 220.0px,#62eec7 230.0px,#4eead1 240.0px,#3ce4da 250.0px,#2edadf 260.0px,#21cfe4 270.0px,#17c5e8 280.0px,#15bbea 290.0px,#12b0eb 300.0px,#149eed 310.0px,#1d87ef 320.0px,#2c74f0 330.0px,#3d63f0 340.0px,#4d4df0 350.0px,#5d36f0 360.0px,#6c23f2 370.0px,#632ff0 380.0px,#5444f0 390.0px,#445bf0 400.0px,#336df0 410.0px);-webkit-mask-image:conic-gradient(from 0deg at 0 100%,transparent 64.00deg,#000 66.00deg);mask-image:conic-gradient(from 0deg at 0 100%,transparent 64.00deg,#000 66.00deg);"></div><div class="L" style="background:radial-gradient(circle 410.0px at 0 100%,#fb261f 0.0px,#fc2f24 10.0px,#fd3928 20.0px,#fe422c 30.0px,#ff4c31 40.0px,#ff5b3a 50.0px,#ff6943 60.0px,#ff774b 70.0px,#ff8453 80.0px,#ff915b 90.0px,#fd9d62 100.0px,#f5a467 110.0px,#edac6c 120.0px,#e5b571 130.0px,#dbbf77 140.0px,#d0ca7c 150.0px,#c4d483 160.0px,#b7dd8c 170.0px,#aae696 180.0px,#9defa0 190.0px,#92f4a8 200.0px,#89f3af 210.0px,#7ff2b5 220.0px,#76f1bc 230.0px,#68efc4 240.0px,#55ebce 250.0px,#42e8d7 260.0px,#34dedd 270.0px,#27d4e2 280.0px,#1bcae7 290.0px,#16c1e9 300.0px,#14b7ea 310.0px,#11adeb 320.0px,#169aed 330.0px,#1e84f0 340.0px,#2d73f0 350.0px,#3d63f0 360.0px,#4b50f0 370.0px,#5a3bf0 380.0px,#6729f1 390.0px,#662af1 400.0px,#573ef0 410.0px);-webkit-mask-image:conic-gradient(from 0deg at 0 100%,transparent 66.00deg,#000 68.00deg);mask-image:conic-gradient(from 0deg at 0 100%,transparent 66.00deg,#000 68.00deg);"></div><div class="L" style="background:radial-gradient(circle 410.0px at 0 100%,#fb261f 0.0px,#fc2f23 10.0px,#fd3828 20.0px,#fe412c 30.0px,#ff4a30 40.0px,#ff5838 50.0px,#ff6540 60.0px,#ff7248 70.0px,#ff7e4f 80.0px,#ff8b57 90.0px,#ff975e 100.0px,#f9a064 110.0px,#f2a769 120.0px,#ebaf6e 130.0px,#e2b873 140.0px,#d9c178 150.0px,#cecc7d 160.0px,#c3d584 170.0px,#b6de8d 180.0px,#aae696 190.0px,#9eef9f 200.0px,#93f4a7 210.0px,#8af3ad 220.0px,#82f2b3 230.0px,#79f1ba 240.0px,#70f0c0 250.0px,#5eedc9 260.0px,#4bead2 270.0px,#3be4da 280.0px,#2edadf 290.0px,#22d0e4 300.0px,#18c7e8 310.0px,#15bde9 320.0px,#13b4eb 330.0px,#11aaec 340.0px,#169aed 350.0px,#1e86ef 360.0px,#2a76f0 370.0px,#3967f0 380.0px,#4658f0 390.0px,#5345f0 400.0px,#6031f0 410.0px);-webkit-mask-image:conic-gradient(from 0deg at 0 100%,transparent 68.00deg,#000 70.00deg);mask-image:conic-gradient(from 0deg at 0 100%,transparent 68.00deg,#000 70.00deg);"></div><div class="L" style="background:radial-gradient(circle 410.0px at 0 100%,#fb261f 0.0px,#fc2e23 10.0px,#fd3727 20.0px,#fe3f2b 30.0px,#ff482f 40.0px,#ff5436 50.0px,#ff603d 60.0px,#ff6c45 70.0px,#ff784c 80.0px,#ff8453 90.0px,#ff905a 100.0px,#fe9b61 110.0px,#f7a265 120.0px,#f0a96a 130.0px,#eab06f 140.0px,#e1b973 150.0px,#d7c378 160.0px,#ccce7e 170.0px,#c2d684 180.0px,#b7dd8c 190.0px,#ace595 200.0px,#a0ed9d 210.0px,#95f4a5 220.0px,#8df3ab 230.0px,#85f2b1 240.0px,#7df1b7 250.0px,#75f0bd 260.0px,#68efc4 270.0px,#56eccd 280.0px,#45e9d5 290.0px,#38e1db 300.0px,#2bd7e0 310.0px,#1fcde5 320.0px,#17c4e9 330.0px,#15bbea 340.0px,#13b2eb 350.0px,#10a9ec 360.0px,#149eed 370.0px,#1b8eef 380.0px,#237df0 390.0px,#3070f0 400.0px,#3e62f0 410.0px);-webkit-mask-image:conic-gradient(from 0deg at 0 100%,transparent 70.00deg,#000 72.00deg);mask-image:conic-gradient(from 0deg at 0 100%,transparent 70.00deg,#000 72.00deg);"></div><div class="L" style="background:radial-gradient(circle 410.0px at 0 100%,#fb261f 0.0px,#fc2e23 10.0px,#fd3627 20.0px,#fe3e2a 30.0px,#ff462e 40.0px,#ff5034 50.0px,#ff5c3b 60.0px,#ff6741 70.0px,#ff7248 80.0px,#ff7e4f 90.0px,#ff8956 100.0px,#ff945c 110.0px,#fc9d62 120.0px,#f6a466 130.0px,#efaa6b 140.0px,#e9b16f 150.0px,#e0ba74 160.0px,#d6c479 170.0px,#cbcf7e 180.0px,#c2d685 190.0px,#b9dc8b 200.0px,#afe393 210.0px,#a4eb9b 220.0px,#99f2a2 230.0px,#91f3a9 240.0px,#89f3ae 250.0px,#81f2b4 260.0px,#79f1b9 270.0px,#72f0bf 280.0px,#63eec6 290.0px,#53ebcf 300.0px,#42e8d7 310.0px,#35dfdc 320.0px,#29d6e1 330.0px,#1dcce6 340.0px,#17c3e9 350.0px,#15baea 360.0px,#13b3eb 370.0px,#11abec 380.0px,#13a2ed 390.0px,#1797ee 400.0px,#1c89ef 410.0px);-webkit-mask-image:conic-gradient(from 0deg at 0 100%,transparent 72.00deg,#000 74.00deg);mask-image:conic-gradient(from 0deg at 0 100%,transparent 72.00deg,#000 74.00deg);"></div><div class="L" style="background:radial-gradient(circle 410.0px at 0 100%,#fb261f 0.0px,#fc2d23 10.0px,#fd3526 20.0px,#fe3d2a 30.0px,#fe442d 40.0px,#ff4c31 50.0px,#ff5738 60.0px,#ff623e 70.0px,#ff6c44 80.0px,#ff774b 90.0px,#ff8151 100.0px,#ff8c57 110.0px,#ff965e 120.0px,#fb9e63 130.0px,#f5a467 140.0px,#efaa6b 150.0px,#e8b270 160.0px,#dfbb75 170.0px,#d5c579 180.0px,#ccce7e 190.0px,#c3d684 200.0px,#badc8a 210.0px,#b1e191 220.0px,#a9e797 230.0px,#9fee9e 240.0px,#96f4a5 250.0px,#8ef3ab 260.0px,#86f2b0 270.0px,#7ff2b6 280.0px,#77f1bb 290.0px,#70f0c0 300.0px,#60edc8 310.0px,#50ebd0 320.0px,#40e8d8 330.0px,#34dfdd 340.0px,#29d6e1 350.0px,#1ecde5 360.0px,#17c5e8 370.0px,#15bde9 380.0px,#13b6ea 390.0px,#12aeeb 400.0px,#10a7ec 410.0px);-webkit-mask-image:conic-gradient(from 0deg at 0 100%,transparent 74.00deg,#000 76.00deg);mask-image:conic-gradient(from 0deg at 0 100%,transparent 74.00deg,#000 76.00deg);"></div><div class="L" style="background:radial-gradient(circle 410.0px at 0 100%,#fb261f 0.0px,#fc2d23 10.0px,#fd3426 20.0px,#fd3b29 30.0px,#fe422c 40.0px,#ff492f 50.0px,#ff5235 60.0px,#ff5c3b 70.0px,#ff6641 80.0px,#ff7047 90.0px,#ff794c 100.0px,#ff8352 110.0px,#ff8d58 120.0px,#ff965e 130.0px,#fb9e62 140.0px,#f6a466 150.0px,#efab6b 160.0px,#e8b270 170.0px,#dfbb74 180.0px,#d6c479 190.0px,#cdcd7e 200.0px,#c4d583 210.0px,#bcda89 220.0px,#b4e08f 230.0px,#ace595 240.0px,#a4eb9b 250.0px,#9bf0a1 260.0px,#93f4a7 270.0px,#8cf3ac 280.0px,#85f2b1 290.0px,#7ef1b6 300.0px,#76f1bc 310.0px,#6ef0c1 320.0px,#5eedc9 330.0px,#4febd0 340.0px,#41e8d8 350.0px,#36e0dc 360.0px,#2dd9e0 370.0px,#23d1e3 380.0px,#1ac9e7 390.0px,#17c2e9 400.0px,#15bbea 410.0px);-webkit-mask-image:conic-gradient(from 0deg at 0 100%,transparent 76.00deg,#000 78.00deg);mask-image:conic-gradient(from 0deg at 0 100%,transparent 76.00deg,#000 78.00deg);"></div><div class="L" style="background:radial-gradient(circle 410.0px at 0 100%,#fb261f 0.0px,#fc2c22 10.0px,#fd3325 20.0px,#fd3a28 30.0px,#fe402b 40.0px,#ff462e 50.0px,#ff4d32 60.0px,#ff5637 70.0px,#ff5f3d 80.0px,#ff6842 90.0px,#ff7148 100.0px,#ff7a4d 110.0px,#ff8352 120.0px,#ff8c58 130.0px,#ff955d 140.0px,#fc9d62 150.0px,#f6a466 160.0px,#efaa6b 170.0px,#e9b16f 180.0px,#e1b974 190.0px,#d8c278 200.0px,#cfcb7c 210.0px,#c7d381 220.0px,#bfd886 230.0px,#b7dd8c 240.0px,#b0e392 250.0px,#a7e898 260.0px,#9fee9e 270.0px,#97f3a4 280.0px,#91f3a9 290.0px,#8af3ad 300.0px,#84f2b2 310.0px,#7df1b7 320.0px,#76f1bc 330.0px,#6ef0c1 340.0px,#5fedc8 350.0px,#52ebcf 360.0px,#45e9d5 370.0px,#3be4da 380.0px,#32ddde 390.0px,#2ad6e1 400.0px,#22d0e4 410.0px);-webkit-mask-image:conic-gradient(from 0deg at 0 100%,transparent 78.00deg,#000 80.00deg);mask-image:conic-gradient(from 0deg at 0 100%,transparent 78.00deg,#000 80.00deg);"></div><div class="L" style="background:radial-gradient(circle 410.0px at 0 100%,#fb261f 0.0px,#fc2c22 10.0px,#fc3225 20.0px,#fd3828 30.0px,#fe3e2b 40.0px,#fe442d 50.0px,#ff4930 60.0px,#ff5134 70.0px,#ff5939 80.0px,#ff613e 90.0px,#ff6943 100.0px,#ff7248 110.0px,#ff7a4d 120.0px,#ff8252 130.0px,#ff8a57 140.0px,#ff935c 150.0px,#fd9c61 160.0px,#f7a266 170.0px,#f1a96a 180.0px,#ebaf6e 190.0px,#e3b772 200.0px,#dbbf76 210.0px,#d3c77b 220.0px,#cbcf7f 230.0px,#c3d583 240.0px,#bcda89 250.0px,#b4e08f 260.0px,#ace595 270.0px,#a4eb9b 280.0px,#9cf0a1 290.0px,#94f4a6 300.0px,#8ef3ab 310.0px,#88f3af 320.0px,#82f2b3 330.0px,#7cf1b8 340.0px,#76f1bc 350.0px,#70f0c0 360.0px,#65eec5 370.0px,#5aeccb 380.0px,#4dead1 390.0px,#43e8d7 400.0px,#3be4da 410.0px);-webkit-mask-image:conic-gradient(from 0deg at 0 100%,transparent 80.00deg,#000 82.00deg);mask-image:conic-gradient(from 0deg at 0 100%,transparent 80.00deg,#000 82.00deg);"></div><div class="L" style="background:radial-gradient(circle 410.0px at 0 100%,#fb261f 0.0px,#fc2b22 10.0px,#fc3124 20.0px,#fd3627 30.0px,#fe3c2a 40.0px,#fe412c 50.0px,#ff462e 60.0px,#ff4b30 70.0px,#ff5235 80.0px,#ff5a39 90.0px,#ff613e 100.0px,#ff6942 110.0px,#ff7047 120.0px,#ff784b 130.0px,#ff7f50 140.0px,#ff8755 150.0px,#ff915b 160.0px,#ff9a60 170.0px,#f9a064 180.0px,#f3a668 190.0px,#edac6c 200.0px,#e8b270 210.0px,#e0ba74 220.0px,#d8c278 230.0px,#d0ca7c 240.0px,#c8d280 250.0px,#c0d786 260.0px,#b9dd8b 270.0px,#b1e291 280.0px,#a9e797 290.0px,#a1ec9d 300.0px,#99f2a3 310.0px,#92f4a8 320.0px,#8cf3ac 330.0px,#86f2b0 340.0px,#80f2b4 350.0px,#7bf1b8 360.0px,#76f1bc 370.0px,#71f0bf 380.0px,#68efc4 390.0px,#5fedc9 400.0px,#56eccd 410.0px);-webkit-mask-image:conic-gradient(from 0deg at 0 100%,transparent 82.00deg,#000 84.00deg);mask-image:conic-gradient(from 0deg at 0 100%,transparent 82.00deg,#000 84.00deg);"></div><div class="L" style="background:radial-gradient(circle 410.0px at 0 100%,#fb261f 0.0px,#fc2b22 10.0px,#fc3024 20.0px,#fd3526 30.0px,#fd3a29 40.0px,#fe3f2b 50.0px,#fe432d 60.0px,#ff472f 70.0px,#ff4c31 80.0px,#ff5235 90.0px,#ff5939 100.0px,#ff603d 110.0px,#ff6641 120.0px,#ff6d45 130.0px,#ff7449 140.0px,#ff7b4e 150.0px,#ff8553 160.0px,#ff8e59 170.0px,#ff975e 180.0px,#fc9e62 190.0px,#f6a366 200.0px,#f1a96a 210.0px,#ecae6e 220.0px,#e6b471 230.0px,#debc75 240.0px,#d7c379 250.0px,#cecc7d 260.0px,#c6d381 270.0px,#bfd887 280.0px,#b7dd8c 290.0px,#b0e392 300.0px,#a8e898 310.0px,#a0ed9e 320.0px,#98f3a4 330.0px,#91f4a8 340.0px,#8bf3ad 350.0px,#86f2b0 360.0px,#81f2b4 370.0px,#7cf1b7 380.0px,#78f1bb 390.0px,#74f0bd 400.0px,#70f0c0 410.0px);-webkit-mask-image:conic-gradient(from 0deg at 0 100%,transparent 84.00deg,#000 86.00deg);mask-image:conic-gradient(from 0deg at 0 100%,transparent 84.00deg,#000 86.00deg);"></div><div class="L" style="background:radial-gradient(circle 410.0px at 0 100%,#fb261f 0.0px,#fc2a21 10.0px,#fc2f23 20.0px,#fd3326 30.0px,#fd3828 40.0px,#fe3c2a 50.0px,#fe402b 60.0px,#fe432d 70.0px,#ff472f 80.0px,#ff4b30 90.0px,#ff5134 100.0px,#ff5738 110.0px,#ff5d3b 120.0px,#ff633f 130.0px,#ff6942 140.0px,#ff6f46 150.0px,#ff784c 160.0px,#ff8051 170.0px,#ff8956 180.0px,#ff915b 190.0px,#ff9a60 200.0px,#fa9f63 210.0px,#f5a467 220.0px,#f0aa6a 230.0px,#ebaf6e 240.0px,#e5b572 250.0px,#ddbd75 260.0px,#d5c579 270.0px,#cdcd7d 280.0px,#c6d382 290.0px,#bed987 300.0px,#b7de8d 310.0px,#afe393 320.0px,#a7e898 330.0px,#9fee9e 340.0px,#98f3a4 350.0px,#92f4a8 360.0px,#8ef3ab 370.0px,#89f3ae 380.0px,#84f2b2 390.0px,#80f2b4 400.0px,#7df1b7 410.0px);-webkit-mask-image:conic-gradient(from 0deg at 0 100%,transparent 86.00deg,#000 88.00deg);mask-image:conic-gradient(from 0deg at 0 100%,transparent 86.00deg,#000 88.00deg);"></div><div class="L" style="background:radial-gradient(circle 410.0px at 0 100%,#fb261f 0.0px,#fc2a21 10.0px,#fc2e23 20.0px,#fd3325 30.0px,#fd3727 40.0px,#fd3b29 50.0px,#fe3e2b 60.0px,#fe412c 70.0px,#fe452e 80.0px,#ff482f 90.0px,#ff4c31 100.0px,#ff5235 110.0px,#ff5738 120.0px,#ff5d3b 130.0px,#ff633f 140.0px,#ff6943 150.0px,#ff7148 160.0px,#ff7a4d 170.0px,#ff8251 180.0px,#ff8a56 190.0px,#ff925b 200.0px,#ff9a60 210.0px,#fa9f63 220.0px,#f5a467 230.0px,#f0a96a 240.0px,#ebaf6e 250.0px,#e5b572 260.0px,#ddbd76 270.0px,#d5c579 280.0px,#cecc7d 290.0px,#c6d382 300.0px,#bed987 310.0px,#b7de8d 320.0px,#afe393 330.0px,#a7e898 340.0px,#a0ed9e 350.0px,#99f2a3 360.0px,#94f4a7 370.0px,#8ff3aa 380.0px,#8bf3ad 390.0px,#87f2b0 400.0px,#84f2b2 410.0px);-webkit-mask-image:conic-gradient(from 0deg at 0 100%,transparent 88.00deg,#000 89.00deg);mask-image:conic-gradient(from 0deg at 0 100%,transparent 88.00deg,#000 89.00deg);"></div><div class="L" style="background:radial-gradient(circle 410.0px at 0 100%,#fb261f 0.0px,#fc2a21 10.0px,#fc2e23 20.0px,#fc3225 30.0px,#fd3627 40.0px,#fd3a28 50.0px,#fe3d2a 60.0px,#fe402b 70.0px,#fe432d 80.0px,#ff462e 90.0px,#ff492f 100.0px,#ff4d32 110.0px,#ff5235 120.0px,#ff5838 130.0px,#ff5d3b 140.0px,#ff633f 150.0px,#ff6b44 160.0px,#ff7348 170.0px,#ff7b4d 180.0px,#ff8252 190.0px,#ff8a57 200.0px,#ff925b 210.0px,#ff9a60 220.0px,#fa9f63 230.0px,#f6a467 240.0px,#f1a96a 250.0px,#ebaf6e 260.0px,#e5b572 270.0px,#ddbd75 280.0px,#d6c479 290.0px,#cecc7d 300.0px,#c6d381 310.0px,#bed887 320.0px,#b7de8d 330.0px,#afe392 340.0px,#a8e898 350.0px,#a2ec9c 360.0px,#9cf0a1 370.0px,#96f4a5 380.0px,#91f3a8 390.0px,#8df3ab 400.0px,#8bf3ad 410.0px);-webkit-mask-image:conic-gradient(from 0deg at 0 100%,transparent 89.00deg,#000 90.00deg);mask-image:conic-gradient(from 0deg at 0 100%,transparent 89.00deg,#000 90.00deg);"></div><div class="L" style="background:repeating-radial-gradient(circle at 0 100%,rgba(255,255,255,0) 0px,rgba(255,255,255,0) 0.5px,rgba(255,255,255,0.8) 1.4px,rgba(255,255,255,0) 2.3px,rgba(255,255,255,0) 2.8px);-webkit-mask-image:radial-gradient(circle 95px at 0 100%,rgba(0,0,0,0.95) 0px,rgba(0,0,0,0.55) 35px,rgba(0,0,0,0.2) 65px,rgba(0,0,0,0) 95px);mask-image:radial-gradient(circle 95px at 0 100%,rgba(0,0,0,0.95) 0px,rgba(0,0,0,0.55) 35px,rgba(0,0,0,0.2) 65px,rgba(0,0,0,0) 95px)"></div></div><div style="position:absolute;left:416.1px;top:221.4px;width:14.9px;height:98.1px;background:linear-gradient(to bottom,#fa1a1a 0.0%,#fc2a21 4.2%,#fd3a29 8.3%,#ff4a30 12.5%,#ff6540 16.7%,#ff7f50 20.8%,#ff9a60 25.0%,#efab6b 29.2%,#dcbe76 33.3%,#c6d482 37.5%,#b1e291 41.7%,#9cf0a1 45.8%,#8bf3ad 50.0%,#7bf1b8 54.2%,#65eec5 58.3%,#44e9d6 62.5%,#2bd7e0 66.7%,#17c4e8 70.8%,#12b1eb 75.0%,#169aed 79.2%,#227ef0 83.3%,#3868f0 87.5%,#4e4cf0 91.7%,#642df1 95.8%,#7616f4 100.0%)"></div><div style="position:absolute;left:927.9px;top:215.6px;width:14.3px;height:98.9px;background:linear-gradient(to bottom,#fa1a1a 0.0%,#fc2a21 4.2%,#fd3a29 8.3%,#ff4a30 12.5%,#ff6540 16.7%,#ff7f50 20.8%,#ff9a60 25.0%,#efab6b 29.2%,#dcbe76 33.3%,#c6d482 37.5%,#b1e291 41.7%,#9cf0a1 45.8%,#8bf3ad 50.0%,#7bf1b8 54.2%,#65eec5 58.3%,#44e9d6 62.5%,#2bd7e0 66.7%,#17c4e8 70.8%,#12b1eb 75.0%,#169aed 79.2%,#227ef0 83.3%,#3868f0 87.5%,#4e4cf0 91.7%,#642df1 95.8%,#7616f4 100.0%)"></div><div style="position:absolute;left:1440.2px;top:214.9px;width:14.2px;height:101.0px;background:linear-gradient(to bottom,#fa1a1a 0.0%,#fc2a21 4.2%,#fd3a29 8.3%,#ff4a30 12.5%,#ff6540 16.7%,#ff7f50 20.8%,#ff9a60 25.0%,#efab6b 29.2%,#dcbe76 33.3%,#c6d482 37.5%,#b1e291 41.7%,#9cf0a1 45.8%,#8bf3ad 50.0%,#7bf1b8 54.2%,#65eec5 58.3%,#44e9d6 62.5%,#2bd7e0 66.7%,#17c4e8 70.8%,#12b1eb 75.0%,#169aed 79.2%,#227ef0 83.3%,#3868f0 87.5%,#4e4cf0 91.7%,#642df1 95.8%,#7616f4 100.0%)"></div>
<svg width="1498" height="566" viewBox="0 0 1498 566" font-family='"Liberation Sans", sans-serif'>
<path d="M33.0 244.3 L34.7 244.3 L38.9 244.5 L43.0 244.7 L47.1 244.9 L51.2 245.3 L55.3 245.7 L59.4 246.2 L63.5 246.7 L67.6 247.3 L71.7 248.0 L75.7 248.8 L79.8 249.6 L83.8 250.5 L87.8 251.5 L91.8 252.6 L95.8 253.7 L99.7 254.9 L103.7 256.1 L107.6 257.4 L111.5 258.8 L115.3 260.3 L119.2 261.8 L123.0 263.4 L126.7 265.1 L130.5 266.8 L134.2 268.6 L137.9 270.4 L141.5 272.3 L145.2 274.3 L148.7 276.4 L152.3 278.5 L155.8 280.6 L159.3 282.9 L162.7 285.1 L166.1 287.5 L169.4 289.9 L172.8 292.4 L176.0 294.9 L179.2 297.5 L182.4 300.1 L185.5 302.8 L188.6 305.5 L191.6 308.3 L194.6 311.2 L197.5 314.1 L200.4 317.0 L203.3 320.0 L206.0 323.0 L208.7 326.1 L211.4 329.3 L214.0 332.5 L216.6 335.7 L219.1 339.0 L221.5 342.3 L223.9 345.7 L226.2 349.1 L228.5 352.5 L230.7 356.0 L232.8 359.5 L234.9 363.0 L236.9 366.6 L238.9 370.3 L240.8 373.9 L242.6 377.6 L244.3 381.3 L246.0 385.1 L247.7 388.9 L249.2 392.7 L250.7 396.5 L252.1 400.4 L253.5 404.2 L254.8 408.2 L256.0 412.1 L257.2 416.0 L258.3 420.0 L259.3 424.0 L260.2 428.0 L261.1 432.0 L261.9 436.0 L262.7 440.1 L263.3 444.1 L263.9 448.2 L264.4 452.3 L264.9 456.4 L265.3 460.5 L265.6 464.6 L265.8 468.7 L266.0 472.8 L266.1 476.9 L266.1 481.0" fill="none" stroke="#b3aca4" stroke-width="3.4" stroke-dasharray="13 6"/><path d="M270 478.2 L437 478.2" fill="none" stroke="#b3aca4" stroke-width="3.4" stroke-dasharray="13 6" stroke-dashoffset="-2"/><path d="M547.4 74 L547.4 281" fill="none" stroke="#b3aca4" stroke-width="3.4" stroke-dasharray="13 6"/><path d="M547.4 281.0 L578.0 280.5 L640.0 285.0 L697.0 291.4 L750.0 296.5 L805.0 303.0 L860.0 312.0 L913.6 327.6" fill="none" stroke="#b3aca4" stroke-width="3.4" stroke-dasharray="13 6"/><path d="M1056.0 311.0 L1060.7 311.0 L1106.0 313.0 L1241.0 320.4 L1340.0 325.0 L1429.0 335.0" fill="none" stroke="#b3aca4" stroke-width="3.4" stroke-dasharray="13 6"/><path d="M1056.0 310.5 L1098.0 310.0 L1143.0 290.6 L1196.0 266.8 L1249.0 235.0 L1302.0 196.5 L1326.0 180.6" fill="none" stroke="#b3aca4" stroke-width="3.4" stroke-dasharray="13 6"/><line x1="418.0" y1="248.8" x2="429.9" y2="248.8" stroke="#000" stroke-width="2.4"/><line x1="418.0" y1="298.7" x2="429.9" y2="298.7" stroke="#000" stroke-width="2.4"/><line x1="929.5" y1="232.9" x2="940.5" y2="232.9" stroke="#000" stroke-width="2.4"/><line x1="929.5" y1="272.4" x2="940.5" y2="272.4" stroke="#000" stroke-width="2.4"/><line x1="929.5" y1="313.1" x2="940.5" y2="313.1" stroke="#000" stroke-width="2.4"/><line x1="1442.0" y1="247.5" x2="1453.0" y2="247.5" stroke="#000" stroke-width="2.4"/><line x1="1442.0" y1="314.0" x2="1453.0" y2="314.0" stroke="#000" stroke-width="2.4"/><path d="M290.0 70.5 L303.2 70.5" stroke="#6a6e72" stroke-width="5.4"/><path d="M303.2 70.5 L316.5 70.5" stroke="#d07810" stroke-width="5.4"/><path d="M347.9 70.5 L361.0 70.5" stroke="#d07810" stroke-width="5.4"/><path d="M361.0 70.5 L374.2 70.5" stroke="#6a6e72" stroke-width="5.4"/><radialGradient id="g1" cx="0.45" cy="0.42" r="0.6"><stop offset="0" stop-color="#9a9c9e"/><stop offset="0.55" stop-color="#838587"/><stop offset="1" stop-color="#55585a"/></radialGradient><circle cx="271.9" cy="70.4" r="18.1" fill="url(#g1)" stroke="#55585a" stroke-width="1.2"/><radialGradient id="g2" cx="0.45" cy="0.42" r="0.6"><stop offset="0" stop-color="#9a9c9e"/><stop offset="0.55" stop-color="#838587"/><stop offset="1" stop-color="#55585a"/></radialGradient><circle cx="392.2" cy="70.4" r="18.0" fill="url(#g2)" stroke="#55585a" stroke-width="1.2"/><radialGradient id="o1" cx="0.45" cy="0.42" r="0.6"><stop offset="0" stop-color="#f8a428"/><stop offset="0.55" stop-color="#ec9420"/><stop offset="1" stop-color="#b06c12"/></radialGradient><circle cx="332.2" cy="70.7" r="15.9" fill="url(#o1)" stroke="#b06c12" stroke-width="1.2"/><path d="M786.7 82.3 L825.6 82.4" stroke="#e8d860" stroke-width="4.6"/><path d="M825.6 82.4 L864.5 82.5" stroke="#d050e0" stroke-width="4.6"/><path d="M825.7 43.3 L845.1 62.9" stroke="#c8b040" stroke-width="4.6"/><path d="M845.1 62.9 L864.5 82.5" stroke="#b030c0" stroke-width="4.6"/><path d="M825.7 121.7 L845.1 102.1" stroke="#c8b040" stroke-width="4.6"/><path d="M845.1 102.1 L864.5 82.5" stroke="#b030c0" stroke-width="4.6"/><path d="M902.9 82.3 L883.7 82.4" stroke="#c8b040" stroke-width="4.6"/><path d="M883.7 82.4 L864.5 82.5" stroke="#b030c0" stroke-width="4.6"/><radialGradient id="y0" cx="0.45" cy="0.42" r="0.6"><stop offset="0" stop-color="#f8e060"/><stop offset="0.55" stop-color="#ecd050"/><stop offset="1" stop-color="#a89030"/></radialGradient><circle cx="825.7" cy="43.3" r="15.8" fill="url(#y0)" stroke="#a89030" stroke-width="1.2"/><radialGradient id="y1" cx="0.45" cy="0.42" r="0.6"><stop offset="0" stop-color="#f8e060"/><stop offset="0.55" stop-color="#ecd050"/><stop offset="1" stop-color="#a89030"/></radialGradient><circle cx="786.7" cy="82.3" r="15.8" fill="url(#y1)" stroke="#a89030" stroke-width="1.2"/><radialGradient id="y2" cx="0.45" cy="0.42" r="0.6"><stop offset="0" stop-color="#f8e060"/><stop offset="0.55" stop-color="#ecd050"/><stop offset="1" stop-color="#a89030"/></radialGradient><circle cx="825.7" cy="121.7" r="15.8" fill="url(#y2)" stroke="#a89030" stroke-width="1.2"/><radialGradient id="p0" cx="0.45" cy="0.42" r="0.6"><stop offset="0" stop-color="#e050f0"/><stop offset="0.55" stop-color="#cc40de"/><stop offset="1" stop-color="#8a2a9a"/></radialGradient><circle cx="864.5" cy="82.5" r="18.0" fill="url(#p0)" stroke="#8a2a9a" stroke-width="1.2"/><radialGradient id="y3" cx="0.45" cy="0.42" r="0.6"><stop offset="0" stop-color="#f8e060"/><stop offset="0.55" stop-color="#ecd050"/><stop offset="1" stop-color="#a89030"/></radialGradient><circle cx="902.9" cy="82.3" r="15.8" fill="url(#y3)" stroke="#a89030" stroke-width="1.2"/><path d="M1325.0 82.1 L1356.0 72.5" stroke="#d050e0" stroke-width="3.4"/><path d="M1356.0 72.5 L1387.0 62.9" stroke="#a8e890" stroke-width="3.4"/><path d="M1387.0 62.9 L1402.8 72.6" stroke="#90c878" stroke-width="3.4"/><path d="M1402.8 72.6 L1418.5 82.3" stroke="#b030c0" stroke-width="3.4"/><radialGradient id="p1" cx="0.45" cy="0.42" r="0.6"><stop offset="0" stop-color="#e050f0"/><stop offset="0.55" stop-color="#cc40de"/><stop offset="1" stop-color="#8a2a9a"/></radialGradient><circle cx="1325.0" cy="82.1" r="16.8" fill="url(#p1)" stroke="#8a2a9a" stroke-width="1.2"/><radialGradient id="gr" cx="0.45" cy="0.42" r="0.6"><stop offset="0" stop-color="#b0ec90"/><stop offset="0.55" stop-color="#9ad880"/><stop offset="1" stop-color="#6a9a58"/></radialGradient><circle cx="1387.0" cy="62.9" r="14.4" fill="url(#gr)" stroke="#6a9a58" stroke-width="1.2"/><radialGradient id="p2" cx="0.45" cy="0.42" r="0.6"><stop offset="0" stop-color="#e050f0"/><stop offset="0.55" stop-color="#cc40de"/><stop offset="1" stop-color="#8a2a9a"/></radialGradient><circle cx="1418.5" cy="82.3" r="16.6" fill="url(#p2)" stroke="#8a2a9a" stroke-width="1.2"/><text x="-0.5" y="35.6" font-size="41.0" text-anchor="start" fill="#000" font-weight="bold">a</text><text x="516.2" y="35.8" font-size="41.0" text-anchor="start" fill="#000" font-weight="bold">b</text><text x="1027.8" y="35.8" font-size="41.0" text-anchor="start" fill="#000" font-weight="bold">c</text><text x="30.4" y="62.5" font-size="29.3" text-anchor="middle" fill="#000">0</text><text x="544.7" y="64.4" font-size="29.3" text-anchor="middle" fill="#000">0</text><text x="1053.3" y="67.0" font-size="29.3" text-anchor="middle" fill="#000">0</text><text x="28.1" y="517.6" font-size="29.3" text-anchor="middle" fill="#000">0.00</text><text x="150.8" y="517.6" font-size="29.3" text-anchor="middle" fill="#000">0.15</text><text x="272.8" y="517.6" font-size="29.3" text-anchor="middle" fill="#000">0.30</text><text x="395.4" y="517.6" font-size="29.3" text-anchor="middle" fill="#000">0.45</text><text x="543.9" y="517.6" font-size="29.3" text-anchor="middle" fill="#000">0.00</text><text x="665.8" y="517.6" font-size="29.3" text-anchor="middle" fill="#000">0.15</text><text x="787.8" y="517.6" font-size="29.3" text-anchor="middle" fill="#000">0.30</text><text x="909.5" y="517.6" font-size="29.3" text-anchor="middle" fill="#000">0.45</text><text x="1056.4" y="517.6" font-size="29.3" text-anchor="middle" fill="#000">0.00</text><text x="1176.9" y="517.6" font-size="29.3" text-anchor="middle" fill="#000">0.15</text><text x="1298.0" y="517.6" font-size="29.3" text-anchor="middle" fill="#000">0.30</text><text x="1419.2" y="517.6" font-size="29.3" text-anchor="middle" fill="#000">0.45</text><text x="238.8" y="559.8" font-size="29.3" text-anchor="middle" fill="#000">Magnetic field (eV)</text><text x="746.0" y="559.8" font-size="29.3" text-anchor="middle" fill="#000">Magnetic field (eV)</text><text x="1258.4" y="559.8" font-size="29.3" text-anchor="middle" fill="#000">Magnetic field (eV)</text><text x="330.9" y="188.0" font-size="29.3" text-anchor="middle" fill="#000" transform="rotate(45.0 330.9 178.0)">45</text><text x="367.1" y="169.1" font-size="29.3" text-anchor="middle" fill="#000" transform="rotate(45.0 367.1 159.1)"><tspan font-style="italic">θ</tspan> [°]</text><text x="846.5" y="192.8" font-size="29.3" text-anchor="middle" fill="#000" transform="rotate(45.0 846.5 182.8)">45</text><text x="878.3" y="166.0" font-size="29.3" text-anchor="middle" fill="#000" transform="rotate(45.0 878.3 156.0)"><tspan font-style="italic">θ</tspan> [°]</text><text x="1357.9" y="186.0" font-size="29.3" text-anchor="middle" fill="#000" transform="rotate(45.0 1357.9 176.0)">45</text><text x="1389.8" y="165.2" font-size="29.3" text-anchor="middle" fill="#000" transform="rotate(45.0 1389.8 155.2)"><tspan font-style="italic">θ</tspan> [°]</text><text x="457.8" y="482.0" font-size="29.3" text-anchor="middle" fill="#000" transform="rotate(90.0 457.8 472.0)">90</text><text x="974.6" y="481.7" font-size="29.3" text-anchor="middle" fill="#000" transform="rotate(90.0 974.6 471.7)">90</text><text x="1482.5" y="481.7" font-size="29.3" text-anchor="middle" fill="#000" transform="rotate(90.0 1482.5 471.7)">90</text><text x="438.3" y="260.0" font-size="24.5" text-anchor="start" fill="#000">0.1</text><text x="438.3" y="311.8" font-size="24.5" text-anchor="start" fill="#000">0.0</text><text x="946.8" y="242.5" font-size="24.5" text-anchor="start" fill="#000">0.2</text><text x="946.8" y="282.2" font-size="24.5" text-anchor="start" fill="#000">0.1</text><text x="946.8" y="321.5" font-size="24.5" text-anchor="start" fill="#000">0.0</text><text x="1461.0" y="256.2" font-size="24.5" text-anchor="start" fill="#000">0.1</text><text x="1461.0" y="319.3" font-size="24.5" text-anchor="start" fill="#000">0.0</text><text x="252.2" y="222.3" font-size="29.3" text-anchor="middle" fill="#000">QAHI</text><text x="252.8" y="258.9" font-size="29.3" text-anchor="middle" fill="#000">C = 2</text><text x="120.0" y="398.5" font-size="29.3" text-anchor="middle" fill="#000">M-broken</text><text x="109.3" y="440.5" font-size="29.3" text-anchor="middle" fill="#000">TCI</text><text x="347.6" y="438.0" font-size="29.3" text-anchor="middle" fill="#fff">MWSM</text><text x="214.8" y="318.8" font-size="29.3" text-anchor="middle" fill="#000" transform="rotate(45.0 214.8 308.8)">MNLSM</text><path d="M348.9 449.5 L348.9 464.6" stroke="#000" stroke-width="3.2"/><path d="M341.7 459.1 L348.9 461.6 L356.1 459.1 L348.9 467.6 Z" fill="#000"/><path d="M560.4 137.6 L582.2 137.6" stroke="#000" stroke-width="3.4"/><path d="M566.4 130.8 L559.9 137.6 L566.4 144.4" fill="none" stroke="#000" stroke-width="3.4" stroke-linejoin="miter"/><text x="593.5" y="147.0" font-size="29.3" text-anchor="start" fill="#000">MNLSM</text><text x="736.9" y="190.7" font-size="29.3" text-anchor="middle" fill="#000">QAHI</text><text x="735.9" y="223.0" font-size="29.3" text-anchor="middle" fill="#000">C = 1</text><text x="733.8" y="289.0" font-size="29.3" text-anchor="middle" fill="#fff">MWSM</text><text x="636.2" y="396.5" font-size="29.3" text-anchor="start" fill="#000">T-broken QSHI</text><text x="690.0" y="434.2" font-size="29.3" text-anchor="start" fill="#000">C</text><text x="711.7" y="442.5" font-size="21.0" text-anchor="start" fill="#000">S</text><text x="732.9" y="436.4" font-size="29.3" text-anchor="start" fill="#000">=</text><text x="758.5" y="434.2" font-size="29.3" text-anchor="start" fill="#000">1</text><text x="1141.4" y="141.9" font-size="29.3" text-anchor="middle" fill="#000">QAHI</text><text x="1140.2" y="182.3" font-size="29.3" text-anchor="middle" fill="#000">C = 2</text><text x="1207.0" y="238.6" font-size="29.3" text-anchor="middle" fill="#fff" transform="rotate(-30.5 1207.0 228.6)">MWSM</text><text x="1325.2" y="260.6" font-size="29.3" text-anchor="middle" fill="#000">QAHI</text><text x="1322.0" y="300.3" font-size="29.3" text-anchor="middle" fill="#000">C = 1</text><text x="1224.0" y="352.5" font-size="29.3" text-anchor="middle" fill="#fff">MWSM</text><text x="1143.3" y="396.3" font-size="29.3" text-anchor="start" fill="#000">T-broken QSHI</text><text x="1200.4" y="434.0" font-size="29.3" text-anchor="start" fill="#000">C</text><text x="1222.1" y="442.3" font-size="21.0" text-anchor="start" fill="#000">S</text><text x="1243.3" y="436.2" font-size="29.3" text-anchor="start" fill="#000">=</text><text x="1268.9" y="434.0" font-size="29.3" text-anchor="start" fill="#000">1</text><path d="M30.60 481.00 L30.60 73.00 A408.00 408.00 0 0 1 438.60 481.00 Z" fill="none" stroke="#000" stroke-width="4.6"/><line x1="153.00" y1="481.00" x2="153.00" y2="473.00" stroke="#000" stroke-width="3"/><line x1="30.60" y1="358.60" x2="38.60" y2="358.60" stroke="#000" stroke-width="3"/><line x1="275.40" y1="481.00" x2="275.40" y2="473.00" stroke="#000" stroke-width="3"/><line x1="30.60" y1="236.20" x2="38.60" y2="236.20" stroke="#000" stroke-width="3"/><line x1="397.80" y1="481.00" x2="397.80" y2="473.00" stroke="#000" stroke-width="3"/><line x1="30.60" y1="113.80" x2="38.60" y2="113.80" stroke="#000" stroke-width="3"/><line x1="319.10" y1="192.50" x2="313.44" y2="198.16" stroke="#000" stroke-width="3"/><path d="M542.20 481.00 L542.20 73.50 A407.50 407.50 0 0 1 949.70 481.00 Z" fill="none" stroke="#000" stroke-width="4.6"/><line x1="664.45" y1="481.00" x2="664.45" y2="473.00" stroke="#000" stroke-width="3"/><line x1="542.20" y1="358.75" x2="550.20" y2="358.75" stroke="#000" stroke-width="3"/><line x1="786.70" y1="481.00" x2="786.70" y2="473.00" stroke="#000" stroke-width="3"/><line x1="542.20" y1="236.50" x2="550.20" y2="236.50" stroke="#000" stroke-width="3"/><line x1="908.95" y1="481.00" x2="908.95" y2="473.00" stroke="#000" stroke-width="3"/><line x1="542.20" y1="114.25" x2="550.20" y2="114.25" stroke="#000" stroke-width="3"/><line x1="830.35" y1="192.85" x2="824.69" y2="198.51" stroke="#000" stroke-width="3"/><path d="M1052.70 481.80 L1052.70 73.80 A408.00 408.00 0 0 1 1460.70 481.80 Z" fill="none" stroke="#000" stroke-width="4.6"/><line x1="1175.10" y1="481.80" x2="1175.10" y2="473.80" stroke="#000" stroke-width="3"/><line x1="1052.70" y1="359.40" x2="1060.70" y2="359.40" stroke="#000" stroke-width="3"/><line x1="1297.50" y1="481.80" x2="1297.50" y2="473.80" stroke="#000" stroke-width="3"/><line x1="1052.70" y1="237.00" x2="1060.70" y2="237.00" stroke="#000" stroke-width="3"/><line x1="1419.90" y1="481.80" x2="1419.90" y2="473.80" stroke="#000" stroke-width="3"/><line x1="1052.70" y1="114.60" x2="1060.70" y2="114.60" stroke="#000" stroke-width="3"/><line x1="1341.20" y1="193.30" x2="1335.54" y2="198.96" stroke="#000" stroke-width="3"/>
</svg>
</body></html>
